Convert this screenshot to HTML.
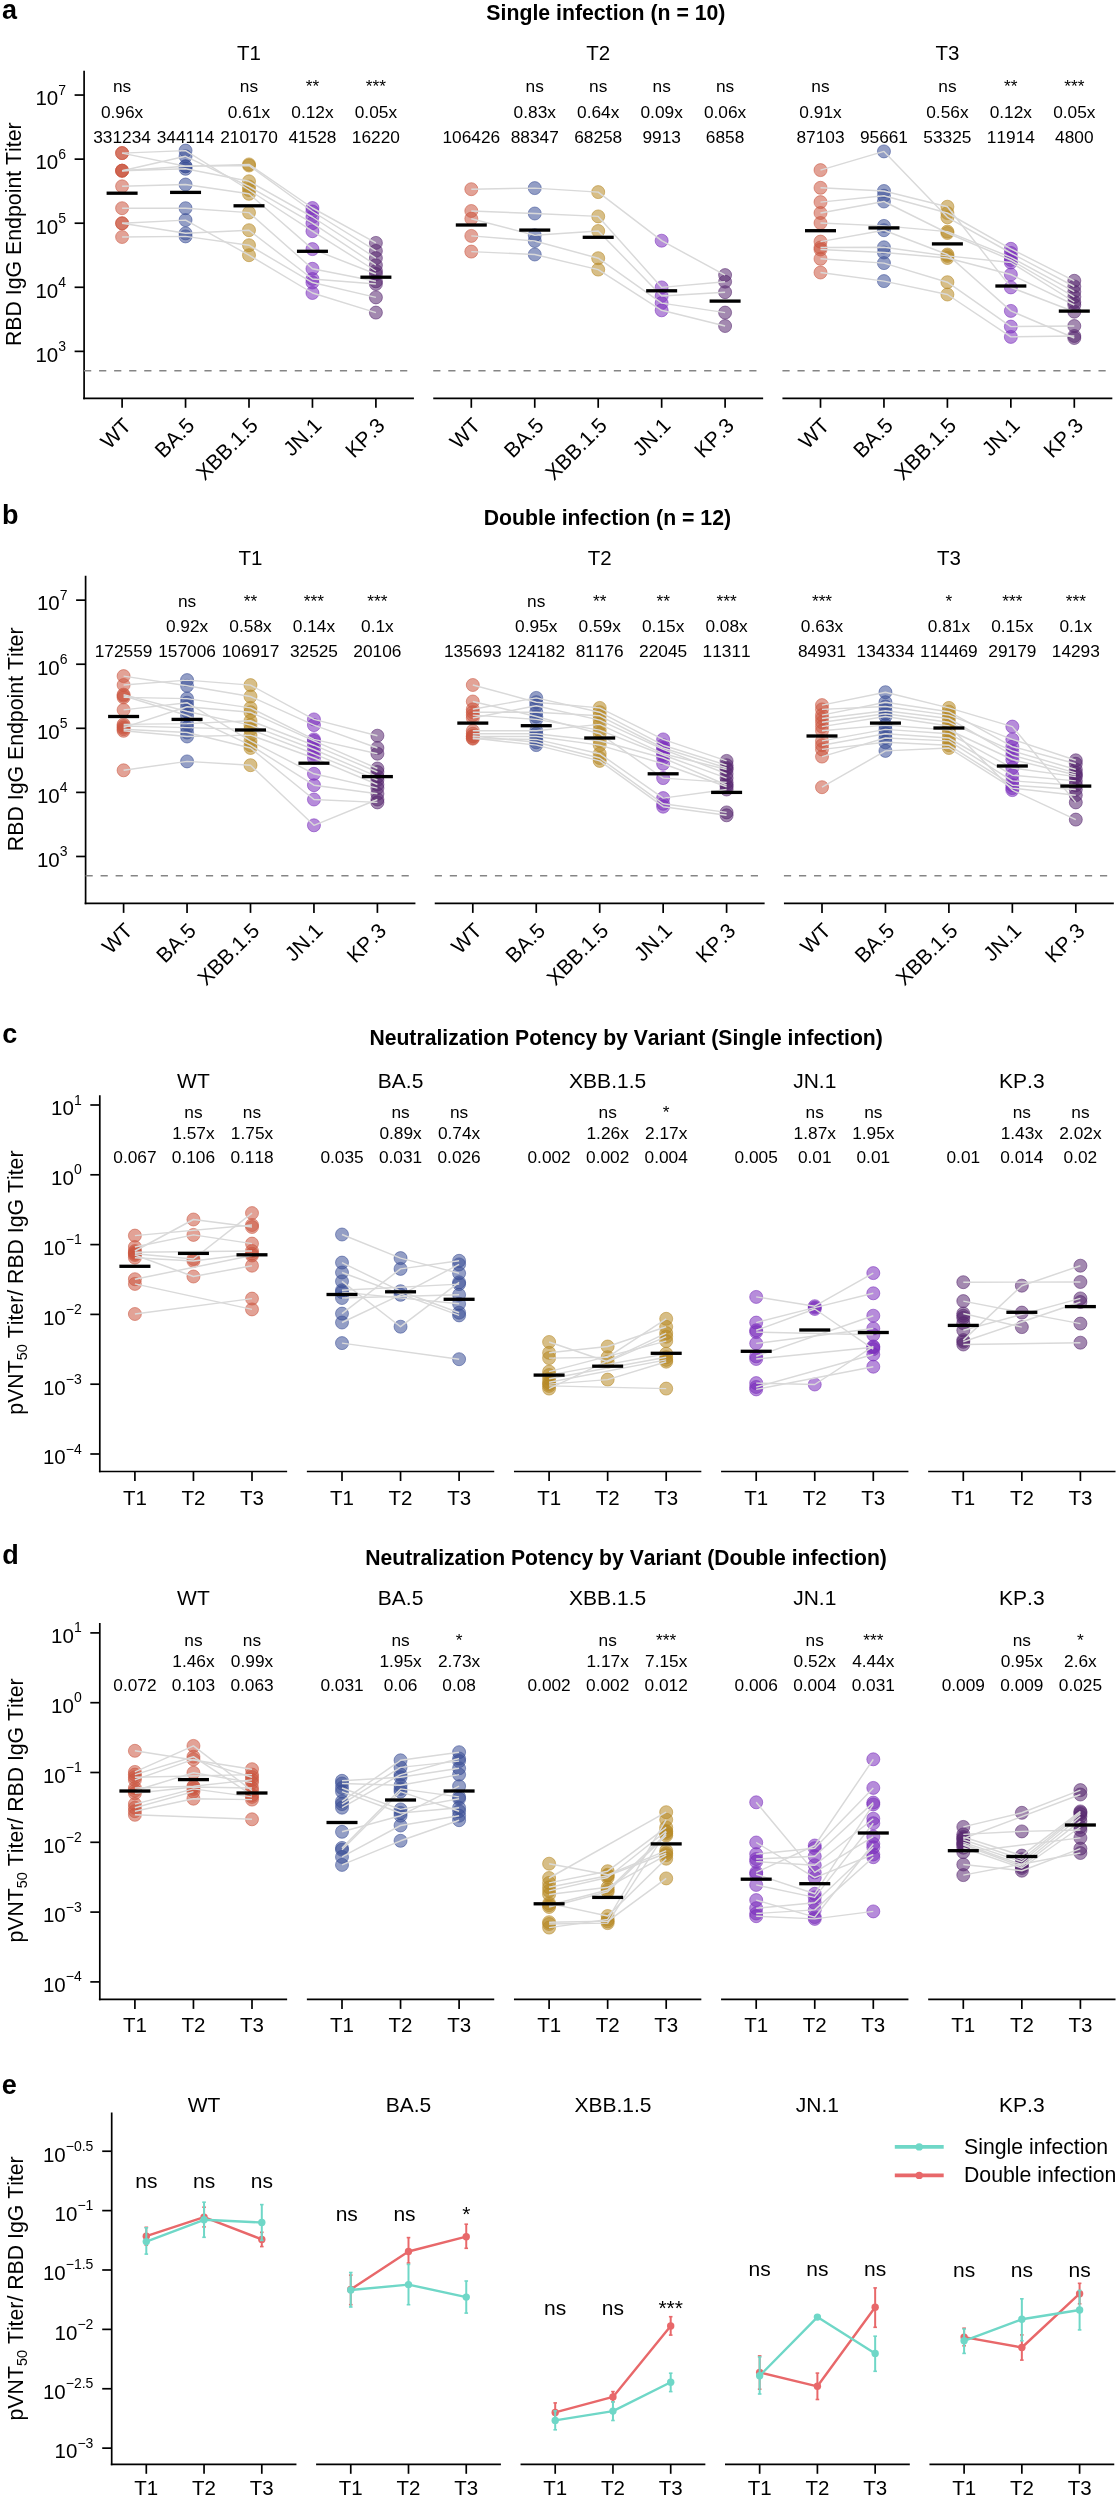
<!DOCTYPE html>
<html><head><meta charset="utf-8"><style>
html,body{margin:0;padding:0;background:#fff;}
svg{display:block;font-family:"Liberation Sans", sans-serif;font-kerning:none;will-change:transform;filter:blur(0.35px);}
</style></head><body>
<svg width="1118" height="2500" viewBox="0 0 1118 2500">
<rect width="1118" height="2500" fill="#fff"/>
<text x="2" y="18.5" font-size="27" font-weight="bold">a</text>
<text x="605.9" y="20" font-size="21.25" text-anchor="middle" font-weight="bold">Single infection (n = 10)</text>
<text x="21.4" y="234.2" font-size="21.3" text-anchor="middle" transform="rotate(-90 21.4 234.2)">RBD IgG Endpoint Titer</text>
<line x1="84.1" y1="70.7" x2="84.1" y2="399.15" stroke="#000" stroke-width="1.7"/>
<line x1="74.6" y1="351.37" x2="84.1" y2="351.37" stroke="#000" stroke-width="1.7"/>
<text x="66" y="361.67" font-size="20.5" text-anchor="end">10<tspan dy="-10.8" font-size="14">3</tspan></text>
<line x1="74.6" y1="287.29" x2="84.1" y2="287.29" stroke="#000" stroke-width="1.7"/>
<text x="66" y="297.59" font-size="20.5" text-anchor="end">10<tspan dy="-10.8" font-size="14">4</tspan></text>
<line x1="74.6" y1="223.21" x2="84.1" y2="223.21" stroke="#000" stroke-width="1.7"/>
<text x="66" y="233.51" font-size="20.5" text-anchor="end">10<tspan dy="-10.8" font-size="14">5</tspan></text>
<line x1="74.6" y1="159.13" x2="84.1" y2="159.13" stroke="#000" stroke-width="1.7"/>
<text x="66" y="169.43" font-size="20.5" text-anchor="end">10<tspan dy="-10.8" font-size="14">6</tspan></text>
<line x1="74.6" y1="95.05" x2="84.1" y2="95.05" stroke="#000" stroke-width="1.7"/>
<text x="66" y="105.35" font-size="20.5" text-anchor="end">10<tspan dy="-10.8" font-size="14">7</tspan></text>
<line x1="83.18" y1="398.3" x2="413.93" y2="398.3" stroke="#000" stroke-width="1.7"/>
<line x1="84.03" y1="370.66" x2="413.93" y2="370.66" stroke="#858585" stroke-width="1.5" stroke-dasharray="7.2,7.85"/>
<line x1="122.1" y1="398.3" x2="122.1" y2="407.8" stroke="#000" stroke-width="1.7"/>
<text x="132.3" y="426.8" font-size="21" text-anchor="end" transform="rotate(-45 132.3 426.8)">WT</text>
<line x1="185.55" y1="398.3" x2="185.55" y2="407.8" stroke="#000" stroke-width="1.7"/>
<text x="195.75" y="426.8" font-size="21" text-anchor="end" transform="rotate(-45 195.75 426.8)">BA.5</text>
<line x1="249" y1="398.3" x2="249" y2="407.8" stroke="#000" stroke-width="1.7"/>
<text x="259.2" y="426.8" font-size="21" text-anchor="end" transform="rotate(-45 259.2 426.8)">XBB.1.5</text>
<line x1="312.45" y1="398.3" x2="312.45" y2="407.8" stroke="#000" stroke-width="1.7"/>
<text x="322.65" y="426.8" font-size="21" text-anchor="end" transform="rotate(-45 322.65 426.8)">JN.1</text>
<line x1="375.9" y1="398.3" x2="375.9" y2="407.8" stroke="#000" stroke-width="1.7"/>
<text x="386.1" y="426.8" font-size="21" text-anchor="end" transform="rotate(-45 386.1 426.8)">KP.3</text>
<text x="248.98" y="59.5" font-size="20.5" text-anchor="middle">T1</text>
<circle cx="122.1" cy="153.1" r="6.5" fill="#cb5640" fill-opacity="0.55" stroke="#cb5640" stroke-width="1.0" stroke-opacity="0.55"/>
<circle cx="185.55" cy="166.3" r="6.5" fill="#3a4f96" fill-opacity="0.55" stroke="#3a4f96" stroke-width="1.0" stroke-opacity="0.55"/>
<circle cx="249" cy="164.4" r="6.5" fill="#b68925" fill-opacity="0.55" stroke="#b68925" stroke-width="1.0" stroke-opacity="0.55"/>
<circle cx="312.45" cy="208" r="6.5" fill="#7a2ebc" fill-opacity="0.55" stroke="#7a2ebc" stroke-width="1.0" stroke-opacity="0.55"/>
<circle cx="375.9" cy="242.9" r="6.5" fill="#582870" fill-opacity="0.55" stroke="#582870" stroke-width="1.0" stroke-opacity="0.55"/>
<circle cx="122.1" cy="170.7" r="6.5" fill="#cb5640" fill-opacity="0.55" stroke="#cb5640" stroke-width="1.0" stroke-opacity="0.55"/>
<circle cx="185.55" cy="166.3" r="6.5" fill="#3a4f96" fill-opacity="0.55" stroke="#3a4f96" stroke-width="1.0" stroke-opacity="0.55"/>
<circle cx="249" cy="165.5" r="6.5" fill="#b68925" fill-opacity="0.55" stroke="#b68925" stroke-width="1.0" stroke-opacity="0.55"/>
<circle cx="312.45" cy="211.5" r="6.5" fill="#7a2ebc" fill-opacity="0.55" stroke="#7a2ebc" stroke-width="1.0" stroke-opacity="0.55"/>
<circle cx="375.9" cy="250.9" r="6.5" fill="#582870" fill-opacity="0.55" stroke="#582870" stroke-width="1.0" stroke-opacity="0.55"/>
<circle cx="122.1" cy="170.7" r="6.5" fill="#cb5640" fill-opacity="0.55" stroke="#cb5640" stroke-width="1.0" stroke-opacity="0.55"/>
<circle cx="185.55" cy="168.8" r="6.5" fill="#3a4f96" fill-opacity="0.55" stroke="#3a4f96" stroke-width="1.0" stroke-opacity="0.55"/>
<circle cx="249" cy="181.3" r="6.5" fill="#b68925" fill-opacity="0.55" stroke="#b68925" stroke-width="1.0" stroke-opacity="0.55"/>
<circle cx="312.45" cy="217" r="6.5" fill="#7a2ebc" fill-opacity="0.55" stroke="#7a2ebc" stroke-width="1.0" stroke-opacity="0.55"/>
<circle cx="375.9" cy="258.1" r="6.5" fill="#582870" fill-opacity="0.55" stroke="#582870" stroke-width="1.0" stroke-opacity="0.55"/>
<circle cx="122.1" cy="170.7" r="6.5" fill="#cb5640" fill-opacity="0.55" stroke="#cb5640" stroke-width="1.0" stroke-opacity="0.55"/>
<circle cx="185.55" cy="156.3" r="6.5" fill="#3a4f96" fill-opacity="0.55" stroke="#3a4f96" stroke-width="1.0" stroke-opacity="0.55"/>
<circle cx="249" cy="186.5" r="6.5" fill="#b68925" fill-opacity="0.55" stroke="#b68925" stroke-width="1.0" stroke-opacity="0.55"/>
<circle cx="312.45" cy="223.2" r="6.5" fill="#7a2ebc" fill-opacity="0.55" stroke="#7a2ebc" stroke-width="1.0" stroke-opacity="0.55"/>
<circle cx="375.9" cy="265.2" r="6.5" fill="#582870" fill-opacity="0.55" stroke="#582870" stroke-width="1.0" stroke-opacity="0.55"/>
<circle cx="122.1" cy="153.1" r="6.5" fill="#cb5640" fill-opacity="0.55" stroke="#cb5640" stroke-width="1.0" stroke-opacity="0.55"/>
<circle cx="185.55" cy="150.6" r="6.5" fill="#3a4f96" fill-opacity="0.55" stroke="#3a4f96" stroke-width="1.0" stroke-opacity="0.55"/>
<circle cx="249" cy="190" r="6.5" fill="#b68925" fill-opacity="0.55" stroke="#b68925" stroke-width="1.0" stroke-opacity="0.55"/>
<circle cx="312.45" cy="231.2" r="6.5" fill="#7a2ebc" fill-opacity="0.55" stroke="#7a2ebc" stroke-width="1.0" stroke-opacity="0.55"/>
<circle cx="375.9" cy="271" r="6.5" fill="#582870" fill-opacity="0.55" stroke="#582870" stroke-width="1.0" stroke-opacity="0.55"/>
<circle cx="122.1" cy="186.3" r="6.5" fill="#cb5640" fill-opacity="0.55" stroke="#cb5640" stroke-width="1.0" stroke-opacity="0.55"/>
<circle cx="185.55" cy="184.5" r="6.5" fill="#3a4f96" fill-opacity="0.55" stroke="#3a4f96" stroke-width="1.0" stroke-opacity="0.55"/>
<circle cx="249" cy="193.8" r="6.5" fill="#b68925" fill-opacity="0.55" stroke="#b68925" stroke-width="1.0" stroke-opacity="0.55"/>
<circle cx="312.45" cy="249.1" r="6.5" fill="#7a2ebc" fill-opacity="0.55" stroke="#7a2ebc" stroke-width="1.0" stroke-opacity="0.55"/>
<circle cx="375.9" cy="274" r="6.5" fill="#582870" fill-opacity="0.55" stroke="#582870" stroke-width="1.0" stroke-opacity="0.55"/>
<circle cx="122.1" cy="208.2" r="6.5" fill="#cb5640" fill-opacity="0.55" stroke="#cb5640" stroke-width="1.0" stroke-opacity="0.55"/>
<circle cx="185.55" cy="208.2" r="6.5" fill="#3a4f96" fill-opacity="0.55" stroke="#3a4f96" stroke-width="1.0" stroke-opacity="0.55"/>
<circle cx="249" cy="212.6" r="6.5" fill="#b68925" fill-opacity="0.55" stroke="#b68925" stroke-width="1.0" stroke-opacity="0.55"/>
<circle cx="312.45" cy="268.8" r="6.5" fill="#7a2ebc" fill-opacity="0.55" stroke="#7a2ebc" stroke-width="1.0" stroke-opacity="0.55"/>
<circle cx="375.9" cy="281.3" r="6.5" fill="#582870" fill-opacity="0.55" stroke="#582870" stroke-width="1.0" stroke-opacity="0.55"/>
<circle cx="122.1" cy="223.3" r="6.5" fill="#cb5640" fill-opacity="0.55" stroke="#cb5640" stroke-width="1.0" stroke-opacity="0.55"/>
<circle cx="185.55" cy="233.3" r="6.5" fill="#3a4f96" fill-opacity="0.55" stroke="#3a4f96" stroke-width="1.0" stroke-opacity="0.55"/>
<circle cx="249" cy="230.2" r="6.5" fill="#b68925" fill-opacity="0.55" stroke="#b68925" stroke-width="1.0" stroke-opacity="0.55"/>
<circle cx="312.45" cy="279" r="6.5" fill="#7a2ebc" fill-opacity="0.55" stroke="#7a2ebc" stroke-width="1.0" stroke-opacity="0.55"/>
<circle cx="375.9" cy="284" r="6.5" fill="#582870" fill-opacity="0.55" stroke="#582870" stroke-width="1.0" stroke-opacity="0.55"/>
<circle cx="122.1" cy="237" r="6.5" fill="#cb5640" fill-opacity="0.55" stroke="#cb5640" stroke-width="1.0" stroke-opacity="0.55"/>
<circle cx="185.55" cy="236.4" r="6.5" fill="#3a4f96" fill-opacity="0.55" stroke="#3a4f96" stroke-width="1.0" stroke-opacity="0.55"/>
<circle cx="249" cy="245.2" r="6.5" fill="#b68925" fill-opacity="0.55" stroke="#b68925" stroke-width="1.0" stroke-opacity="0.55"/>
<circle cx="312.45" cy="282.5" r="6.5" fill="#7a2ebc" fill-opacity="0.55" stroke="#7a2ebc" stroke-width="1.0" stroke-opacity="0.55"/>
<circle cx="375.9" cy="297.4" r="6.5" fill="#582870" fill-opacity="0.55" stroke="#582870" stroke-width="1.0" stroke-opacity="0.55"/>
<circle cx="122.1" cy="223.3" r="6.5" fill="#cb5640" fill-opacity="0.55" stroke="#cb5640" stroke-width="1.0" stroke-opacity="0.55"/>
<circle cx="185.55" cy="220.1" r="6.5" fill="#3a4f96" fill-opacity="0.55" stroke="#3a4f96" stroke-width="1.0" stroke-opacity="0.55"/>
<circle cx="249" cy="255.2" r="6.5" fill="#b68925" fill-opacity="0.55" stroke="#b68925" stroke-width="1.0" stroke-opacity="0.55"/>
<circle cx="312.45" cy="293" r="6.5" fill="#7a2ebc" fill-opacity="0.55" stroke="#7a2ebc" stroke-width="1.0" stroke-opacity="0.55"/>
<circle cx="375.9" cy="312.6" r="6.5" fill="#582870" fill-opacity="0.55" stroke="#582870" stroke-width="1.0" stroke-opacity="0.55"/>
<polyline points="122.1,153.1 185.55,166.3 249,164.4 312.45,208 375.9,242.9" fill="none" stroke="#d9d9d9" stroke-width="1.45" stroke-linejoin="round"/>
<polyline points="122.1,170.7 185.55,166.3 249,165.5 312.45,211.5 375.9,250.9" fill="none" stroke="#d9d9d9" stroke-width="1.45" stroke-linejoin="round"/>
<polyline points="122.1,170.7 185.55,168.8 249,181.3 312.45,217 375.9,258.1" fill="none" stroke="#d9d9d9" stroke-width="1.45" stroke-linejoin="round"/>
<polyline points="122.1,170.7 185.55,156.3 249,186.5 312.45,223.2 375.9,265.2" fill="none" stroke="#d9d9d9" stroke-width="1.45" stroke-linejoin="round"/>
<polyline points="122.1,153.1 185.55,150.6 249,190 312.45,231.2 375.9,271" fill="none" stroke="#d9d9d9" stroke-width="1.45" stroke-linejoin="round"/>
<polyline points="122.1,186.3 185.55,184.5 249,193.8 312.45,249.1 375.9,274" fill="none" stroke="#d9d9d9" stroke-width="1.45" stroke-linejoin="round"/>
<polyline points="122.1,208.2 185.55,208.2 249,212.6 312.45,268.8 375.9,281.3" fill="none" stroke="#d9d9d9" stroke-width="1.45" stroke-linejoin="round"/>
<polyline points="122.1,223.3 185.55,233.3 249,230.2 312.45,279 375.9,284" fill="none" stroke="#d9d9d9" stroke-width="1.45" stroke-linejoin="round"/>
<polyline points="122.1,237 185.55,236.4 249,245.2 312.45,282.5 375.9,297.4" fill="none" stroke="#d9d9d9" stroke-width="1.45" stroke-linejoin="round"/>
<polyline points="122.1,223.3 185.55,220.1 249,255.2 312.45,293 375.9,312.6" fill="none" stroke="#d9d9d9" stroke-width="1.45" stroke-linejoin="round"/>
<rect x="106.6" y="191.55" width="31" height="3.3" fill="#000"/>
<rect x="170.05" y="190.75" width="31" height="3.3" fill="#000"/>
<rect x="233.5" y="204.15" width="31" height="3.3" fill="#000"/>
<rect x="296.95" y="249.65" width="31" height="3.3" fill="#000"/>
<rect x="360.4" y="275.55" width="31" height="3.3" fill="#000"/>
<text x="122.1" y="92" font-size="17.3" text-anchor="middle">ns</text>
<text x="249" y="92" font-size="17.3" text-anchor="middle">ns</text>
<text x="312.45" y="92" font-size="17.3" text-anchor="middle">**</text>
<text x="375.9" y="92" font-size="17.3" text-anchor="middle">***</text>
<text x="122.1" y="117.8" font-size="17.3" text-anchor="middle">0.96x</text>
<text x="249" y="117.8" font-size="17.3" text-anchor="middle">0.61x</text>
<text x="312.45" y="117.8" font-size="17.3" text-anchor="middle">0.12x</text>
<text x="375.9" y="117.8" font-size="17.3" text-anchor="middle">0.05x</text>
<text x="122.1" y="142.8" font-size="17.3" text-anchor="middle">331234</text>
<text x="185.55" y="142.8" font-size="17.3" text-anchor="middle">344114</text>
<text x="249" y="142.8" font-size="17.3" text-anchor="middle">210170</text>
<text x="312.45" y="142.8" font-size="17.3" text-anchor="middle">41528</text>
<text x="375.9" y="142.8" font-size="17.3" text-anchor="middle">16220</text>
<line x1="433.23" y1="398.3" x2="763.13" y2="398.3" stroke="#000" stroke-width="1.7"/>
<line x1="433.23" y1="370.66" x2="763.13" y2="370.66" stroke="#858585" stroke-width="1.5" stroke-dasharray="7.2,7.85"/>
<line x1="471.3" y1="398.3" x2="471.3" y2="407.8" stroke="#000" stroke-width="1.7"/>
<text x="481.5" y="426.8" font-size="21" text-anchor="end" transform="rotate(-45 481.5 426.8)">WT</text>
<line x1="534.75" y1="398.3" x2="534.75" y2="407.8" stroke="#000" stroke-width="1.7"/>
<text x="544.95" y="426.8" font-size="21" text-anchor="end" transform="rotate(-45 544.95 426.8)">BA.5</text>
<line x1="598.2" y1="398.3" x2="598.2" y2="407.8" stroke="#000" stroke-width="1.7"/>
<text x="608.4" y="426.8" font-size="21" text-anchor="end" transform="rotate(-45 608.4 426.8)">XBB.1.5</text>
<line x1="661.65" y1="398.3" x2="661.65" y2="407.8" stroke="#000" stroke-width="1.7"/>
<text x="671.85" y="426.8" font-size="21" text-anchor="end" transform="rotate(-45 671.85 426.8)">JN.1</text>
<line x1="725.1" y1="398.3" x2="725.1" y2="407.8" stroke="#000" stroke-width="1.7"/>
<text x="735.3" y="426.8" font-size="21" text-anchor="end" transform="rotate(-45 735.3 426.8)">KP.3</text>
<text x="598.18" y="59.5" font-size="20.5" text-anchor="middle">T2</text>
<circle cx="471.3" cy="189.2" r="6.5" fill="#cb5640" fill-opacity="0.55" stroke="#cb5640" stroke-width="1.0" stroke-opacity="0.55"/>
<circle cx="534.75" cy="188.1" r="6.5" fill="#3a4f96" fill-opacity="0.55" stroke="#3a4f96" stroke-width="1.0" stroke-opacity="0.55"/>
<circle cx="598.2" cy="192.1" r="6.5" fill="#b68925" fill-opacity="0.55" stroke="#b68925" stroke-width="1.0" stroke-opacity="0.55"/>
<circle cx="661.65" cy="240.7" r="6.5" fill="#7a2ebc" fill-opacity="0.55" stroke="#7a2ebc" stroke-width="1.0" stroke-opacity="0.55"/>
<circle cx="725.1" cy="275.1" r="6.5" fill="#582870" fill-opacity="0.55" stroke="#582870" stroke-width="1.0" stroke-opacity="0.55"/>
<circle cx="471.3" cy="211" r="6.5" fill="#cb5640" fill-opacity="0.55" stroke="#cb5640" stroke-width="1.0" stroke-opacity="0.55"/>
<circle cx="534.75" cy="213.5" r="6.5" fill="#3a4f96" fill-opacity="0.55" stroke="#3a4f96" stroke-width="1.0" stroke-opacity="0.55"/>
<circle cx="598.2" cy="216.4" r="6.5" fill="#b68925" fill-opacity="0.55" stroke="#b68925" stroke-width="1.0" stroke-opacity="0.55"/>
<circle cx="661.65" cy="287.4" r="6.5" fill="#7a2ebc" fill-opacity="0.55" stroke="#7a2ebc" stroke-width="1.0" stroke-opacity="0.55"/>
<circle cx="725.1" cy="281.7" r="6.5" fill="#582870" fill-opacity="0.55" stroke="#582870" stroke-width="1.0" stroke-opacity="0.55"/>
<circle cx="471.3" cy="218.7" r="6.5" fill="#cb5640" fill-opacity="0.55" stroke="#cb5640" stroke-width="1.0" stroke-opacity="0.55"/>
<circle cx="534.75" cy="235.3" r="6.5" fill="#3a4f96" fill-opacity="0.55" stroke="#3a4f96" stroke-width="1.0" stroke-opacity="0.55"/>
<circle cx="598.2" cy="231" r="6.5" fill="#b68925" fill-opacity="0.55" stroke="#b68925" stroke-width="1.0" stroke-opacity="0.55"/>
<circle cx="661.65" cy="296" r="6.5" fill="#7a2ebc" fill-opacity="0.55" stroke="#7a2ebc" stroke-width="1.0" stroke-opacity="0.55"/>
<circle cx="725.1" cy="292.2" r="6.5" fill="#582870" fill-opacity="0.55" stroke="#582870" stroke-width="1.0" stroke-opacity="0.55"/>
<circle cx="471.3" cy="235.9" r="6.5" fill="#cb5640" fill-opacity="0.55" stroke="#cb5640" stroke-width="1.0" stroke-opacity="0.55"/>
<circle cx="534.75" cy="241" r="6.5" fill="#3a4f96" fill-opacity="0.55" stroke="#3a4f96" stroke-width="1.0" stroke-opacity="0.55"/>
<circle cx="598.2" cy="258.2" r="6.5" fill="#b68925" fill-opacity="0.55" stroke="#b68925" stroke-width="1.0" stroke-opacity="0.55"/>
<circle cx="661.65" cy="303.1" r="6.5" fill="#7a2ebc" fill-opacity="0.55" stroke="#7a2ebc" stroke-width="1.0" stroke-opacity="0.55"/>
<circle cx="725.1" cy="312.6" r="6.5" fill="#582870" fill-opacity="0.55" stroke="#582870" stroke-width="1.0" stroke-opacity="0.55"/>
<circle cx="471.3" cy="251.6" r="6.5" fill="#cb5640" fill-opacity="0.55" stroke="#cb5640" stroke-width="1.0" stroke-opacity="0.55"/>
<circle cx="534.75" cy="254.5" r="6.5" fill="#3a4f96" fill-opacity="0.55" stroke="#3a4f96" stroke-width="1.0" stroke-opacity="0.55"/>
<circle cx="598.2" cy="269.6" r="6.5" fill="#b68925" fill-opacity="0.55" stroke="#b68925" stroke-width="1.0" stroke-opacity="0.55"/>
<circle cx="661.65" cy="310.3" r="6.5" fill="#7a2ebc" fill-opacity="0.55" stroke="#7a2ebc" stroke-width="1.0" stroke-opacity="0.55"/>
<circle cx="725.1" cy="326" r="6.5" fill="#582870" fill-opacity="0.55" stroke="#582870" stroke-width="1.0" stroke-opacity="0.55"/>
<polyline points="471.3,189.2 534.75,188.1 598.2,192.1 661.65,240.7 725.1,275.1" fill="none" stroke="#d9d9d9" stroke-width="1.45" stroke-linejoin="round"/>
<polyline points="471.3,211 534.75,213.5 598.2,216.4 661.65,287.4 725.1,281.7" fill="none" stroke="#d9d9d9" stroke-width="1.45" stroke-linejoin="round"/>
<polyline points="471.3,218.7 534.75,235.3 598.2,231 661.65,296 725.1,292.2" fill="none" stroke="#d9d9d9" stroke-width="1.45" stroke-linejoin="round"/>
<polyline points="471.3,235.9 534.75,241 598.2,258.2 661.65,303.1 725.1,312.6" fill="none" stroke="#d9d9d9" stroke-width="1.45" stroke-linejoin="round"/>
<polyline points="471.3,251.6 534.75,254.5 598.2,269.6 661.65,310.3 725.1,326" fill="none" stroke="#d9d9d9" stroke-width="1.45" stroke-linejoin="round"/>
<rect x="455.8" y="223.35" width="31" height="3.3" fill="#000"/>
<rect x="519.25" y="228.45" width="31" height="3.3" fill="#000"/>
<rect x="582.7" y="235.65" width="31" height="3.3" fill="#000"/>
<rect x="646.15" y="289.15" width="31" height="3.3" fill="#000"/>
<rect x="709.6" y="299.45" width="31" height="3.3" fill="#000"/>
<text x="534.75" y="92" font-size="17.3" text-anchor="middle">ns</text>
<text x="598.2" y="92" font-size="17.3" text-anchor="middle">ns</text>
<text x="661.65" y="92" font-size="17.3" text-anchor="middle">ns</text>
<text x="725.1" y="92" font-size="17.3" text-anchor="middle">ns</text>
<text x="534.75" y="117.8" font-size="17.3" text-anchor="middle">0.83x</text>
<text x="598.2" y="117.8" font-size="17.3" text-anchor="middle">0.64x</text>
<text x="661.65" y="117.8" font-size="17.3" text-anchor="middle">0.09x</text>
<text x="725.1" y="117.8" font-size="17.3" text-anchor="middle">0.06x</text>
<text x="471.3" y="142.8" font-size="17.3" text-anchor="middle">106426</text>
<text x="534.75" y="142.8" font-size="17.3" text-anchor="middle">88347</text>
<text x="598.2" y="142.8" font-size="17.3" text-anchor="middle">68258</text>
<text x="661.65" y="142.8" font-size="17.3" text-anchor="middle">9913</text>
<text x="725.1" y="142.8" font-size="17.3" text-anchor="middle">6858</text>
<line x1="782.43" y1="398.3" x2="1112.33" y2="398.3" stroke="#000" stroke-width="1.7"/>
<line x1="782.43" y1="370.66" x2="1112.33" y2="370.66" stroke="#858585" stroke-width="1.5" stroke-dasharray="7.2,7.85"/>
<line x1="820.5" y1="398.3" x2="820.5" y2="407.8" stroke="#000" stroke-width="1.7"/>
<text x="830.7" y="426.8" font-size="21" text-anchor="end" transform="rotate(-45 830.7 426.8)">WT</text>
<line x1="883.95" y1="398.3" x2="883.95" y2="407.8" stroke="#000" stroke-width="1.7"/>
<text x="894.15" y="426.8" font-size="21" text-anchor="end" transform="rotate(-45 894.15 426.8)">BA.5</text>
<line x1="947.4" y1="398.3" x2="947.4" y2="407.8" stroke="#000" stroke-width="1.7"/>
<text x="957.6" y="426.8" font-size="21" text-anchor="end" transform="rotate(-45 957.6 426.8)">XBB.1.5</text>
<line x1="1010.85" y1="398.3" x2="1010.85" y2="407.8" stroke="#000" stroke-width="1.7"/>
<text x="1021.05" y="426.8" font-size="21" text-anchor="end" transform="rotate(-45 1021.05 426.8)">JN.1</text>
<line x1="1074.3" y1="398.3" x2="1074.3" y2="407.8" stroke="#000" stroke-width="1.7"/>
<text x="1084.5" y="426.8" font-size="21" text-anchor="end" transform="rotate(-45 1084.5 426.8)">KP.3</text>
<text x="947.38" y="59.5" font-size="20.5" text-anchor="middle">T3</text>
<circle cx="820.5" cy="170.1" r="6.5" fill="#cb5640" fill-opacity="0.55" stroke="#cb5640" stroke-width="1.0" stroke-opacity="0.55"/>
<circle cx="883.95" cy="151.4" r="6.5" fill="#3a4f96" fill-opacity="0.55" stroke="#3a4f96" stroke-width="1.0" stroke-opacity="0.55"/>
<circle cx="947.4" cy="217.3" r="6.5" fill="#b68925" fill-opacity="0.55" stroke="#b68925" stroke-width="1.0" stroke-opacity="0.55"/>
<circle cx="1010.85" cy="253" r="6.5" fill="#7a2ebc" fill-opacity="0.55" stroke="#7a2ebc" stroke-width="1.0" stroke-opacity="0.55"/>
<circle cx="1074.3" cy="286.5" r="6.5" fill="#582870" fill-opacity="0.55" stroke="#582870" stroke-width="1.0" stroke-opacity="0.55"/>
<circle cx="820.5" cy="187.8" r="6.5" fill="#cb5640" fill-opacity="0.55" stroke="#cb5640" stroke-width="1.0" stroke-opacity="0.55"/>
<circle cx="883.95" cy="191" r="6.5" fill="#3a4f96" fill-opacity="0.55" stroke="#3a4f96" stroke-width="1.0" stroke-opacity="0.55"/>
<circle cx="947.4" cy="206.7" r="6.5" fill="#b68925" fill-opacity="0.55" stroke="#b68925" stroke-width="1.0" stroke-opacity="0.55"/>
<circle cx="1010.85" cy="287.4" r="6.5" fill="#7a2ebc" fill-opacity="0.55" stroke="#7a2ebc" stroke-width="1.0" stroke-opacity="0.55"/>
<circle cx="1074.3" cy="311.7" r="6.5" fill="#582870" fill-opacity="0.55" stroke="#582870" stroke-width="1.0" stroke-opacity="0.55"/>
<circle cx="820.5" cy="202.1" r="6.5" fill="#cb5640" fill-opacity="0.55" stroke="#cb5640" stroke-width="1.0" stroke-opacity="0.55"/>
<circle cx="883.95" cy="195.8" r="6.5" fill="#3a4f96" fill-opacity="0.55" stroke="#3a4f96" stroke-width="1.0" stroke-opacity="0.55"/>
<circle cx="947.4" cy="213" r="6.5" fill="#b68925" fill-opacity="0.55" stroke="#b68925" stroke-width="1.0" stroke-opacity="0.55"/>
<circle cx="1010.85" cy="248.8" r="6.5" fill="#7a2ebc" fill-opacity="0.55" stroke="#7a2ebc" stroke-width="1.0" stroke-opacity="0.55"/>
<circle cx="1074.3" cy="280.8" r="6.5" fill="#582870" fill-opacity="0.55" stroke="#582870" stroke-width="1.0" stroke-opacity="0.55"/>
<circle cx="820.5" cy="213" r="6.5" fill="#cb5640" fill-opacity="0.55" stroke="#cb5640" stroke-width="1.0" stroke-opacity="0.55"/>
<circle cx="883.95" cy="201.5" r="6.5" fill="#3a4f96" fill-opacity="0.55" stroke="#3a4f96" stroke-width="1.0" stroke-opacity="0.55"/>
<circle cx="947.4" cy="233" r="6.5" fill="#b68925" fill-opacity="0.55" stroke="#b68925" stroke-width="1.0" stroke-opacity="0.55"/>
<circle cx="1010.85" cy="260" r="6.5" fill="#7a2ebc" fill-opacity="0.55" stroke="#7a2ebc" stroke-width="1.0" stroke-opacity="0.55"/>
<circle cx="1074.3" cy="296.8" r="6.5" fill="#582870" fill-opacity="0.55" stroke="#582870" stroke-width="1.0" stroke-opacity="0.55"/>
<circle cx="820.5" cy="223" r="6.5" fill="#cb5640" fill-opacity="0.55" stroke="#cb5640" stroke-width="1.0" stroke-opacity="0.55"/>
<circle cx="883.95" cy="225.9" r="6.5" fill="#3a4f96" fill-opacity="0.55" stroke="#3a4f96" stroke-width="1.0" stroke-opacity="0.55"/>
<circle cx="947.4" cy="231.6" r="6.5" fill="#b68925" fill-opacity="0.55" stroke="#b68925" stroke-width="1.0" stroke-opacity="0.55"/>
<circle cx="1010.85" cy="257.3" r="6.5" fill="#7a2ebc" fill-opacity="0.55" stroke="#7a2ebc" stroke-width="1.0" stroke-opacity="0.55"/>
<circle cx="1074.3" cy="291.7" r="6.5" fill="#582870" fill-opacity="0.55" stroke="#582870" stroke-width="1.0" stroke-opacity="0.55"/>
<circle cx="820.5" cy="241.6" r="6.5" fill="#cb5640" fill-opacity="0.55" stroke="#cb5640" stroke-width="1.0" stroke-opacity="0.55"/>
<circle cx="883.95" cy="230.2" r="6.5" fill="#3a4f96" fill-opacity="0.55" stroke="#3a4f96" stroke-width="1.0" stroke-opacity="0.55"/>
<circle cx="947.4" cy="254.5" r="6.5" fill="#b68925" fill-opacity="0.55" stroke="#b68925" stroke-width="1.0" stroke-opacity="0.55"/>
<circle cx="1010.85" cy="310.9" r="6.5" fill="#7a2ebc" fill-opacity="0.55" stroke="#7a2ebc" stroke-width="1.0" stroke-opacity="0.55"/>
<circle cx="1074.3" cy="338" r="6.5" fill="#582870" fill-opacity="0.55" stroke="#582870" stroke-width="1.0" stroke-opacity="0.55"/>
<circle cx="820.5" cy="247.5" r="6.5" fill="#cb5640" fill-opacity="0.55" stroke="#cb5640" stroke-width="1.0" stroke-opacity="0.55"/>
<circle cx="883.95" cy="247.3" r="6.5" fill="#3a4f96" fill-opacity="0.55" stroke="#3a4f96" stroke-width="1.0" stroke-opacity="0.55"/>
<circle cx="947.4" cy="255.9" r="6.5" fill="#b68925" fill-opacity="0.55" stroke="#b68925" stroke-width="1.0" stroke-opacity="0.55"/>
<circle cx="1010.85" cy="262.5" r="6.5" fill="#7a2ebc" fill-opacity="0.55" stroke="#7a2ebc" stroke-width="1.0" stroke-opacity="0.55"/>
<circle cx="1074.3" cy="302" r="6.5" fill="#582870" fill-opacity="0.55" stroke="#582870" stroke-width="1.0" stroke-opacity="0.55"/>
<circle cx="820.5" cy="249.5" r="6.5" fill="#cb5640" fill-opacity="0.55" stroke="#cb5640" stroke-width="1.0" stroke-opacity="0.55"/>
<circle cx="883.95" cy="252.5" r="6.5" fill="#3a4f96" fill-opacity="0.55" stroke="#3a4f96" stroke-width="1.0" stroke-opacity="0.55"/>
<circle cx="947.4" cy="258" r="6.5" fill="#b68925" fill-opacity="0.55" stroke="#b68925" stroke-width="1.0" stroke-opacity="0.55"/>
<circle cx="1010.85" cy="274.5" r="6.5" fill="#7a2ebc" fill-opacity="0.55" stroke="#7a2ebc" stroke-width="1.0" stroke-opacity="0.55"/>
<circle cx="1074.3" cy="305" r="6.5" fill="#582870" fill-opacity="0.55" stroke="#582870" stroke-width="1.0" stroke-opacity="0.55"/>
<circle cx="820.5" cy="258.8" r="6.5" fill="#cb5640" fill-opacity="0.55" stroke="#cb5640" stroke-width="1.0" stroke-opacity="0.55"/>
<circle cx="883.95" cy="263.1" r="6.5" fill="#3a4f96" fill-opacity="0.55" stroke="#3a4f96" stroke-width="1.0" stroke-opacity="0.55"/>
<circle cx="947.4" cy="282.2" r="6.5" fill="#b68925" fill-opacity="0.55" stroke="#b68925" stroke-width="1.0" stroke-opacity="0.55"/>
<circle cx="1010.85" cy="326.6" r="6.5" fill="#7a2ebc" fill-opacity="0.55" stroke="#7a2ebc" stroke-width="1.0" stroke-opacity="0.55"/>
<circle cx="1074.3" cy="326" r="6.5" fill="#582870" fill-opacity="0.55" stroke="#582870" stroke-width="1.0" stroke-opacity="0.55"/>
<circle cx="820.5" cy="272.5" r="6.5" fill="#cb5640" fill-opacity="0.55" stroke="#cb5640" stroke-width="1.0" stroke-opacity="0.55"/>
<circle cx="883.95" cy="281.1" r="6.5" fill="#3a4f96" fill-opacity="0.55" stroke="#3a4f96" stroke-width="1.0" stroke-opacity="0.55"/>
<circle cx="947.4" cy="294.5" r="6.5" fill="#b68925" fill-opacity="0.55" stroke="#b68925" stroke-width="1.0" stroke-opacity="0.55"/>
<circle cx="1010.85" cy="336.9" r="6.5" fill="#7a2ebc" fill-opacity="0.55" stroke="#7a2ebc" stroke-width="1.0" stroke-opacity="0.55"/>
<circle cx="1074.3" cy="336" r="6.5" fill="#582870" fill-opacity="0.55" stroke="#582870" stroke-width="1.0" stroke-opacity="0.55"/>
<polyline points="820.5,170.1 883.95,151.4 947.4,217.3 1010.85,253 1074.3,286.5" fill="none" stroke="#d9d9d9" stroke-width="1.45" stroke-linejoin="round"/>
<polyline points="820.5,187.8 883.95,191 947.4,206.7 1010.85,287.4 1074.3,311.7" fill="none" stroke="#d9d9d9" stroke-width="1.45" stroke-linejoin="round"/>
<polyline points="820.5,202.1 883.95,195.8 947.4,213 1010.85,248.8 1074.3,280.8" fill="none" stroke="#d9d9d9" stroke-width="1.45" stroke-linejoin="round"/>
<polyline points="820.5,213 883.95,201.5 947.4,233 1010.85,260 1074.3,296.8" fill="none" stroke="#d9d9d9" stroke-width="1.45" stroke-linejoin="round"/>
<polyline points="820.5,223 883.95,225.9 947.4,231.6 1010.85,257.3 1074.3,291.7" fill="none" stroke="#d9d9d9" stroke-width="1.45" stroke-linejoin="round"/>
<polyline points="820.5,241.6 883.95,230.2 947.4,254.5 1010.85,310.9 1074.3,338" fill="none" stroke="#d9d9d9" stroke-width="1.45" stroke-linejoin="round"/>
<polyline points="820.5,247.5 883.95,247.3 947.4,255.9 1010.85,262.5 1074.3,302" fill="none" stroke="#d9d9d9" stroke-width="1.45" stroke-linejoin="round"/>
<polyline points="820.5,249.5 883.95,252.5 947.4,258 1010.85,274.5 1074.3,305" fill="none" stroke="#d9d9d9" stroke-width="1.45" stroke-linejoin="round"/>
<polyline points="820.5,258.8 883.95,263.1 947.4,282.2 1010.85,326.6 1074.3,326" fill="none" stroke="#d9d9d9" stroke-width="1.45" stroke-linejoin="round"/>
<polyline points="820.5,272.5 883.95,281.1 947.4,294.5 1010.85,336.9 1074.3,336" fill="none" stroke="#d9d9d9" stroke-width="1.45" stroke-linejoin="round"/>
<rect x="805" y="229.05" width="31" height="3.3" fill="#000"/>
<rect x="868.45" y="226.25" width="31" height="3.3" fill="#000"/>
<rect x="931.9" y="242.25" width="31" height="3.3" fill="#000"/>
<rect x="995.35" y="284.35" width="31" height="3.3" fill="#000"/>
<rect x="1058.8" y="309.45" width="31" height="3.3" fill="#000"/>
<text x="820.5" y="92" font-size="17.3" text-anchor="middle">ns</text>
<text x="947.4" y="92" font-size="17.3" text-anchor="middle">ns</text>
<text x="1010.85" y="92" font-size="17.3" text-anchor="middle">**</text>
<text x="1074.3" y="92" font-size="17.3" text-anchor="middle">***</text>
<text x="820.5" y="117.8" font-size="17.3" text-anchor="middle">0.91x</text>
<text x="947.4" y="117.8" font-size="17.3" text-anchor="middle">0.56x</text>
<text x="1010.85" y="117.8" font-size="17.3" text-anchor="middle">0.12x</text>
<text x="1074.3" y="117.8" font-size="17.3" text-anchor="middle">0.05x</text>
<text x="820.5" y="142.8" font-size="17.3" text-anchor="middle">87103</text>
<text x="883.95" y="142.8" font-size="17.3" text-anchor="middle">95661</text>
<text x="947.4" y="142.8" font-size="17.3" text-anchor="middle">53325</text>
<text x="1010.85" y="142.8" font-size="17.3" text-anchor="middle">11914</text>
<text x="1074.3" y="142.8" font-size="17.3" text-anchor="middle">4800</text>
<text x="2" y="523.6" font-size="27" font-weight="bold">b</text>
<text x="607.4" y="525.1" font-size="21.25" text-anchor="middle" font-weight="bold">Double infection (n = 12)</text>
<text x="22.9" y="739.3" font-size="21.3" text-anchor="middle" transform="rotate(-90 22.9 739.3)">RBD IgG Endpoint Titer</text>
<line x1="85.6" y1="575.8" x2="85.6" y2="904.25" stroke="#000" stroke-width="1.7"/>
<line x1="76.1" y1="856.47" x2="85.6" y2="856.47" stroke="#000" stroke-width="1.7"/>
<text x="67.5" y="866.77" font-size="20.5" text-anchor="end">10<tspan dy="-10.8" font-size="14">3</tspan></text>
<line x1="76.1" y1="792.39" x2="85.6" y2="792.39" stroke="#000" stroke-width="1.7"/>
<text x="67.5" y="802.69" font-size="20.5" text-anchor="end">10<tspan dy="-10.8" font-size="14">4</tspan></text>
<line x1="76.1" y1="728.31" x2="85.6" y2="728.31" stroke="#000" stroke-width="1.7"/>
<text x="67.5" y="738.61" font-size="20.5" text-anchor="end">10<tspan dy="-10.8" font-size="14">5</tspan></text>
<line x1="76.1" y1="664.23" x2="85.6" y2="664.23" stroke="#000" stroke-width="1.7"/>
<text x="67.5" y="674.53" font-size="20.5" text-anchor="end">10<tspan dy="-10.8" font-size="14">6</tspan></text>
<line x1="76.1" y1="600.15" x2="85.6" y2="600.15" stroke="#000" stroke-width="1.7"/>
<text x="67.5" y="610.45" font-size="20.5" text-anchor="end">10<tspan dy="-10.8" font-size="14">7</tspan></text>
<line x1="84.68" y1="903.4" x2="415.43" y2="903.4" stroke="#000" stroke-width="1.7"/>
<line x1="85.53" y1="875.76" x2="415.43" y2="875.76" stroke="#858585" stroke-width="1.5" stroke-dasharray="7.2,7.85"/>
<line x1="123.6" y1="903.4" x2="123.6" y2="912.9" stroke="#000" stroke-width="1.7"/>
<text x="133.8" y="931.9" font-size="21" text-anchor="end" transform="rotate(-45 133.8 931.9)">WT</text>
<line x1="187.05" y1="903.4" x2="187.05" y2="912.9" stroke="#000" stroke-width="1.7"/>
<text x="197.25" y="931.9" font-size="21" text-anchor="end" transform="rotate(-45 197.25 931.9)">BA.5</text>
<line x1="250.5" y1="903.4" x2="250.5" y2="912.9" stroke="#000" stroke-width="1.7"/>
<text x="260.7" y="931.9" font-size="21" text-anchor="end" transform="rotate(-45 260.7 931.9)">XBB.1.5</text>
<line x1="313.95" y1="903.4" x2="313.95" y2="912.9" stroke="#000" stroke-width="1.7"/>
<text x="324.15" y="931.9" font-size="21" text-anchor="end" transform="rotate(-45 324.15 931.9)">JN.1</text>
<line x1="377.4" y1="903.4" x2="377.4" y2="912.9" stroke="#000" stroke-width="1.7"/>
<text x="387.6" y="931.9" font-size="21" text-anchor="end" transform="rotate(-45 387.6 931.9)">KP.3</text>
<text x="250.48" y="564.6" font-size="20.5" text-anchor="middle">T1</text>
<circle cx="123.6" cy="685" r="6.5" fill="#cb5640" fill-opacity="0.55" stroke="#cb5640" stroke-width="1.0" stroke-opacity="0.55"/>
<circle cx="187.05" cy="680.1" r="6.5" fill="#3a4f96" fill-opacity="0.55" stroke="#3a4f96" stroke-width="1.0" stroke-opacity="0.55"/>
<circle cx="250.5" cy="685.1" r="6.5" fill="#b68925" fill-opacity="0.55" stroke="#b68925" stroke-width="1.0" stroke-opacity="0.55"/>
<circle cx="313.95" cy="719.4" r="6.5" fill="#7a2ebc" fill-opacity="0.55" stroke="#7a2ebc" stroke-width="1.0" stroke-opacity="0.55"/>
<circle cx="377.4" cy="735.7" r="6.5" fill="#582870" fill-opacity="0.55" stroke="#582870" stroke-width="1.0" stroke-opacity="0.55"/>
<circle cx="123.6" cy="676.1" r="6.5" fill="#cb5640" fill-opacity="0.55" stroke="#cb5640" stroke-width="1.0" stroke-opacity="0.55"/>
<circle cx="187.05" cy="685.8" r="6.5" fill="#3a4f96" fill-opacity="0.55" stroke="#3a4f96" stroke-width="1.0" stroke-opacity="0.55"/>
<circle cx="250.5" cy="696.5" r="6.5" fill="#b68925" fill-opacity="0.55" stroke="#b68925" stroke-width="1.0" stroke-opacity="0.55"/>
<circle cx="313.95" cy="725.1" r="6.5" fill="#7a2ebc" fill-opacity="0.55" stroke="#7a2ebc" stroke-width="1.0" stroke-opacity="0.55"/>
<circle cx="377.4" cy="748" r="6.5" fill="#582870" fill-opacity="0.55" stroke="#582870" stroke-width="1.0" stroke-opacity="0.55"/>
<circle cx="123.6" cy="697.4" r="6.5" fill="#cb5640" fill-opacity="0.55" stroke="#cb5640" stroke-width="1.0" stroke-opacity="0.55"/>
<circle cx="187.05" cy="698.6" r="6.5" fill="#3a4f96" fill-opacity="0.55" stroke="#3a4f96" stroke-width="1.0" stroke-opacity="0.55"/>
<circle cx="250.5" cy="707.9" r="6.5" fill="#b68925" fill-opacity="0.55" stroke="#b68925" stroke-width="1.0" stroke-opacity="0.55"/>
<circle cx="313.95" cy="739.4" r="6.5" fill="#7a2ebc" fill-opacity="0.55" stroke="#7a2ebc" stroke-width="1.0" stroke-opacity="0.55"/>
<circle cx="377.4" cy="753.7" r="6.5" fill="#582870" fill-opacity="0.55" stroke="#582870" stroke-width="1.0" stroke-opacity="0.55"/>
<circle cx="123.6" cy="727.6" r="6.5" fill="#cb5640" fill-opacity="0.55" stroke="#cb5640" stroke-width="1.0" stroke-opacity="0.55"/>
<circle cx="187.05" cy="706.7" r="6.5" fill="#3a4f96" fill-opacity="0.55" stroke="#3a4f96" stroke-width="1.0" stroke-opacity="0.55"/>
<circle cx="250.5" cy="712.2" r="6.5" fill="#b68925" fill-opacity="0.55" stroke="#b68925" stroke-width="1.0" stroke-opacity="0.55"/>
<circle cx="313.95" cy="740.9" r="6.5" fill="#7a2ebc" fill-opacity="0.55" stroke="#7a2ebc" stroke-width="1.0" stroke-opacity="0.55"/>
<circle cx="377.4" cy="768.5" r="6.5" fill="#582870" fill-opacity="0.55" stroke="#582870" stroke-width="1.0" stroke-opacity="0.55"/>
<circle cx="123.6" cy="724.4" r="6.5" fill="#cb5640" fill-opacity="0.55" stroke="#cb5640" stroke-width="1.0" stroke-opacity="0.55"/>
<circle cx="187.05" cy="723.6" r="6.5" fill="#3a4f96" fill-opacity="0.55" stroke="#3a4f96" stroke-width="1.0" stroke-opacity="0.55"/>
<circle cx="250.5" cy="720.8" r="6.5" fill="#b68925" fill-opacity="0.55" stroke="#b68925" stroke-width="1.0" stroke-opacity="0.55"/>
<circle cx="313.95" cy="745.2" r="6.5" fill="#7a2ebc" fill-opacity="0.55" stroke="#7a2ebc" stroke-width="1.0" stroke-opacity="0.55"/>
<circle cx="377.4" cy="772" r="6.5" fill="#582870" fill-opacity="0.55" stroke="#582870" stroke-width="1.0" stroke-opacity="0.55"/>
<circle cx="123.6" cy="694.6" r="6.5" fill="#cb5640" fill-opacity="0.55" stroke="#cb5640" stroke-width="1.0" stroke-opacity="0.55"/>
<circle cx="187.05" cy="711.5" r="6.5" fill="#3a4f96" fill-opacity="0.55" stroke="#3a4f96" stroke-width="1.0" stroke-opacity="0.55"/>
<circle cx="250.5" cy="725.1" r="6.5" fill="#b68925" fill-opacity="0.55" stroke="#b68925" stroke-width="1.0" stroke-opacity="0.55"/>
<circle cx="313.95" cy="749.5" r="6.5" fill="#7a2ebc" fill-opacity="0.55" stroke="#7a2ebc" stroke-width="1.0" stroke-opacity="0.55"/>
<circle cx="377.4" cy="776.6" r="6.5" fill="#582870" fill-opacity="0.55" stroke="#582870" stroke-width="1.0" stroke-opacity="0.55"/>
<circle cx="123.6" cy="726" r="6.5" fill="#cb5640" fill-opacity="0.55" stroke="#cb5640" stroke-width="1.0" stroke-opacity="0.55"/>
<circle cx="187.05" cy="727.6" r="6.5" fill="#3a4f96" fill-opacity="0.55" stroke="#3a4f96" stroke-width="1.0" stroke-opacity="0.55"/>
<circle cx="250.5" cy="729.4" r="6.5" fill="#b68925" fill-opacity="0.55" stroke="#b68925" stroke-width="1.0" stroke-opacity="0.55"/>
<circle cx="313.95" cy="753.8" r="6.5" fill="#7a2ebc" fill-opacity="0.55" stroke="#7a2ebc" stroke-width="1.0" stroke-opacity="0.55"/>
<circle cx="377.4" cy="780" r="6.5" fill="#582870" fill-opacity="0.55" stroke="#582870" stroke-width="1.0" stroke-opacity="0.55"/>
<circle cx="123.6" cy="730.8" r="6.5" fill="#cb5640" fill-opacity="0.55" stroke="#cb5640" stroke-width="1.0" stroke-opacity="0.55"/>
<circle cx="187.05" cy="736.5" r="6.5" fill="#3a4f96" fill-opacity="0.55" stroke="#3a4f96" stroke-width="1.0" stroke-opacity="0.55"/>
<circle cx="250.5" cy="735.1" r="6.5" fill="#b68925" fill-opacity="0.55" stroke="#b68925" stroke-width="1.0" stroke-opacity="0.55"/>
<circle cx="313.95" cy="758" r="6.5" fill="#7a2ebc" fill-opacity="0.55" stroke="#7a2ebc" stroke-width="1.0" stroke-opacity="0.55"/>
<circle cx="377.4" cy="784.5" r="6.5" fill="#582870" fill-opacity="0.55" stroke="#582870" stroke-width="1.0" stroke-opacity="0.55"/>
<circle cx="123.6" cy="709.9" r="6.5" fill="#cb5640" fill-opacity="0.55" stroke="#cb5640" stroke-width="1.0" stroke-opacity="0.55"/>
<circle cx="187.05" cy="702.7" r="6.5" fill="#3a4f96" fill-opacity="0.55" stroke="#3a4f96" stroke-width="1.0" stroke-opacity="0.55"/>
<circle cx="250.5" cy="740.9" r="6.5" fill="#b68925" fill-opacity="0.55" stroke="#b68925" stroke-width="1.0" stroke-opacity="0.55"/>
<circle cx="313.95" cy="773.8" r="6.5" fill="#7a2ebc" fill-opacity="0.55" stroke="#7a2ebc" stroke-width="1.0" stroke-opacity="0.55"/>
<circle cx="377.4" cy="788.1" r="6.5" fill="#582870" fill-opacity="0.55" stroke="#582870" stroke-width="1.0" stroke-opacity="0.55"/>
<circle cx="123.6" cy="695.8" r="6.5" fill="#cb5640" fill-opacity="0.55" stroke="#cb5640" stroke-width="1.0" stroke-opacity="0.55"/>
<circle cx="187.05" cy="715.5" r="6.5" fill="#3a4f96" fill-opacity="0.55" stroke="#3a4f96" stroke-width="1.0" stroke-opacity="0.55"/>
<circle cx="250.5" cy="745.2" r="6.5" fill="#b68925" fill-opacity="0.55" stroke="#b68925" stroke-width="1.0" stroke-opacity="0.55"/>
<circle cx="313.95" cy="785.2" r="6.5" fill="#7a2ebc" fill-opacity="0.55" stroke="#7a2ebc" stroke-width="1.0" stroke-opacity="0.55"/>
<circle cx="377.4" cy="793.8" r="6.5" fill="#582870" fill-opacity="0.55" stroke="#582870" stroke-width="1.0" stroke-opacity="0.55"/>
<circle cx="123.6" cy="729.2" r="6.5" fill="#cb5640" fill-opacity="0.55" stroke="#cb5640" stroke-width="1.0" stroke-opacity="0.55"/>
<circle cx="187.05" cy="732.5" r="6.5" fill="#3a4f96" fill-opacity="0.55" stroke="#3a4f96" stroke-width="1.0" stroke-opacity="0.55"/>
<circle cx="250.5" cy="748" r="6.5" fill="#b68925" fill-opacity="0.55" stroke="#b68925" stroke-width="1.0" stroke-opacity="0.55"/>
<circle cx="313.95" cy="799.5" r="6.5" fill="#7a2ebc" fill-opacity="0.55" stroke="#7a2ebc" stroke-width="1.0" stroke-opacity="0.55"/>
<circle cx="377.4" cy="802.4" r="6.5" fill="#582870" fill-opacity="0.55" stroke="#582870" stroke-width="1.0" stroke-opacity="0.55"/>
<circle cx="123.6" cy="770.3" r="6.5" fill="#cb5640" fill-opacity="0.55" stroke="#cb5640" stroke-width="1.0" stroke-opacity="0.55"/>
<circle cx="187.05" cy="761.4" r="6.5" fill="#3a4f96" fill-opacity="0.55" stroke="#3a4f96" stroke-width="1.0" stroke-opacity="0.55"/>
<circle cx="250.5" cy="765.2" r="6.5" fill="#b68925" fill-opacity="0.55" stroke="#b68925" stroke-width="1.0" stroke-opacity="0.55"/>
<circle cx="313.95" cy="825.3" r="6.5" fill="#7a2ebc" fill-opacity="0.55" stroke="#7a2ebc" stroke-width="1.0" stroke-opacity="0.55"/>
<circle cx="377.4" cy="799.5" r="6.5" fill="#582870" fill-opacity="0.55" stroke="#582870" stroke-width="1.0" stroke-opacity="0.55"/>
<polyline points="123.6,685 187.05,680.1 250.5,685.1 313.95,719.4 377.4,735.7" fill="none" stroke="#d9d9d9" stroke-width="1.45" stroke-linejoin="round"/>
<polyline points="123.6,676.1 187.05,685.8 250.5,696.5 313.95,725.1 377.4,748" fill="none" stroke="#d9d9d9" stroke-width="1.45" stroke-linejoin="round"/>
<polyline points="123.6,697.4 187.05,698.6 250.5,707.9 313.95,739.4 377.4,753.7" fill="none" stroke="#d9d9d9" stroke-width="1.45" stroke-linejoin="round"/>
<polyline points="123.6,727.6 187.05,706.7 250.5,712.2 313.95,740.9 377.4,768.5" fill="none" stroke="#d9d9d9" stroke-width="1.45" stroke-linejoin="round"/>
<polyline points="123.6,724.4 187.05,723.6 250.5,720.8 313.95,745.2 377.4,772" fill="none" stroke="#d9d9d9" stroke-width="1.45" stroke-linejoin="round"/>
<polyline points="123.6,694.6 187.05,711.5 250.5,725.1 313.95,749.5 377.4,776.6" fill="none" stroke="#d9d9d9" stroke-width="1.45" stroke-linejoin="round"/>
<polyline points="123.6,726 187.05,727.6 250.5,729.4 313.95,753.8 377.4,780" fill="none" stroke="#d9d9d9" stroke-width="1.45" stroke-linejoin="round"/>
<polyline points="123.6,730.8 187.05,736.5 250.5,735.1 313.95,758 377.4,784.5" fill="none" stroke="#d9d9d9" stroke-width="1.45" stroke-linejoin="round"/>
<polyline points="123.6,709.9 187.05,702.7 250.5,740.9 313.95,773.8 377.4,788.1" fill="none" stroke="#d9d9d9" stroke-width="1.45" stroke-linejoin="round"/>
<polyline points="123.6,695.8 187.05,715.5 250.5,745.2 313.95,785.2 377.4,793.8" fill="none" stroke="#d9d9d9" stroke-width="1.45" stroke-linejoin="round"/>
<polyline points="123.6,729.2 187.05,732.5 250.5,748 313.95,799.5 377.4,802.4" fill="none" stroke="#d9d9d9" stroke-width="1.45" stroke-linejoin="round"/>
<polyline points="123.6,770.3 187.05,761.4 250.5,765.2 313.95,825.3 377.4,799.5" fill="none" stroke="#d9d9d9" stroke-width="1.45" stroke-linejoin="round"/>
<rect x="108.1" y="714.85" width="31" height="3.3" fill="#000"/>
<rect x="171.55" y="717.75" width="31" height="3.3" fill="#000"/>
<rect x="235" y="728.35" width="31" height="3.3" fill="#000"/>
<rect x="298.45" y="761.55" width="31" height="3.3" fill="#000"/>
<rect x="361.9" y="774.95" width="31" height="3.3" fill="#000"/>
<text x="187.05" y="606.5" font-size="17.3" text-anchor="middle">ns</text>
<text x="250.5" y="606.5" font-size="17.3" text-anchor="middle">**</text>
<text x="313.95" y="606.5" font-size="17.3" text-anchor="middle">***</text>
<text x="377.4" y="606.5" font-size="17.3" text-anchor="middle">***</text>
<text x="187.05" y="632.3" font-size="17.3" text-anchor="middle">0.92x</text>
<text x="250.5" y="632.3" font-size="17.3" text-anchor="middle">0.58x</text>
<text x="313.95" y="632.3" font-size="17.3" text-anchor="middle">0.14x</text>
<text x="377.4" y="632.3" font-size="17.3" text-anchor="middle">0.1x</text>
<text x="123.6" y="657.3" font-size="17.3" text-anchor="middle">172559</text>
<text x="187.05" y="657.3" font-size="17.3" text-anchor="middle">157006</text>
<text x="250.5" y="657.3" font-size="17.3" text-anchor="middle">106917</text>
<text x="313.95" y="657.3" font-size="17.3" text-anchor="middle">32525</text>
<text x="377.4" y="657.3" font-size="17.3" text-anchor="middle">20106</text>
<line x1="434.73" y1="903.4" x2="764.63" y2="903.4" stroke="#000" stroke-width="1.7"/>
<line x1="434.73" y1="875.76" x2="764.63" y2="875.76" stroke="#858585" stroke-width="1.5" stroke-dasharray="7.2,7.85"/>
<line x1="472.8" y1="903.4" x2="472.8" y2="912.9" stroke="#000" stroke-width="1.7"/>
<text x="483" y="931.9" font-size="21" text-anchor="end" transform="rotate(-45 483 931.9)">WT</text>
<line x1="536.25" y1="903.4" x2="536.25" y2="912.9" stroke="#000" stroke-width="1.7"/>
<text x="546.45" y="931.9" font-size="21" text-anchor="end" transform="rotate(-45 546.45 931.9)">BA.5</text>
<line x1="599.7" y1="903.4" x2="599.7" y2="912.9" stroke="#000" stroke-width="1.7"/>
<text x="609.9" y="931.9" font-size="21" text-anchor="end" transform="rotate(-45 609.9 931.9)">XBB.1.5</text>
<line x1="663.15" y1="903.4" x2="663.15" y2="912.9" stroke="#000" stroke-width="1.7"/>
<text x="673.35" y="931.9" font-size="21" text-anchor="end" transform="rotate(-45 673.35 931.9)">JN.1</text>
<line x1="726.6" y1="903.4" x2="726.6" y2="912.9" stroke="#000" stroke-width="1.7"/>
<text x="736.8" y="931.9" font-size="21" text-anchor="end" transform="rotate(-45 736.8 931.9)">KP.3</text>
<text x="599.68" y="564.6" font-size="20.5" text-anchor="middle">T2</text>
<circle cx="472.8" cy="685" r="6.5" fill="#cb5640" fill-opacity="0.55" stroke="#cb5640" stroke-width="1.0" stroke-opacity="0.55"/>
<circle cx="536.25" cy="702.2" r="6.5" fill="#3a4f96" fill-opacity="0.55" stroke="#3a4f96" stroke-width="1.0" stroke-opacity="0.55"/>
<circle cx="599.7" cy="707.9" r="6.5" fill="#b68925" fill-opacity="0.55" stroke="#b68925" stroke-width="1.0" stroke-opacity="0.55"/>
<circle cx="663.15" cy="739.4" r="6.5" fill="#7a2ebc" fill-opacity="0.55" stroke="#7a2ebc" stroke-width="1.0" stroke-opacity="0.55"/>
<circle cx="726.6" cy="760.9" r="6.5" fill="#582870" fill-opacity="0.55" stroke="#582870" stroke-width="1.0" stroke-opacity="0.55"/>
<circle cx="472.8" cy="701.5" r="6.5" fill="#cb5640" fill-opacity="0.55" stroke="#cb5640" stroke-width="1.0" stroke-opacity="0.55"/>
<circle cx="536.25" cy="716.5" r="6.5" fill="#3a4f96" fill-opacity="0.55" stroke="#3a4f96" stroke-width="1.0" stroke-opacity="0.55"/>
<circle cx="599.7" cy="733.7" r="6.5" fill="#b68925" fill-opacity="0.55" stroke="#b68925" stroke-width="1.0" stroke-opacity="0.55"/>
<circle cx="663.15" cy="778.1" r="6.5" fill="#7a2ebc" fill-opacity="0.55" stroke="#7a2ebc" stroke-width="1.0" stroke-opacity="0.55"/>
<circle cx="726.6" cy="782.4" r="6.5" fill="#582870" fill-opacity="0.55" stroke="#582870" stroke-width="1.0" stroke-opacity="0.55"/>
<circle cx="472.8" cy="718" r="6.5" fill="#cb5640" fill-opacity="0.55" stroke="#cb5640" stroke-width="1.0" stroke-opacity="0.55"/>
<circle cx="536.25" cy="705.8" r="6.5" fill="#3a4f96" fill-opacity="0.55" stroke="#3a4f96" stroke-width="1.0" stroke-opacity="0.55"/>
<circle cx="599.7" cy="720.1" r="6.5" fill="#b68925" fill-opacity="0.55" stroke="#b68925" stroke-width="1.0" stroke-opacity="0.55"/>
<circle cx="663.15" cy="749.4" r="6.5" fill="#7a2ebc" fill-opacity="0.55" stroke="#7a2ebc" stroke-width="1.0" stroke-opacity="0.55"/>
<circle cx="726.6" cy="773.8" r="6.5" fill="#582870" fill-opacity="0.55" stroke="#582870" stroke-width="1.0" stroke-opacity="0.55"/>
<circle cx="472.8" cy="709.3" r="6.5" fill="#cb5640" fill-opacity="0.55" stroke="#cb5640" stroke-width="1.0" stroke-opacity="0.55"/>
<circle cx="536.25" cy="697.9" r="6.5" fill="#3a4f96" fill-opacity="0.55" stroke="#3a4f96" stroke-width="1.0" stroke-opacity="0.55"/>
<circle cx="599.7" cy="712.2" r="6.5" fill="#b68925" fill-opacity="0.55" stroke="#b68925" stroke-width="1.0" stroke-opacity="0.55"/>
<circle cx="663.15" cy="745.2" r="6.5" fill="#7a2ebc" fill-opacity="0.55" stroke="#7a2ebc" stroke-width="1.0" stroke-opacity="0.55"/>
<circle cx="726.6" cy="765.2" r="6.5" fill="#582870" fill-opacity="0.55" stroke="#582870" stroke-width="1.0" stroke-opacity="0.55"/>
<circle cx="472.8" cy="712.2" r="6.5" fill="#cb5640" fill-opacity="0.55" stroke="#cb5640" stroke-width="1.0" stroke-opacity="0.55"/>
<circle cx="536.25" cy="712.2" r="6.5" fill="#3a4f96" fill-opacity="0.55" stroke="#3a4f96" stroke-width="1.0" stroke-opacity="0.55"/>
<circle cx="599.7" cy="715.8" r="6.5" fill="#b68925" fill-opacity="0.55" stroke="#b68925" stroke-width="1.0" stroke-opacity="0.55"/>
<circle cx="663.15" cy="748" r="6.5" fill="#7a2ebc" fill-opacity="0.55" stroke="#7a2ebc" stroke-width="1.0" stroke-opacity="0.55"/>
<circle cx="726.6" cy="768" r="6.5" fill="#582870" fill-opacity="0.55" stroke="#582870" stroke-width="1.0" stroke-opacity="0.55"/>
<circle cx="472.8" cy="715.1" r="6.5" fill="#cb5640" fill-opacity="0.55" stroke="#cb5640" stroke-width="1.0" stroke-opacity="0.55"/>
<circle cx="536.25" cy="719.4" r="6.5" fill="#3a4f96" fill-opacity="0.55" stroke="#3a4f96" stroke-width="1.0" stroke-opacity="0.55"/>
<circle cx="599.7" cy="730.1" r="6.5" fill="#b68925" fill-opacity="0.55" stroke="#b68925" stroke-width="1.0" stroke-opacity="0.55"/>
<circle cx="663.15" cy="755" r="6.5" fill="#7a2ebc" fill-opacity="0.55" stroke="#7a2ebc" stroke-width="1.0" stroke-opacity="0.55"/>
<circle cx="726.6" cy="778.1" r="6.5" fill="#582870" fill-opacity="0.55" stroke="#582870" stroke-width="1.0" stroke-opacity="0.55"/>
<circle cx="472.8" cy="730.8" r="6.5" fill="#cb5640" fill-opacity="0.55" stroke="#cb5640" stroke-width="1.0" stroke-opacity="0.55"/>
<circle cx="536.25" cy="730.8" r="6.5" fill="#3a4f96" fill-opacity="0.55" stroke="#3a4f96" stroke-width="1.0" stroke-opacity="0.55"/>
<circle cx="599.7" cy="724.4" r="6.5" fill="#b68925" fill-opacity="0.55" stroke="#b68925" stroke-width="1.0" stroke-opacity="0.55"/>
<circle cx="663.15" cy="753.7" r="6.5" fill="#7a2ebc" fill-opacity="0.55" stroke="#7a2ebc" stroke-width="1.0" stroke-opacity="0.55"/>
<circle cx="726.6" cy="769.5" r="6.5" fill="#582870" fill-opacity="0.55" stroke="#582870" stroke-width="1.0" stroke-opacity="0.55"/>
<circle cx="472.8" cy="733.7" r="6.5" fill="#cb5640" fill-opacity="0.55" stroke="#cb5640" stroke-width="1.0" stroke-opacity="0.55"/>
<circle cx="536.25" cy="733.7" r="6.5" fill="#3a4f96" fill-opacity="0.55" stroke="#3a4f96" stroke-width="1.0" stroke-opacity="0.55"/>
<circle cx="599.7" cy="740.8" r="6.5" fill="#b68925" fill-opacity="0.55" stroke="#b68925" stroke-width="1.0" stroke-opacity="0.55"/>
<circle cx="663.15" cy="758" r="6.5" fill="#7a2ebc" fill-opacity="0.55" stroke="#7a2ebc" stroke-width="1.0" stroke-opacity="0.55"/>
<circle cx="726.6" cy="785" r="6.5" fill="#582870" fill-opacity="0.55" stroke="#582870" stroke-width="1.0" stroke-opacity="0.55"/>
<circle cx="472.8" cy="736.5" r="6.5" fill="#cb5640" fill-opacity="0.55" stroke="#cb5640" stroke-width="1.0" stroke-opacity="0.55"/>
<circle cx="536.25" cy="736.5" r="6.5" fill="#3a4f96" fill-opacity="0.55" stroke="#3a4f96" stroke-width="1.0" stroke-opacity="0.55"/>
<circle cx="599.7" cy="745.1" r="6.5" fill="#b68925" fill-opacity="0.55" stroke="#b68925" stroke-width="1.0" stroke-opacity="0.55"/>
<circle cx="663.15" cy="763.8" r="6.5" fill="#7a2ebc" fill-opacity="0.55" stroke="#7a2ebc" stroke-width="1.0" stroke-opacity="0.55"/>
<circle cx="726.6" cy="786.7" r="6.5" fill="#582870" fill-opacity="0.55" stroke="#582870" stroke-width="1.0" stroke-opacity="0.55"/>
<circle cx="472.8" cy="738.7" r="6.5" fill="#cb5640" fill-opacity="0.55" stroke="#cb5640" stroke-width="1.0" stroke-opacity="0.55"/>
<circle cx="536.25" cy="739.4" r="6.5" fill="#3a4f96" fill-opacity="0.55" stroke="#3a4f96" stroke-width="1.0" stroke-opacity="0.55"/>
<circle cx="599.7" cy="753.7" r="6.5" fill="#b68925" fill-opacity="0.55" stroke="#b68925" stroke-width="1.0" stroke-opacity="0.55"/>
<circle cx="663.15" cy="798.1" r="6.5" fill="#7a2ebc" fill-opacity="0.55" stroke="#7a2ebc" stroke-width="1.0" stroke-opacity="0.55"/>
<circle cx="726.6" cy="789.5" r="6.5" fill="#582870" fill-opacity="0.55" stroke="#582870" stroke-width="1.0" stroke-opacity="0.55"/>
<circle cx="472.8" cy="736" r="6.5" fill="#cb5640" fill-opacity="0.55" stroke="#cb5640" stroke-width="1.0" stroke-opacity="0.55"/>
<circle cx="536.25" cy="742.3" r="6.5" fill="#3a4f96" fill-opacity="0.55" stroke="#3a4f96" stroke-width="1.0" stroke-opacity="0.55"/>
<circle cx="599.7" cy="758" r="6.5" fill="#b68925" fill-opacity="0.55" stroke="#b68925" stroke-width="1.0" stroke-opacity="0.55"/>
<circle cx="663.15" cy="803.8" r="6.5" fill="#7a2ebc" fill-opacity="0.55" stroke="#7a2ebc" stroke-width="1.0" stroke-opacity="0.55"/>
<circle cx="726.6" cy="812.4" r="6.5" fill="#582870" fill-opacity="0.55" stroke="#582870" stroke-width="1.0" stroke-opacity="0.55"/>
<circle cx="472.8" cy="738" r="6.5" fill="#cb5640" fill-opacity="0.55" stroke="#cb5640" stroke-width="1.0" stroke-opacity="0.55"/>
<circle cx="536.25" cy="745.1" r="6.5" fill="#3a4f96" fill-opacity="0.55" stroke="#3a4f96" stroke-width="1.0" stroke-opacity="0.55"/>
<circle cx="599.7" cy="760.9" r="6.5" fill="#b68925" fill-opacity="0.55" stroke="#b68925" stroke-width="1.0" stroke-opacity="0.55"/>
<circle cx="663.15" cy="806.7" r="6.5" fill="#7a2ebc" fill-opacity="0.55" stroke="#7a2ebc" stroke-width="1.0" stroke-opacity="0.55"/>
<circle cx="726.6" cy="815.3" r="6.5" fill="#582870" fill-opacity="0.55" stroke="#582870" stroke-width="1.0" stroke-opacity="0.55"/>
<polyline points="472.8,685 536.25,702.2 599.7,707.9 663.15,739.4 726.6,760.9" fill="none" stroke="#d9d9d9" stroke-width="1.45" stroke-linejoin="round"/>
<polyline points="472.8,701.5 536.25,716.5 599.7,733.7 663.15,778.1 726.6,782.4" fill="none" stroke="#d9d9d9" stroke-width="1.45" stroke-linejoin="round"/>
<polyline points="472.8,718 536.25,705.8 599.7,720.1 663.15,749.4 726.6,773.8" fill="none" stroke="#d9d9d9" stroke-width="1.45" stroke-linejoin="round"/>
<polyline points="472.8,709.3 536.25,697.9 599.7,712.2 663.15,745.2 726.6,765.2" fill="none" stroke="#d9d9d9" stroke-width="1.45" stroke-linejoin="round"/>
<polyline points="472.8,712.2 536.25,712.2 599.7,715.8 663.15,748 726.6,768" fill="none" stroke="#d9d9d9" stroke-width="1.45" stroke-linejoin="round"/>
<polyline points="472.8,715.1 536.25,719.4 599.7,730.1 663.15,755 726.6,778.1" fill="none" stroke="#d9d9d9" stroke-width="1.45" stroke-linejoin="round"/>
<polyline points="472.8,730.8 536.25,730.8 599.7,724.4 663.15,753.7 726.6,769.5" fill="none" stroke="#d9d9d9" stroke-width="1.45" stroke-linejoin="round"/>
<polyline points="472.8,733.7 536.25,733.7 599.7,740.8 663.15,758 726.6,785" fill="none" stroke="#d9d9d9" stroke-width="1.45" stroke-linejoin="round"/>
<polyline points="472.8,736.5 536.25,736.5 599.7,745.1 663.15,763.8 726.6,786.7" fill="none" stroke="#d9d9d9" stroke-width="1.45" stroke-linejoin="round"/>
<polyline points="472.8,738.7 536.25,739.4 599.7,753.7 663.15,798.1 726.6,789.5" fill="none" stroke="#d9d9d9" stroke-width="1.45" stroke-linejoin="round"/>
<polyline points="472.8,736 536.25,742.3 599.7,758 663.15,803.8 726.6,812.4" fill="none" stroke="#d9d9d9" stroke-width="1.45" stroke-linejoin="round"/>
<polyline points="472.8,738 536.25,745.1 599.7,760.9 663.15,806.7 726.6,815.3" fill="none" stroke="#d9d9d9" stroke-width="1.45" stroke-linejoin="round"/>
<rect x="457.3" y="721.45" width="31" height="3.3" fill="#000"/>
<rect x="520.75" y="724.05" width="31" height="3.3" fill="#000"/>
<rect x="584.2" y="736.35" width="31" height="3.3" fill="#000"/>
<rect x="647.65" y="772.15" width="31" height="3.3" fill="#000"/>
<rect x="711.1" y="790.75" width="31" height="3.3" fill="#000"/>
<text x="536.25" y="606.5" font-size="17.3" text-anchor="middle">ns</text>
<text x="599.7" y="606.5" font-size="17.3" text-anchor="middle">**</text>
<text x="663.15" y="606.5" font-size="17.3" text-anchor="middle">**</text>
<text x="726.6" y="606.5" font-size="17.3" text-anchor="middle">***</text>
<text x="536.25" y="632.3" font-size="17.3" text-anchor="middle">0.95x</text>
<text x="599.7" y="632.3" font-size="17.3" text-anchor="middle">0.59x</text>
<text x="663.15" y="632.3" font-size="17.3" text-anchor="middle">0.15x</text>
<text x="726.6" y="632.3" font-size="17.3" text-anchor="middle">0.08x</text>
<text x="472.8" y="657.3" font-size="17.3" text-anchor="middle">135693</text>
<text x="536.25" y="657.3" font-size="17.3" text-anchor="middle">124182</text>
<text x="599.7" y="657.3" font-size="17.3" text-anchor="middle">81176</text>
<text x="663.15" y="657.3" font-size="17.3" text-anchor="middle">22045</text>
<text x="726.6" y="657.3" font-size="17.3" text-anchor="middle">11311</text>
<line x1="783.93" y1="903.4" x2="1113.83" y2="903.4" stroke="#000" stroke-width="1.7"/>
<line x1="783.93" y1="875.76" x2="1113.83" y2="875.76" stroke="#858585" stroke-width="1.5" stroke-dasharray="7.2,7.85"/>
<line x1="822" y1="903.4" x2="822" y2="912.9" stroke="#000" stroke-width="1.7"/>
<text x="832.2" y="931.9" font-size="21" text-anchor="end" transform="rotate(-45 832.2 931.9)">WT</text>
<line x1="885.45" y1="903.4" x2="885.45" y2="912.9" stroke="#000" stroke-width="1.7"/>
<text x="895.65" y="931.9" font-size="21" text-anchor="end" transform="rotate(-45 895.65 931.9)">BA.5</text>
<line x1="948.9" y1="903.4" x2="948.9" y2="912.9" stroke="#000" stroke-width="1.7"/>
<text x="959.1" y="931.9" font-size="21" text-anchor="end" transform="rotate(-45 959.1 931.9)">XBB.1.5</text>
<line x1="1012.35" y1="903.4" x2="1012.35" y2="912.9" stroke="#000" stroke-width="1.7"/>
<text x="1022.55" y="931.9" font-size="21" text-anchor="end" transform="rotate(-45 1022.55 931.9)">JN.1</text>
<line x1="1075.8" y1="903.4" x2="1075.8" y2="912.9" stroke="#000" stroke-width="1.7"/>
<text x="1086" y="931.9" font-size="21" text-anchor="end" transform="rotate(-45 1086 931.9)">KP.3</text>
<text x="948.88" y="564.6" font-size="20.5" text-anchor="middle">T3</text>
<circle cx="822" cy="705.1" r="6.5" fill="#cb5640" fill-opacity="0.55" stroke="#cb5640" stroke-width="1.0" stroke-opacity="0.55"/>
<circle cx="885.45" cy="692.2" r="6.5" fill="#3a4f96" fill-opacity="0.55" stroke="#3a4f96" stroke-width="1.0" stroke-opacity="0.55"/>
<circle cx="948.9" cy="707.9" r="6.5" fill="#b68925" fill-opacity="0.55" stroke="#b68925" stroke-width="1.0" stroke-opacity="0.55"/>
<circle cx="1012.35" cy="726.6" r="6.5" fill="#7a2ebc" fill-opacity="0.55" stroke="#7a2ebc" stroke-width="1.0" stroke-opacity="0.55"/>
<circle cx="1075.8" cy="802.4" r="6.5" fill="#582870" fill-opacity="0.55" stroke="#582870" stroke-width="1.0" stroke-opacity="0.55"/>
<circle cx="822" cy="715.1" r="6.5" fill="#cb5640" fill-opacity="0.55" stroke="#cb5640" stroke-width="1.0" stroke-opacity="0.55"/>
<circle cx="885.45" cy="702.2" r="6.5" fill="#3a4f96" fill-opacity="0.55" stroke="#3a4f96" stroke-width="1.0" stroke-opacity="0.55"/>
<circle cx="948.9" cy="711.7" r="6.5" fill="#b68925" fill-opacity="0.55" stroke="#b68925" stroke-width="1.0" stroke-opacity="0.55"/>
<circle cx="1012.35" cy="746.6" r="6.5" fill="#7a2ebc" fill-opacity="0.55" stroke="#7a2ebc" stroke-width="1.0" stroke-opacity="0.55"/>
<circle cx="1075.8" cy="763.8" r="6.5" fill="#582870" fill-opacity="0.55" stroke="#582870" stroke-width="1.0" stroke-opacity="0.55"/>
<circle cx="822" cy="709.4" r="6.5" fill="#cb5640" fill-opacity="0.55" stroke="#cb5640" stroke-width="1.0" stroke-opacity="0.55"/>
<circle cx="885.45" cy="706.5" r="6.5" fill="#3a4f96" fill-opacity="0.55" stroke="#3a4f96" stroke-width="1.0" stroke-opacity="0.55"/>
<circle cx="948.9" cy="715.1" r="6.5" fill="#b68925" fill-opacity="0.55" stroke="#b68925" stroke-width="1.0" stroke-opacity="0.55"/>
<circle cx="1012.35" cy="739.4" r="6.5" fill="#7a2ebc" fill-opacity="0.55" stroke="#7a2ebc" stroke-width="1.0" stroke-opacity="0.55"/>
<circle cx="1075.8" cy="760.3" r="6.5" fill="#582870" fill-opacity="0.55" stroke="#582870" stroke-width="1.0" stroke-opacity="0.55"/>
<circle cx="822" cy="718.5" r="6.5" fill="#cb5640" fill-opacity="0.55" stroke="#cb5640" stroke-width="1.0" stroke-opacity="0.55"/>
<circle cx="885.45" cy="710.8" r="6.5" fill="#3a4f96" fill-opacity="0.55" stroke="#3a4f96" stroke-width="1.0" stroke-opacity="0.55"/>
<circle cx="948.9" cy="718.5" r="6.5" fill="#b68925" fill-opacity="0.55" stroke="#b68925" stroke-width="1.0" stroke-opacity="0.55"/>
<circle cx="1012.35" cy="755.2" r="6.5" fill="#7a2ebc" fill-opacity="0.55" stroke="#7a2ebc" stroke-width="1.0" stroke-opacity="0.55"/>
<circle cx="1075.8" cy="772.9" r="6.5" fill="#582870" fill-opacity="0.55" stroke="#582870" stroke-width="1.0" stroke-opacity="0.55"/>
<circle cx="822" cy="722.3" r="6.5" fill="#cb5640" fill-opacity="0.55" stroke="#cb5640" stroke-width="1.0" stroke-opacity="0.55"/>
<circle cx="885.45" cy="713.7" r="6.5" fill="#3a4f96" fill-opacity="0.55" stroke="#3a4f96" stroke-width="1.0" stroke-opacity="0.55"/>
<circle cx="948.9" cy="722.3" r="6.5" fill="#b68925" fill-opacity="0.55" stroke="#b68925" stroke-width="1.0" stroke-opacity="0.55"/>
<circle cx="1012.35" cy="750.9" r="6.5" fill="#7a2ebc" fill-opacity="0.55" stroke="#7a2ebc" stroke-width="1.0" stroke-opacity="0.55"/>
<circle cx="1075.8" cy="769.5" r="6.5" fill="#582870" fill-opacity="0.55" stroke="#582870" stroke-width="1.0" stroke-opacity="0.55"/>
<circle cx="822" cy="726.6" r="6.5" fill="#cb5640" fill-opacity="0.55" stroke="#cb5640" stroke-width="1.0" stroke-opacity="0.55"/>
<circle cx="885.45" cy="716.5" r="6.5" fill="#3a4f96" fill-opacity="0.55" stroke="#3a4f96" stroke-width="1.0" stroke-opacity="0.55"/>
<circle cx="948.9" cy="726" r="6.5" fill="#b68925" fill-opacity="0.55" stroke="#b68925" stroke-width="1.0" stroke-opacity="0.55"/>
<circle cx="1012.35" cy="790.1" r="6.5" fill="#7a2ebc" fill-opacity="0.55" stroke="#7a2ebc" stroke-width="1.0" stroke-opacity="0.55"/>
<circle cx="1075.8" cy="819.6" r="6.5" fill="#582870" fill-opacity="0.55" stroke="#582870" stroke-width="1.0" stroke-opacity="0.55"/>
<circle cx="822" cy="730.8" r="6.5" fill="#cb5640" fill-opacity="0.55" stroke="#cb5640" stroke-width="1.0" stroke-opacity="0.55"/>
<circle cx="885.45" cy="725.1" r="6.5" fill="#3a4f96" fill-opacity="0.55" stroke="#3a4f96" stroke-width="1.0" stroke-opacity="0.55"/>
<circle cx="948.9" cy="730" r="6.5" fill="#b68925" fill-opacity="0.55" stroke="#b68925" stroke-width="1.0" stroke-opacity="0.55"/>
<circle cx="1012.35" cy="759.5" r="6.5" fill="#7a2ebc" fill-opacity="0.55" stroke="#7a2ebc" stroke-width="1.0" stroke-opacity="0.55"/>
<circle cx="1075.8" cy="775" r="6.5" fill="#582870" fill-opacity="0.55" stroke="#582870" stroke-width="1.0" stroke-opacity="0.55"/>
<circle cx="822" cy="740.9" r="6.5" fill="#cb5640" fill-opacity="0.55" stroke="#cb5640" stroke-width="1.0" stroke-opacity="0.55"/>
<circle cx="885.45" cy="729.4" r="6.5" fill="#3a4f96" fill-opacity="0.55" stroke="#3a4f96" stroke-width="1.0" stroke-opacity="0.55"/>
<circle cx="948.9" cy="733.7" r="6.5" fill="#b68925" fill-opacity="0.55" stroke="#b68925" stroke-width="1.0" stroke-opacity="0.55"/>
<circle cx="1012.35" cy="768" r="6.5" fill="#7a2ebc" fill-opacity="0.55" stroke="#7a2ebc" stroke-width="1.0" stroke-opacity="0.55"/>
<circle cx="1075.8" cy="776.6" r="6.5" fill="#582870" fill-opacity="0.55" stroke="#582870" stroke-width="1.0" stroke-opacity="0.55"/>
<circle cx="822" cy="745.2" r="6.5" fill="#cb5640" fill-opacity="0.55" stroke="#cb5640" stroke-width="1.0" stroke-opacity="0.55"/>
<circle cx="885.45" cy="733.7" r="6.5" fill="#3a4f96" fill-opacity="0.55" stroke="#3a4f96" stroke-width="1.0" stroke-opacity="0.55"/>
<circle cx="948.9" cy="738" r="6.5" fill="#b68925" fill-opacity="0.55" stroke="#b68925" stroke-width="1.0" stroke-opacity="0.55"/>
<circle cx="1012.35" cy="775.2" r="6.5" fill="#7a2ebc" fill-opacity="0.55" stroke="#7a2ebc" stroke-width="1.0" stroke-opacity="0.55"/>
<circle cx="1075.8" cy="780.9" r="6.5" fill="#582870" fill-opacity="0.55" stroke="#582870" stroke-width="1.0" stroke-opacity="0.55"/>
<circle cx="822" cy="756.6" r="6.5" fill="#cb5640" fill-opacity="0.55" stroke="#cb5640" stroke-width="1.0" stroke-opacity="0.55"/>
<circle cx="885.45" cy="738" r="6.5" fill="#3a4f96" fill-opacity="0.55" stroke="#3a4f96" stroke-width="1.0" stroke-opacity="0.55"/>
<circle cx="948.9" cy="740.9" r="6.5" fill="#b68925" fill-opacity="0.55" stroke="#b68925" stroke-width="1.0" stroke-opacity="0.55"/>
<circle cx="1012.35" cy="780.9" r="6.5" fill="#7a2ebc" fill-opacity="0.55" stroke="#7a2ebc" stroke-width="1.0" stroke-opacity="0.55"/>
<circle cx="1075.8" cy="785.2" r="6.5" fill="#582870" fill-opacity="0.55" stroke="#582870" stroke-width="1.0" stroke-opacity="0.55"/>
<circle cx="822" cy="749.4" r="6.5" fill="#cb5640" fill-opacity="0.55" stroke="#cb5640" stroke-width="1.0" stroke-opacity="0.55"/>
<circle cx="885.45" cy="742.3" r="6.5" fill="#3a4f96" fill-opacity="0.55" stroke="#3a4f96" stroke-width="1.0" stroke-opacity="0.55"/>
<circle cx="948.9" cy="745.2" r="6.5" fill="#b68925" fill-opacity="0.55" stroke="#b68925" stroke-width="1.0" stroke-opacity="0.55"/>
<circle cx="1012.35" cy="785.2" r="6.5" fill="#7a2ebc" fill-opacity="0.55" stroke="#7a2ebc" stroke-width="1.0" stroke-opacity="0.55"/>
<circle cx="1075.8" cy="789.5" r="6.5" fill="#582870" fill-opacity="0.55" stroke="#582870" stroke-width="1.0" stroke-opacity="0.55"/>
<circle cx="822" cy="787.2" r="6.5" fill="#cb5640" fill-opacity="0.55" stroke="#cb5640" stroke-width="1.0" stroke-opacity="0.55"/>
<circle cx="885.45" cy="750.9" r="6.5" fill="#3a4f96" fill-opacity="0.55" stroke="#3a4f96" stroke-width="1.0" stroke-opacity="0.55"/>
<circle cx="948.9" cy="748" r="6.5" fill="#b68925" fill-opacity="0.55" stroke="#b68925" stroke-width="1.0" stroke-opacity="0.55"/>
<circle cx="1012.35" cy="788.1" r="6.5" fill="#7a2ebc" fill-opacity="0.55" stroke="#7a2ebc" stroke-width="1.0" stroke-opacity="0.55"/>
<circle cx="1075.8" cy="795.2" r="6.5" fill="#582870" fill-opacity="0.55" stroke="#582870" stroke-width="1.0" stroke-opacity="0.55"/>
<polyline points="822,705.1 885.45,692.2 948.9,707.9 1012.35,726.6 1075.8,802.4" fill="none" stroke="#d9d9d9" stroke-width="1.45" stroke-linejoin="round"/>
<polyline points="822,715.1 885.45,702.2 948.9,711.7 1012.35,746.6 1075.8,763.8" fill="none" stroke="#d9d9d9" stroke-width="1.45" stroke-linejoin="round"/>
<polyline points="822,709.4 885.45,706.5 948.9,715.1 1012.35,739.4 1075.8,760.3" fill="none" stroke="#d9d9d9" stroke-width="1.45" stroke-linejoin="round"/>
<polyline points="822,718.5 885.45,710.8 948.9,718.5 1012.35,755.2 1075.8,772.9" fill="none" stroke="#d9d9d9" stroke-width="1.45" stroke-linejoin="round"/>
<polyline points="822,722.3 885.45,713.7 948.9,722.3 1012.35,750.9 1075.8,769.5" fill="none" stroke="#d9d9d9" stroke-width="1.45" stroke-linejoin="round"/>
<polyline points="822,726.6 885.45,716.5 948.9,726 1012.35,790.1 1075.8,819.6" fill="none" stroke="#d9d9d9" stroke-width="1.45" stroke-linejoin="round"/>
<polyline points="822,730.8 885.45,725.1 948.9,730 1012.35,759.5 1075.8,775" fill="none" stroke="#d9d9d9" stroke-width="1.45" stroke-linejoin="round"/>
<polyline points="822,740.9 885.45,729.4 948.9,733.7 1012.35,768 1075.8,776.6" fill="none" stroke="#d9d9d9" stroke-width="1.45" stroke-linejoin="round"/>
<polyline points="822,745.2 885.45,733.7 948.9,738 1012.35,775.2 1075.8,780.9" fill="none" stroke="#d9d9d9" stroke-width="1.45" stroke-linejoin="round"/>
<polyline points="822,756.6 885.45,738 948.9,740.9 1012.35,780.9 1075.8,785.2" fill="none" stroke="#d9d9d9" stroke-width="1.45" stroke-linejoin="round"/>
<polyline points="822,749.4 885.45,742.3 948.9,745.2 1012.35,785.2 1075.8,789.5" fill="none" stroke="#d9d9d9" stroke-width="1.45" stroke-linejoin="round"/>
<polyline points="822,787.2 885.45,750.9 948.9,748 1012.35,788.1 1075.8,795.2" fill="none" stroke="#d9d9d9" stroke-width="1.45" stroke-linejoin="round"/>
<rect x="806.5" y="734.35" width="31" height="3.3" fill="#000"/>
<rect x="869.95" y="721.45" width="31" height="3.3" fill="#000"/>
<rect x="933.4" y="726.35" width="31" height="3.3" fill="#000"/>
<rect x="996.85" y="764.35" width="31" height="3.3" fill="#000"/>
<rect x="1060.3" y="784.45" width="31" height="3.3" fill="#000"/>
<text x="822" y="606.5" font-size="17.3" text-anchor="middle">***</text>
<text x="948.9" y="606.5" font-size="17.3" text-anchor="middle">*</text>
<text x="1012.35" y="606.5" font-size="17.3" text-anchor="middle">***</text>
<text x="1075.8" y="606.5" font-size="17.3" text-anchor="middle">***</text>
<text x="822" y="632.3" font-size="17.3" text-anchor="middle">0.63x</text>
<text x="948.9" y="632.3" font-size="17.3" text-anchor="middle">0.81x</text>
<text x="1012.35" y="632.3" font-size="17.3" text-anchor="middle">0.15x</text>
<text x="1075.8" y="632.3" font-size="17.3" text-anchor="middle">0.1x</text>
<text x="822" y="657.3" font-size="17.3" text-anchor="middle">84931</text>
<text x="885.45" y="657.3" font-size="17.3" text-anchor="middle">134334</text>
<text x="948.9" y="657.3" font-size="17.3" text-anchor="middle">114469</text>
<text x="1012.35" y="657.3" font-size="17.3" text-anchor="middle">29179</text>
<text x="1075.8" y="657.3" font-size="17.3" text-anchor="middle">14293</text>
<text x="2.3" y="1043" font-size="27" font-weight="bold">c</text>
<text x="626.1" y="1045" font-size="21.15" text-anchor="middle" font-weight="bold">Neutralization Potency by Variant (Single infection)</text>
<text x="23.3" y="1282.6" font-size="21.25" text-anchor="middle" transform="rotate(-90 23.3 1282.6)">pVNT<tspan dy="4.2" font-size="14.5">50</tspan><tspan dy="-4.2"> Titer/ RBD IgG Titer</tspan></text>
<line x1="99.8" y1="1095.2" x2="99.8" y2="1472.35" stroke="#000" stroke-width="1.7"/>
<line x1="90.3" y1="1105" x2="99.8" y2="1105" stroke="#000" stroke-width="1.7"/>
<text x="81.7" y="1115.3" font-size="20.5" text-anchor="end">10<tspan dy="-10.8" font-size="14">1</tspan></text>
<line x1="90.3" y1="1174.8" x2="99.8" y2="1174.8" stroke="#000" stroke-width="1.7"/>
<text x="81.7" y="1185.1" font-size="20.5" text-anchor="end">10<tspan dy="-10.8" font-size="14">0</tspan></text>
<line x1="90.3" y1="1244.6" x2="99.8" y2="1244.6" stroke="#000" stroke-width="1.7"/>
<text x="81.7" y="1254.9" font-size="20.5" text-anchor="end">10<tspan dy="-10.8" font-size="14">−1</tspan></text>
<line x1="90.3" y1="1314.4" x2="99.8" y2="1314.4" stroke="#000" stroke-width="1.7"/>
<text x="81.7" y="1324.7" font-size="20.5" text-anchor="end">10<tspan dy="-10.8" font-size="14">−2</tspan></text>
<line x1="90.3" y1="1384.2" x2="99.8" y2="1384.2" stroke="#000" stroke-width="1.7"/>
<text x="81.7" y="1394.5" font-size="20.5" text-anchor="end">10<tspan dy="-10.8" font-size="14">−3</tspan></text>
<line x1="90.3" y1="1454" x2="99.8" y2="1454" stroke="#000" stroke-width="1.7"/>
<text x="81.7" y="1464.3" font-size="20.5" text-anchor="end">10<tspan dy="-10.8" font-size="14">−4</tspan></text>
<line x1="98.92" y1="1471.5" x2="287.13" y2="1471.5" stroke="#000" stroke-width="1.7"/>
<line x1="134.9" y1="1471.5" x2="134.9" y2="1481" stroke="#000" stroke-width="1.7"/>
<text x="134.9" y="1504.5" font-size="20.5" text-anchor="middle">T1</text>
<line x1="193.45" y1="1471.5" x2="193.45" y2="1481" stroke="#000" stroke-width="1.7"/>
<text x="193.45" y="1504.5" font-size="20.5" text-anchor="middle">T2</text>
<line x1="252" y1="1471.5" x2="252" y2="1481" stroke="#000" stroke-width="1.7"/>
<text x="252" y="1504.5" font-size="20.5" text-anchor="middle">T3</text>
<text x="193.45" y="1087.6" font-size="21" text-anchor="middle">WT</text>
<circle cx="134.9" cy="1235.6" r="6.5" fill="#cb5640" fill-opacity="0.55" stroke="#cb5640" stroke-width="1.0" stroke-opacity="0.55"/>
<circle cx="252" cy="1225" r="6.5" fill="#cb5640" fill-opacity="0.55" stroke="#cb5640" stroke-width="1.0" stroke-opacity="0.55"/>
<circle cx="134.9" cy="1247" r="6.5" fill="#cb5640" fill-opacity="0.55" stroke="#cb5640" stroke-width="1.0" stroke-opacity="0.55"/>
<circle cx="193.45" cy="1234.9" r="6.5" fill="#cb5640" fill-opacity="0.55" stroke="#cb5640" stroke-width="1.0" stroke-opacity="0.55"/>
<circle cx="252" cy="1243.6" r="6.5" fill="#cb5640" fill-opacity="0.55" stroke="#cb5640" stroke-width="1.0" stroke-opacity="0.55"/>
<circle cx="134.9" cy="1251" r="6.5" fill="#cb5640" fill-opacity="0.55" stroke="#cb5640" stroke-width="1.0" stroke-opacity="0.55"/>
<circle cx="193.45" cy="1219.5" r="6.5" fill="#cb5640" fill-opacity="0.55" stroke="#cb5640" stroke-width="1.0" stroke-opacity="0.55"/>
<circle cx="252" cy="1227" r="6.5" fill="#cb5640" fill-opacity="0.55" stroke="#cb5640" stroke-width="1.0" stroke-opacity="0.55"/>
<circle cx="134.9" cy="1253.7" r="6.5" fill="#cb5640" fill-opacity="0.55" stroke="#cb5640" stroke-width="1.0" stroke-opacity="0.55"/>
<circle cx="193.45" cy="1259" r="6.5" fill="#cb5640" fill-opacity="0.55" stroke="#cb5640" stroke-width="1.0" stroke-opacity="0.55"/>
<circle cx="252" cy="1213.1" r="6.5" fill="#cb5640" fill-opacity="0.55" stroke="#cb5640" stroke-width="1.0" stroke-opacity="0.55"/>
<circle cx="134.9" cy="1255" r="6.5" fill="#cb5640" fill-opacity="0.55" stroke="#cb5640" stroke-width="1.0" stroke-opacity="0.55"/>
<circle cx="193.45" cy="1276.5" r="6.5" fill="#cb5640" fill-opacity="0.55" stroke="#cb5640" stroke-width="1.0" stroke-opacity="0.55"/>
<circle cx="252" cy="1265.7" r="6.5" fill="#cb5640" fill-opacity="0.55" stroke="#cb5640" stroke-width="1.0" stroke-opacity="0.55"/>
<circle cx="134.9" cy="1257.7" r="6.5" fill="#cb5640" fill-opacity="0.55" stroke="#cb5640" stroke-width="1.0" stroke-opacity="0.55"/>
<circle cx="193.45" cy="1261" r="6.5" fill="#cb5640" fill-opacity="0.55" stroke="#cb5640" stroke-width="1.0" stroke-opacity="0.55"/>
<circle cx="252" cy="1253.7" r="6.5" fill="#cb5640" fill-opacity="0.55" stroke="#cb5640" stroke-width="1.0" stroke-opacity="0.55"/>
<circle cx="134.9" cy="1252.3" r="6.5" fill="#cb5640" fill-opacity="0.55" stroke="#cb5640" stroke-width="1.0" stroke-opacity="0.55"/>
<circle cx="252" cy="1251" r="6.5" fill="#cb5640" fill-opacity="0.55" stroke="#cb5640" stroke-width="1.0" stroke-opacity="0.55"/>
<circle cx="134.9" cy="1279.2" r="6.5" fill="#cb5640" fill-opacity="0.55" stroke="#cb5640" stroke-width="1.0" stroke-opacity="0.55"/>
<circle cx="252" cy="1255.5" r="6.5" fill="#cb5640" fill-opacity="0.55" stroke="#cb5640" stroke-width="1.0" stroke-opacity="0.55"/>
<circle cx="134.9" cy="1283.9" r="6.5" fill="#cb5640" fill-opacity="0.55" stroke="#cb5640" stroke-width="1.0" stroke-opacity="0.55"/>
<circle cx="252" cy="1309.4" r="6.5" fill="#cb5640" fill-opacity="0.55" stroke="#cb5640" stroke-width="1.0" stroke-opacity="0.55"/>
<circle cx="134.9" cy="1314" r="6.5" fill="#cb5640" fill-opacity="0.55" stroke="#cb5640" stroke-width="1.0" stroke-opacity="0.55"/>
<circle cx="252" cy="1298.6" r="6.5" fill="#cb5640" fill-opacity="0.55" stroke="#cb5640" stroke-width="1.0" stroke-opacity="0.55"/>
<polyline points="134.9,1235.6 252,1225" fill="none" stroke="#d9d9d9" stroke-width="1.45" stroke-linejoin="round"/>
<polyline points="134.9,1247 193.45,1234.9 252,1243.6" fill="none" stroke="#d9d9d9" stroke-width="1.45" stroke-linejoin="round"/>
<polyline points="134.9,1251 193.45,1219.5 252,1227" fill="none" stroke="#d9d9d9" stroke-width="1.45" stroke-linejoin="round"/>
<polyline points="134.9,1253.7 193.45,1259 252,1213.1" fill="none" stroke="#d9d9d9" stroke-width="1.45" stroke-linejoin="round"/>
<polyline points="134.9,1255 193.45,1276.5 252,1265.7" fill="none" stroke="#d9d9d9" stroke-width="1.45" stroke-linejoin="round"/>
<polyline points="134.9,1257.7 193.45,1261 252,1253.7" fill="none" stroke="#d9d9d9" stroke-width="1.45" stroke-linejoin="round"/>
<polyline points="134.9,1252.3 252,1251" fill="none" stroke="#d9d9d9" stroke-width="1.45" stroke-linejoin="round"/>
<polyline points="134.9,1279.2 252,1255.5" fill="none" stroke="#d9d9d9" stroke-width="1.45" stroke-linejoin="round"/>
<polyline points="134.9,1283.9 252,1309.4" fill="none" stroke="#d9d9d9" stroke-width="1.45" stroke-linejoin="round"/>
<polyline points="134.9,1314 252,1298.6" fill="none" stroke="#d9d9d9" stroke-width="1.45" stroke-linejoin="round"/>
<rect x="119.4" y="1264.65" width="31" height="3.3" fill="#000"/>
<rect x="177.95" y="1251.75" width="31" height="3.3" fill="#000"/>
<rect x="236.5" y="1253.15" width="31" height="3.3" fill="#000"/>
<text x="193.45" y="1118" font-size="17.3" text-anchor="middle">ns</text>
<text x="252" y="1118" font-size="17.3" text-anchor="middle">ns</text>
<text x="193.45" y="1139" font-size="17.3" text-anchor="middle">1.57x</text>
<text x="252" y="1139" font-size="17.3" text-anchor="middle">1.75x</text>
<text x="134.9" y="1162.8" font-size="17.3" text-anchor="middle">0.067</text>
<text x="193.45" y="1162.8" font-size="17.3" text-anchor="middle">0.106</text>
<text x="252" y="1162.8" font-size="17.3" text-anchor="middle">0.118</text>
<line x1="306.87" y1="1471.5" x2="494.23" y2="1471.5" stroke="#000" stroke-width="1.7"/>
<line x1="342" y1="1471.5" x2="342" y2="1481" stroke="#000" stroke-width="1.7"/>
<text x="342" y="1504.5" font-size="20.5" text-anchor="middle">T1</text>
<line x1="400.55" y1="1471.5" x2="400.55" y2="1481" stroke="#000" stroke-width="1.7"/>
<text x="400.55" y="1504.5" font-size="20.5" text-anchor="middle">T2</text>
<line x1="459.1" y1="1471.5" x2="459.1" y2="1481" stroke="#000" stroke-width="1.7"/>
<text x="459.1" y="1504.5" font-size="20.5" text-anchor="middle">T3</text>
<text x="400.55" y="1087.6" font-size="21" text-anchor="middle">BA.5</text>
<circle cx="342" cy="1234.5" r="6.5" fill="#3a4f96" fill-opacity="0.55" stroke="#3a4f96" stroke-width="1.0" stroke-opacity="0.55"/>
<circle cx="400.55" cy="1258.1" r="6.5" fill="#3a4f96" fill-opacity="0.55" stroke="#3a4f96" stroke-width="1.0" stroke-opacity="0.55"/>
<circle cx="459.1" cy="1273.3" r="6.5" fill="#3a4f96" fill-opacity="0.55" stroke="#3a4f96" stroke-width="1.0" stroke-opacity="0.55"/>
<circle cx="342" cy="1262.6" r="6.5" fill="#3a4f96" fill-opacity="0.55" stroke="#3a4f96" stroke-width="1.0" stroke-opacity="0.55"/>
<circle cx="400.55" cy="1291.2" r="6.5" fill="#3a4f96" fill-opacity="0.55" stroke="#3a4f96" stroke-width="1.0" stroke-opacity="0.55"/>
<circle cx="459.1" cy="1312.7" r="6.5" fill="#3a4f96" fill-opacity="0.55" stroke="#3a4f96" stroke-width="1.0" stroke-opacity="0.55"/>
<circle cx="342" cy="1272.5" r="6.5" fill="#3a4f96" fill-opacity="0.55" stroke="#3a4f96" stroke-width="1.0" stroke-opacity="0.55"/>
<circle cx="459.1" cy="1315.4" r="6.5" fill="#3a4f96" fill-opacity="0.55" stroke="#3a4f96" stroke-width="1.0" stroke-opacity="0.55"/>
<circle cx="342" cy="1281.4" r="6.5" fill="#3a4f96" fill-opacity="0.55" stroke="#3a4f96" stroke-width="1.0" stroke-opacity="0.55"/>
<circle cx="400.55" cy="1326.7" r="6.5" fill="#3a4f96" fill-opacity="0.55" stroke="#3a4f96" stroke-width="1.0" stroke-opacity="0.55"/>
<circle cx="459.1" cy="1282.3" r="6.5" fill="#3a4f96" fill-opacity="0.55" stroke="#3a4f96" stroke-width="1.0" stroke-opacity="0.55"/>
<circle cx="342" cy="1290.3" r="6.5" fill="#3a4f96" fill-opacity="0.55" stroke="#3a4f96" stroke-width="1.0" stroke-opacity="0.55"/>
<circle cx="459.1" cy="1284.1" r="6.5" fill="#3a4f96" fill-opacity="0.55" stroke="#3a4f96" stroke-width="1.0" stroke-opacity="0.55"/>
<circle cx="342" cy="1292.1" r="6.5" fill="#3a4f96" fill-opacity="0.55" stroke="#3a4f96" stroke-width="1.0" stroke-opacity="0.55"/>
<circle cx="459.1" cy="1303.8" r="6.5" fill="#3a4f96" fill-opacity="0.55" stroke="#3a4f96" stroke-width="1.0" stroke-opacity="0.55"/>
<circle cx="342" cy="1298" r="6.5" fill="#3a4f96" fill-opacity="0.55" stroke="#3a4f96" stroke-width="1.0" stroke-opacity="0.55"/>
<circle cx="459.1" cy="1294.8" r="6.5" fill="#3a4f96" fill-opacity="0.55" stroke="#3a4f96" stroke-width="1.0" stroke-opacity="0.55"/>
<circle cx="342" cy="1313.6" r="6.5" fill="#3a4f96" fill-opacity="0.55" stroke="#3a4f96" stroke-width="1.0" stroke-opacity="0.55"/>
<circle cx="400.55" cy="1268.9" r="6.5" fill="#3a4f96" fill-opacity="0.55" stroke="#3a4f96" stroke-width="1.0" stroke-opacity="0.55"/>
<circle cx="459.1" cy="1260.8" r="6.5" fill="#3a4f96" fill-opacity="0.55" stroke="#3a4f96" stroke-width="1.0" stroke-opacity="0.55"/>
<circle cx="342" cy="1322.5" r="6.5" fill="#3a4f96" fill-opacity="0.55" stroke="#3a4f96" stroke-width="1.0" stroke-opacity="0.55"/>
<circle cx="400.55" cy="1294.8" r="6.5" fill="#3a4f96" fill-opacity="0.55" stroke="#3a4f96" stroke-width="1.0" stroke-opacity="0.55"/>
<circle cx="459.1" cy="1264.4" r="6.5" fill="#3a4f96" fill-opacity="0.55" stroke="#3a4f96" stroke-width="1.0" stroke-opacity="0.55"/>
<circle cx="342" cy="1343.1" r="6.5" fill="#3a4f96" fill-opacity="0.55" stroke="#3a4f96" stroke-width="1.0" stroke-opacity="0.55"/>
<circle cx="459.1" cy="1359.2" r="6.5" fill="#3a4f96" fill-opacity="0.55" stroke="#3a4f96" stroke-width="1.0" stroke-opacity="0.55"/>
<polyline points="342,1234.5 400.55,1258.1 459.1,1273.3" fill="none" stroke="#d9d9d9" stroke-width="1.45" stroke-linejoin="round"/>
<polyline points="342,1262.6 400.55,1291.2 459.1,1312.7" fill="none" stroke="#d9d9d9" stroke-width="1.45" stroke-linejoin="round"/>
<polyline points="342,1272.5 459.1,1315.4" fill="none" stroke="#d9d9d9" stroke-width="1.45" stroke-linejoin="round"/>
<polyline points="342,1281.4 400.55,1326.7 459.1,1282.3" fill="none" stroke="#d9d9d9" stroke-width="1.45" stroke-linejoin="round"/>
<polyline points="342,1290.3 459.1,1284.1" fill="none" stroke="#d9d9d9" stroke-width="1.45" stroke-linejoin="round"/>
<polyline points="342,1292.1 459.1,1303.8" fill="none" stroke="#d9d9d9" stroke-width="1.45" stroke-linejoin="round"/>
<polyline points="342,1298 459.1,1294.8" fill="none" stroke="#d9d9d9" stroke-width="1.45" stroke-linejoin="round"/>
<polyline points="342,1313.6 400.55,1268.9 459.1,1260.8" fill="none" stroke="#d9d9d9" stroke-width="1.45" stroke-linejoin="round"/>
<polyline points="342,1322.5 400.55,1294.8 459.1,1264.4" fill="none" stroke="#d9d9d9" stroke-width="1.45" stroke-linejoin="round"/>
<polyline points="342,1343.1 459.1,1359.2" fill="none" stroke="#d9d9d9" stroke-width="1.45" stroke-linejoin="round"/>
<rect x="326.5" y="1292.85" width="31" height="3.3" fill="#000"/>
<rect x="385.05" y="1290.15" width="31" height="3.3" fill="#000"/>
<rect x="443.6" y="1297.65" width="31" height="3.3" fill="#000"/>
<text x="400.55" y="1118" font-size="17.3" text-anchor="middle">ns</text>
<text x="459.1" y="1118" font-size="17.3" text-anchor="middle">ns</text>
<text x="400.55" y="1139" font-size="17.3" text-anchor="middle">0.89x</text>
<text x="459.1" y="1139" font-size="17.3" text-anchor="middle">0.74x</text>
<text x="342" y="1162.8" font-size="17.3" text-anchor="middle">0.035</text>
<text x="400.55" y="1162.8" font-size="17.3" text-anchor="middle">0.031</text>
<text x="459.1" y="1162.8" font-size="17.3" text-anchor="middle">0.026</text>
<line x1="513.97" y1="1471.5" x2="701.33" y2="1471.5" stroke="#000" stroke-width="1.7"/>
<line x1="549.1" y1="1471.5" x2="549.1" y2="1481" stroke="#000" stroke-width="1.7"/>
<text x="549.1" y="1504.5" font-size="20.5" text-anchor="middle">T1</text>
<line x1="607.65" y1="1471.5" x2="607.65" y2="1481" stroke="#000" stroke-width="1.7"/>
<text x="607.65" y="1504.5" font-size="20.5" text-anchor="middle">T2</text>
<line x1="666.2" y1="1471.5" x2="666.2" y2="1481" stroke="#000" stroke-width="1.7"/>
<text x="666.2" y="1504.5" font-size="20.5" text-anchor="middle">T3</text>
<text x="607.65" y="1087.6" font-size="21" text-anchor="middle">XBB.1.5</text>
<circle cx="549.1" cy="1342" r="6.5" fill="#b68925" fill-opacity="0.55" stroke="#b68925" stroke-width="1.0" stroke-opacity="0.55"/>
<circle cx="607.65" cy="1361.7" r="6.5" fill="#b68925" fill-opacity="0.55" stroke="#b68925" stroke-width="1.0" stroke-opacity="0.55"/>
<circle cx="666.2" cy="1336.7" r="6.5" fill="#b68925" fill-opacity="0.55" stroke="#b68925" stroke-width="1.0" stroke-opacity="0.55"/>
<circle cx="549.1" cy="1352.8" r="6.5" fill="#b68925" fill-opacity="0.55" stroke="#b68925" stroke-width="1.0" stroke-opacity="0.55"/>
<circle cx="607.65" cy="1346.5" r="6.5" fill="#b68925" fill-opacity="0.55" stroke="#b68925" stroke-width="1.0" stroke-opacity="0.55"/>
<circle cx="666.2" cy="1326.8" r="6.5" fill="#b68925" fill-opacity="0.55" stroke="#b68925" stroke-width="1.0" stroke-opacity="0.55"/>
<circle cx="549.1" cy="1358.1" r="6.5" fill="#b68925" fill-opacity="0.55" stroke="#b68925" stroke-width="1.0" stroke-opacity="0.55"/>
<circle cx="607.65" cy="1357.2" r="6.5" fill="#b68925" fill-opacity="0.55" stroke="#b68925" stroke-width="1.0" stroke-opacity="0.55"/>
<circle cx="666.2" cy="1318.8" r="6.5" fill="#b68925" fill-opacity="0.55" stroke="#b68925" stroke-width="1.0" stroke-opacity="0.55"/>
<circle cx="549.1" cy="1371.6" r="6.5" fill="#b68925" fill-opacity="0.55" stroke="#b68925" stroke-width="1.0" stroke-opacity="0.55"/>
<circle cx="666.2" cy="1341.1" r="6.5" fill="#b68925" fill-opacity="0.55" stroke="#b68925" stroke-width="1.0" stroke-opacity="0.55"/>
<circle cx="549.1" cy="1375.1" r="6.5" fill="#b68925" fill-opacity="0.55" stroke="#b68925" stroke-width="1.0" stroke-opacity="0.55"/>
<circle cx="666.2" cy="1353.7" r="6.5" fill="#b68925" fill-opacity="0.55" stroke="#b68925" stroke-width="1.0" stroke-opacity="0.55"/>
<circle cx="549.1" cy="1378.7" r="6.5" fill="#b68925" fill-opacity="0.55" stroke="#b68925" stroke-width="1.0" stroke-opacity="0.55"/>
<circle cx="666.2" cy="1357.2" r="6.5" fill="#b68925" fill-opacity="0.55" stroke="#b68925" stroke-width="1.0" stroke-opacity="0.55"/>
<circle cx="549.1" cy="1382.3" r="6.5" fill="#b68925" fill-opacity="0.55" stroke="#b68925" stroke-width="1.0" stroke-opacity="0.55"/>
<circle cx="666.2" cy="1359.9" r="6.5" fill="#b68925" fill-opacity="0.55" stroke="#b68925" stroke-width="1.0" stroke-opacity="0.55"/>
<circle cx="549.1" cy="1384.1" r="6.5" fill="#b68925" fill-opacity="0.55" stroke="#b68925" stroke-width="1.0" stroke-opacity="0.55"/>
<circle cx="607.65" cy="1379.6" r="6.5" fill="#b68925" fill-opacity="0.55" stroke="#b68925" stroke-width="1.0" stroke-opacity="0.55"/>
<circle cx="666.2" cy="1361.7" r="6.5" fill="#b68925" fill-opacity="0.55" stroke="#b68925" stroke-width="1.0" stroke-opacity="0.55"/>
<circle cx="549.1" cy="1385.9" r="6.5" fill="#b68925" fill-opacity="0.55" stroke="#b68925" stroke-width="1.0" stroke-opacity="0.55"/>
<circle cx="666.2" cy="1388.6" r="6.5" fill="#b68925" fill-opacity="0.55" stroke="#b68925" stroke-width="1.0" stroke-opacity="0.55"/>
<circle cx="549.1" cy="1388.6" r="6.5" fill="#b68925" fill-opacity="0.55" stroke="#b68925" stroke-width="1.0" stroke-opacity="0.55"/>
<circle cx="666.2" cy="1333.1" r="6.5" fill="#b68925" fill-opacity="0.55" stroke="#b68925" stroke-width="1.0" stroke-opacity="0.55"/>
<polyline points="549.1,1342 607.65,1361.7 666.2,1336.7" fill="none" stroke="#d9d9d9" stroke-width="1.45" stroke-linejoin="round"/>
<polyline points="549.1,1352.8 607.65,1346.5 666.2,1326.8" fill="none" stroke="#d9d9d9" stroke-width="1.45" stroke-linejoin="round"/>
<polyline points="549.1,1358.1 607.65,1357.2 666.2,1318.8" fill="none" stroke="#d9d9d9" stroke-width="1.45" stroke-linejoin="round"/>
<polyline points="549.1,1371.6 666.2,1341.1" fill="none" stroke="#d9d9d9" stroke-width="1.45" stroke-linejoin="round"/>
<polyline points="549.1,1375.1 666.2,1353.7" fill="none" stroke="#d9d9d9" stroke-width="1.45" stroke-linejoin="round"/>
<polyline points="549.1,1378.7 666.2,1357.2" fill="none" stroke="#d9d9d9" stroke-width="1.45" stroke-linejoin="round"/>
<polyline points="549.1,1382.3 666.2,1359.9" fill="none" stroke="#d9d9d9" stroke-width="1.45" stroke-linejoin="round"/>
<polyline points="549.1,1384.1 607.65,1379.6 666.2,1361.7" fill="none" stroke="#d9d9d9" stroke-width="1.45" stroke-linejoin="round"/>
<polyline points="549.1,1385.9 666.2,1388.6" fill="none" stroke="#d9d9d9" stroke-width="1.45" stroke-linejoin="round"/>
<polyline points="549.1,1388.6 666.2,1333.1" fill="none" stroke="#d9d9d9" stroke-width="1.45" stroke-linejoin="round"/>
<rect x="533.6" y="1373.45" width="31" height="3.3" fill="#000"/>
<rect x="592.15" y="1364.55" width="31" height="3.3" fill="#000"/>
<rect x="650.7" y="1351.65" width="31" height="3.3" fill="#000"/>
<text x="607.65" y="1118" font-size="17.3" text-anchor="middle">ns</text>
<text x="666.2" y="1118" font-size="17.3" text-anchor="middle">*</text>
<text x="607.65" y="1139" font-size="17.3" text-anchor="middle">1.26x</text>
<text x="666.2" y="1139" font-size="17.3" text-anchor="middle">2.17x</text>
<text x="549.1" y="1162.8" font-size="17.3" text-anchor="middle">0.002</text>
<text x="607.65" y="1162.8" font-size="17.3" text-anchor="middle">0.002</text>
<text x="666.2" y="1162.8" font-size="17.3" text-anchor="middle">0.004</text>
<line x1="721.07" y1="1471.5" x2="908.43" y2="1471.5" stroke="#000" stroke-width="1.7"/>
<line x1="756.2" y1="1471.5" x2="756.2" y2="1481" stroke="#000" stroke-width="1.7"/>
<text x="756.2" y="1504.5" font-size="20.5" text-anchor="middle">T1</text>
<line x1="814.75" y1="1471.5" x2="814.75" y2="1481" stroke="#000" stroke-width="1.7"/>
<text x="814.75" y="1504.5" font-size="20.5" text-anchor="middle">T2</text>
<line x1="873.3" y1="1471.5" x2="873.3" y2="1481" stroke="#000" stroke-width="1.7"/>
<text x="873.3" y="1504.5" font-size="20.5" text-anchor="middle">T3</text>
<text x="814.75" y="1087.6" font-size="21" text-anchor="middle">JN.1</text>
<circle cx="756.2" cy="1296.9" r="6.5" fill="#7a2ebc" fill-opacity="0.55" stroke="#7a2ebc" stroke-width="1.0" stroke-opacity="0.55"/>
<circle cx="814.75" cy="1306.2" r="6.5" fill="#7a2ebc" fill-opacity="0.55" stroke="#7a2ebc" stroke-width="1.0" stroke-opacity="0.55"/>
<circle cx="873.3" cy="1273.1" r="6.5" fill="#7a2ebc" fill-opacity="0.55" stroke="#7a2ebc" stroke-width="1.0" stroke-opacity="0.55"/>
<circle cx="756.2" cy="1322.6" r="6.5" fill="#7a2ebc" fill-opacity="0.55" stroke="#7a2ebc" stroke-width="1.0" stroke-opacity="0.55"/>
<circle cx="814.75" cy="1307.6" r="6.5" fill="#7a2ebc" fill-opacity="0.55" stroke="#7a2ebc" stroke-width="1.0" stroke-opacity="0.55"/>
<circle cx="873.3" cy="1293.3" r="6.5" fill="#7a2ebc" fill-opacity="0.55" stroke="#7a2ebc" stroke-width="1.0" stroke-opacity="0.55"/>
<circle cx="756.2" cy="1330.3" r="6.5" fill="#7a2ebc" fill-opacity="0.55" stroke="#7a2ebc" stroke-width="1.0" stroke-opacity="0.55"/>
<circle cx="814.75" cy="1309" r="6.5" fill="#7a2ebc" fill-opacity="0.55" stroke="#7a2ebc" stroke-width="1.0" stroke-opacity="0.55"/>
<circle cx="873.3" cy="1349.1" r="6.5" fill="#7a2ebc" fill-opacity="0.55" stroke="#7a2ebc" stroke-width="1.0" stroke-opacity="0.55"/>
<circle cx="756.2" cy="1332.1" r="6.5" fill="#7a2ebc" fill-opacity="0.55" stroke="#7a2ebc" stroke-width="1.0" stroke-opacity="0.55"/>
<circle cx="873.3" cy="1334.8" r="6.5" fill="#7a2ebc" fill-opacity="0.55" stroke="#7a2ebc" stroke-width="1.0" stroke-opacity="0.55"/>
<circle cx="756.2" cy="1343.4" r="6.5" fill="#7a2ebc" fill-opacity="0.55" stroke="#7a2ebc" stroke-width="1.0" stroke-opacity="0.55"/>
<circle cx="873.3" cy="1328.5" r="6.5" fill="#7a2ebc" fill-opacity="0.55" stroke="#7a2ebc" stroke-width="1.0" stroke-opacity="0.55"/>
<circle cx="756.2" cy="1356.3" r="6.5" fill="#7a2ebc" fill-opacity="0.55" stroke="#7a2ebc" stroke-width="1.0" stroke-opacity="0.55"/>
<circle cx="873.3" cy="1315.7" r="6.5" fill="#7a2ebc" fill-opacity="0.55" stroke="#7a2ebc" stroke-width="1.0" stroke-opacity="0.55"/>
<circle cx="756.2" cy="1359" r="6.5" fill="#7a2ebc" fill-opacity="0.55" stroke="#7a2ebc" stroke-width="1.0" stroke-opacity="0.55"/>
<circle cx="873.3" cy="1347.3" r="6.5" fill="#7a2ebc" fill-opacity="0.55" stroke="#7a2ebc" stroke-width="1.0" stroke-opacity="0.55"/>
<circle cx="756.2" cy="1383.1" r="6.5" fill="#7a2ebc" fill-opacity="0.55" stroke="#7a2ebc" stroke-width="1.0" stroke-opacity="0.55"/>
<circle cx="814.75" cy="1384.5" r="6.5" fill="#7a2ebc" fill-opacity="0.55" stroke="#7a2ebc" stroke-width="1.0" stroke-opacity="0.55"/>
<circle cx="873.3" cy="1346.4" r="6.5" fill="#7a2ebc" fill-opacity="0.55" stroke="#7a2ebc" stroke-width="1.0" stroke-opacity="0.55"/>
<circle cx="756.2" cy="1387" r="6.5" fill="#7a2ebc" fill-opacity="0.55" stroke="#7a2ebc" stroke-width="1.0" stroke-opacity="0.55"/>
<circle cx="873.3" cy="1354.5" r="6.5" fill="#7a2ebc" fill-opacity="0.55" stroke="#7a2ebc" stroke-width="1.0" stroke-opacity="0.55"/>
<circle cx="756.2" cy="1389.4" r="6.5" fill="#7a2ebc" fill-opacity="0.55" stroke="#7a2ebc" stroke-width="1.0" stroke-opacity="0.55"/>
<circle cx="873.3" cy="1366.7" r="6.5" fill="#7a2ebc" fill-opacity="0.55" stroke="#7a2ebc" stroke-width="1.0" stroke-opacity="0.55"/>
<polyline points="756.2,1296.9 814.75,1306.2 873.3,1273.1" fill="none" stroke="#d9d9d9" stroke-width="1.45" stroke-linejoin="round"/>
<polyline points="756.2,1322.6 814.75,1307.6 873.3,1293.3" fill="none" stroke="#d9d9d9" stroke-width="1.45" stroke-linejoin="round"/>
<polyline points="756.2,1330.3 814.75,1309 873.3,1349.1" fill="none" stroke="#d9d9d9" stroke-width="1.45" stroke-linejoin="round"/>
<polyline points="756.2,1332.1 873.3,1334.8" fill="none" stroke="#d9d9d9" stroke-width="1.45" stroke-linejoin="round"/>
<polyline points="756.2,1343.4 873.3,1328.5" fill="none" stroke="#d9d9d9" stroke-width="1.45" stroke-linejoin="round"/>
<polyline points="756.2,1356.3 873.3,1315.7" fill="none" stroke="#d9d9d9" stroke-width="1.45" stroke-linejoin="round"/>
<polyline points="756.2,1359 873.3,1347.3" fill="none" stroke="#d9d9d9" stroke-width="1.45" stroke-linejoin="round"/>
<polyline points="756.2,1383.1 814.75,1384.5 873.3,1346.4" fill="none" stroke="#d9d9d9" stroke-width="1.45" stroke-linejoin="round"/>
<polyline points="756.2,1387 873.3,1354.5" fill="none" stroke="#d9d9d9" stroke-width="1.45" stroke-linejoin="round"/>
<polyline points="756.2,1389.4 873.3,1366.7" fill="none" stroke="#d9d9d9" stroke-width="1.45" stroke-linejoin="round"/>
<rect x="740.7" y="1349.65" width="31" height="3.3" fill="#000"/>
<rect x="799.25" y="1328.35" width="31" height="3.3" fill="#000"/>
<rect x="857.8" y="1330.85" width="31" height="3.3" fill="#000"/>
<text x="814.75" y="1118" font-size="17.3" text-anchor="middle">ns</text>
<text x="873.3" y="1118" font-size="17.3" text-anchor="middle">ns</text>
<text x="814.75" y="1139" font-size="17.3" text-anchor="middle">1.87x</text>
<text x="873.3" y="1139" font-size="17.3" text-anchor="middle">1.95x</text>
<text x="756.2" y="1162.8" font-size="17.3" text-anchor="middle">0.005</text>
<text x="814.75" y="1162.8" font-size="17.3" text-anchor="middle">0.01</text>
<text x="873.3" y="1162.8" font-size="17.3" text-anchor="middle">0.01</text>
<line x1="928.17" y1="1471.5" x2="1115.53" y2="1471.5" stroke="#000" stroke-width="1.7"/>
<line x1="963.3" y1="1471.5" x2="963.3" y2="1481" stroke="#000" stroke-width="1.7"/>
<text x="963.3" y="1504.5" font-size="20.5" text-anchor="middle">T1</text>
<line x1="1021.85" y1="1471.5" x2="1021.85" y2="1481" stroke="#000" stroke-width="1.7"/>
<text x="1021.85" y="1504.5" font-size="20.5" text-anchor="middle">T2</text>
<line x1="1080.4" y1="1471.5" x2="1080.4" y2="1481" stroke="#000" stroke-width="1.7"/>
<text x="1080.4" y="1504.5" font-size="20.5" text-anchor="middle">T3</text>
<text x="1021.85" y="1087.6" font-size="21" text-anchor="middle">KP.3</text>
<circle cx="963.3" cy="1282.2" r="6.5" fill="#582870" fill-opacity="0.55" stroke="#582870" stroke-width="1.0" stroke-opacity="0.55"/>
<circle cx="1080.4" cy="1282" r="6.5" fill="#582870" fill-opacity="0.55" stroke="#582870" stroke-width="1.0" stroke-opacity="0.55"/>
<circle cx="963.3" cy="1301.1" r="6.5" fill="#582870" fill-opacity="0.55" stroke="#582870" stroke-width="1.0" stroke-opacity="0.55"/>
<circle cx="1021.85" cy="1312.6" r="6.5" fill="#582870" fill-opacity="0.55" stroke="#582870" stroke-width="1.0" stroke-opacity="0.55"/>
<circle cx="1080.4" cy="1323.6" r="6.5" fill="#582870" fill-opacity="0.55" stroke="#582870" stroke-width="1.0" stroke-opacity="0.55"/>
<circle cx="963.3" cy="1313.5" r="6.5" fill="#582870" fill-opacity="0.55" stroke="#582870" stroke-width="1.0" stroke-opacity="0.55"/>
<circle cx="1021.85" cy="1327.1" r="6.5" fill="#582870" fill-opacity="0.55" stroke="#582870" stroke-width="1.0" stroke-opacity="0.55"/>
<circle cx="963.3" cy="1315.8" r="6.5" fill="#582870" fill-opacity="0.55" stroke="#582870" stroke-width="1.0" stroke-opacity="0.55"/>
<circle cx="963.3" cy="1317.9" r="6.5" fill="#582870" fill-opacity="0.55" stroke="#582870" stroke-width="1.0" stroke-opacity="0.55"/>
<circle cx="963.3" cy="1323.2" r="6.5" fill="#582870" fill-opacity="0.55" stroke="#582870" stroke-width="1.0" stroke-opacity="0.55"/>
<circle cx="963.3" cy="1330.3" r="6.5" fill="#582870" fill-opacity="0.55" stroke="#582870" stroke-width="1.0" stroke-opacity="0.55"/>
<circle cx="1080.4" cy="1298.4" r="6.5" fill="#582870" fill-opacity="0.55" stroke="#582870" stroke-width="1.0" stroke-opacity="0.55"/>
<circle cx="963.3" cy="1340.1" r="6.5" fill="#582870" fill-opacity="0.55" stroke="#582870" stroke-width="1.0" stroke-opacity="0.55"/>
<circle cx="1021.85" cy="1285.7" r="6.5" fill="#582870" fill-opacity="0.55" stroke="#582870" stroke-width="1.0" stroke-opacity="0.55"/>
<circle cx="1080.4" cy="1265.7" r="6.5" fill="#582870" fill-opacity="0.55" stroke="#582870" stroke-width="1.0" stroke-opacity="0.55"/>
<circle cx="963.3" cy="1341.8" r="6.5" fill="#582870" fill-opacity="0.55" stroke="#582870" stroke-width="1.0" stroke-opacity="0.55"/>
<circle cx="1080.4" cy="1302" r="6.5" fill="#582870" fill-opacity="0.55" stroke="#582870" stroke-width="1.0" stroke-opacity="0.55"/>
<circle cx="963.3" cy="1344.5" r="6.5" fill="#582870" fill-opacity="0.55" stroke="#582870" stroke-width="1.0" stroke-opacity="0.55"/>
<circle cx="1080.4" cy="1342.7" r="6.5" fill="#582870" fill-opacity="0.55" stroke="#582870" stroke-width="1.0" stroke-opacity="0.55"/>
<polyline points="963.3,1282.2 1080.4,1282" fill="none" stroke="#d9d9d9" stroke-width="1.45" stroke-linejoin="round"/>
<polyline points="963.3,1301.1 1021.85,1312.6 1080.4,1323.6" fill="none" stroke="#d9d9d9" stroke-width="1.45" stroke-linejoin="round"/>
<polyline points="963.3,1313.5 1021.85,1327.1" fill="none" stroke="#d9d9d9" stroke-width="1.45" stroke-linejoin="round"/>
<polyline points="963.3,1330.3 1080.4,1298.4" fill="none" stroke="#d9d9d9" stroke-width="1.45" stroke-linejoin="round"/>
<polyline points="963.3,1340.1 1021.85,1285.7 1080.4,1265.7" fill="none" stroke="#d9d9d9" stroke-width="1.45" stroke-linejoin="round"/>
<polyline points="963.3,1341.8 1080.4,1302" fill="none" stroke="#d9d9d9" stroke-width="1.45" stroke-linejoin="round"/>
<polyline points="963.3,1344.5 1080.4,1342.7" fill="none" stroke="#d9d9d9" stroke-width="1.45" stroke-linejoin="round"/>
<rect x="947.8" y="1323.75" width="31" height="3.3" fill="#000"/>
<rect x="1006.35" y="1310.65" width="31" height="3.3" fill="#000"/>
<rect x="1064.9" y="1304.95" width="31" height="3.3" fill="#000"/>
<text x="1021.85" y="1118" font-size="17.3" text-anchor="middle">ns</text>
<text x="1080.4" y="1118" font-size="17.3" text-anchor="middle">ns</text>
<text x="1021.85" y="1139" font-size="17.3" text-anchor="middle">1.43x</text>
<text x="1080.4" y="1139" font-size="17.3" text-anchor="middle">2.02x</text>
<text x="963.3" y="1162.8" font-size="17.3" text-anchor="middle">0.01</text>
<text x="1021.85" y="1162.8" font-size="17.3" text-anchor="middle">0.014</text>
<text x="1080.4" y="1162.8" font-size="17.3" text-anchor="middle">0.02</text>
<text x="2.3" y="1564.3" font-size="27" font-weight="bold">d</text>
<text x="626.1" y="1565" font-size="21.15" text-anchor="middle" font-weight="bold">Neutralization Potency by Variant (Double infection)</text>
<text x="23.3" y="1810.5" font-size="21.25" text-anchor="middle" transform="rotate(-90 23.3 1810.5)">pVNT<tspan dy="4.2" font-size="14.5">50</tspan><tspan dy="-4.2"> Titer/ RBD IgG Titer</tspan></text>
<line x1="99.8" y1="1623.1" x2="99.8" y2="2000.25" stroke="#000" stroke-width="1.7"/>
<line x1="90.3" y1="1632.9" x2="99.8" y2="1632.9" stroke="#000" stroke-width="1.7"/>
<text x="81.7" y="1643.2" font-size="20.5" text-anchor="end">10<tspan dy="-10.8" font-size="14">1</tspan></text>
<line x1="90.3" y1="1702.7" x2="99.8" y2="1702.7" stroke="#000" stroke-width="1.7"/>
<text x="81.7" y="1713" font-size="20.5" text-anchor="end">10<tspan dy="-10.8" font-size="14">0</tspan></text>
<line x1="90.3" y1="1772.5" x2="99.8" y2="1772.5" stroke="#000" stroke-width="1.7"/>
<text x="81.7" y="1782.8" font-size="20.5" text-anchor="end">10<tspan dy="-10.8" font-size="14">−1</tspan></text>
<line x1="90.3" y1="1842.3" x2="99.8" y2="1842.3" stroke="#000" stroke-width="1.7"/>
<text x="81.7" y="1852.6" font-size="20.5" text-anchor="end">10<tspan dy="-10.8" font-size="14">−2</tspan></text>
<line x1="90.3" y1="1912.1" x2="99.8" y2="1912.1" stroke="#000" stroke-width="1.7"/>
<text x="81.7" y="1922.4" font-size="20.5" text-anchor="end">10<tspan dy="-10.8" font-size="14">−3</tspan></text>
<line x1="90.3" y1="1981.9" x2="99.8" y2="1981.9" stroke="#000" stroke-width="1.7"/>
<text x="81.7" y="1992.2" font-size="20.5" text-anchor="end">10<tspan dy="-10.8" font-size="14">−4</tspan></text>
<line x1="98.92" y1="1999.4" x2="287.13" y2="1999.4" stroke="#000" stroke-width="1.7"/>
<line x1="134.9" y1="1999.4" x2="134.9" y2="2008.9" stroke="#000" stroke-width="1.7"/>
<text x="134.9" y="2032.4" font-size="20.5" text-anchor="middle">T1</text>
<line x1="193.45" y1="1999.4" x2="193.45" y2="2008.9" stroke="#000" stroke-width="1.7"/>
<text x="193.45" y="2032.4" font-size="20.5" text-anchor="middle">T2</text>
<line x1="252" y1="1999.4" x2="252" y2="2008.9" stroke="#000" stroke-width="1.7"/>
<text x="252" y="2032.4" font-size="20.5" text-anchor="middle">T3</text>
<text x="193.45" y="1604.9" font-size="21" text-anchor="middle">WT</text>
<circle cx="134.9" cy="1750.8" r="6.5" fill="#cb5640" fill-opacity="0.55" stroke="#cb5640" stroke-width="1.0" stroke-opacity="0.55"/>
<circle cx="252" cy="1769.2" r="6.5" fill="#cb5640" fill-opacity="0.55" stroke="#cb5640" stroke-width="1.0" stroke-opacity="0.55"/>
<circle cx="134.9" cy="1771.9" r="6.5" fill="#cb5640" fill-opacity="0.55" stroke="#cb5640" stroke-width="1.0" stroke-opacity="0.55"/>
<circle cx="193.45" cy="1745.9" r="6.5" fill="#cb5640" fill-opacity="0.55" stroke="#cb5640" stroke-width="1.0" stroke-opacity="0.55"/>
<circle cx="252" cy="1790.7" r="6.5" fill="#cb5640" fill-opacity="0.55" stroke="#cb5640" stroke-width="1.0" stroke-opacity="0.55"/>
<circle cx="134.9" cy="1774.6" r="6.5" fill="#cb5640" fill-opacity="0.55" stroke="#cb5640" stroke-width="1.0" stroke-opacity="0.55"/>
<circle cx="193.45" cy="1756.7" r="6.5" fill="#cb5640" fill-opacity="0.55" stroke="#cb5640" stroke-width="1.0" stroke-opacity="0.55"/>
<circle cx="252" cy="1795.1" r="6.5" fill="#cb5640" fill-opacity="0.55" stroke="#cb5640" stroke-width="1.0" stroke-opacity="0.55"/>
<circle cx="134.9" cy="1777.2" r="6.5" fill="#cb5640" fill-opacity="0.55" stroke="#cb5640" stroke-width="1.0" stroke-opacity="0.55"/>
<circle cx="252" cy="1774.6" r="6.5" fill="#cb5640" fill-opacity="0.55" stroke="#cb5640" stroke-width="1.0" stroke-opacity="0.55"/>
<circle cx="134.9" cy="1779.9" r="6.5" fill="#cb5640" fill-opacity="0.55" stroke="#cb5640" stroke-width="1.0" stroke-opacity="0.55"/>
<circle cx="193.45" cy="1759.4" r="6.5" fill="#cb5640" fill-opacity="0.55" stroke="#cb5640" stroke-width="1.0" stroke-opacity="0.55"/>
<circle cx="252" cy="1777.2" r="6.5" fill="#cb5640" fill-opacity="0.55" stroke="#cb5640" stroke-width="1.0" stroke-opacity="0.55"/>
<circle cx="134.9" cy="1788" r="6.5" fill="#cb5640" fill-opacity="0.55" stroke="#cb5640" stroke-width="1.0" stroke-opacity="0.55"/>
<circle cx="193.45" cy="1786.2" r="6.5" fill="#cb5640" fill-opacity="0.55" stroke="#cb5640" stroke-width="1.0" stroke-opacity="0.55"/>
<circle cx="252" cy="1779.9" r="6.5" fill="#cb5640" fill-opacity="0.55" stroke="#cb5640" stroke-width="1.0" stroke-opacity="0.55"/>
<circle cx="134.9" cy="1790.7" r="6.5" fill="#cb5640" fill-opacity="0.55" stroke="#cb5640" stroke-width="1.0" stroke-opacity="0.55"/>
<circle cx="193.45" cy="1772.8" r="6.5" fill="#cb5640" fill-opacity="0.55" stroke="#cb5640" stroke-width="1.0" stroke-opacity="0.55"/>
<circle cx="252" cy="1782.6" r="6.5" fill="#cb5640" fill-opacity="0.55" stroke="#cb5640" stroke-width="1.0" stroke-opacity="0.55"/>
<circle cx="134.9" cy="1793.3" r="6.5" fill="#cb5640" fill-opacity="0.55" stroke="#cb5640" stroke-width="1.0" stroke-opacity="0.55"/>
<circle cx="193.45" cy="1787" r="6.5" fill="#cb5640" fill-opacity="0.55" stroke="#cb5640" stroke-width="1.0" stroke-opacity="0.55"/>
<circle cx="252" cy="1788" r="6.5" fill="#cb5640" fill-opacity="0.55" stroke="#cb5640" stroke-width="1.0" stroke-opacity="0.55"/>
<circle cx="134.9" cy="1804.1" r="6.5" fill="#cb5640" fill-opacity="0.55" stroke="#cb5640" stroke-width="1.0" stroke-opacity="0.55"/>
<circle cx="193.45" cy="1788.9" r="6.5" fill="#cb5640" fill-opacity="0.55" stroke="#cb5640" stroke-width="1.0" stroke-opacity="0.55"/>
<circle cx="252" cy="1796.9" r="6.5" fill="#cb5640" fill-opacity="0.55" stroke="#cb5640" stroke-width="1.0" stroke-opacity="0.55"/>
<circle cx="134.9" cy="1807.7" r="6.5" fill="#cb5640" fill-opacity="0.55" stroke="#cb5640" stroke-width="1.0" stroke-opacity="0.55"/>
<circle cx="193.45" cy="1791.6" r="6.5" fill="#cb5640" fill-opacity="0.55" stroke="#cb5640" stroke-width="1.0" stroke-opacity="0.55"/>
<circle cx="134.9" cy="1811.2" r="6.5" fill="#cb5640" fill-opacity="0.55" stroke="#cb5640" stroke-width="1.0" stroke-opacity="0.55"/>
<circle cx="193.45" cy="1798.7" r="6.5" fill="#cb5640" fill-opacity="0.55" stroke="#cb5640" stroke-width="1.0" stroke-opacity="0.55"/>
<circle cx="252" cy="1799.6" r="6.5" fill="#cb5640" fill-opacity="0.55" stroke="#cb5640" stroke-width="1.0" stroke-opacity="0.55"/>
<circle cx="134.9" cy="1814.8" r="6.5" fill="#cb5640" fill-opacity="0.55" stroke="#cb5640" stroke-width="1.0" stroke-opacity="0.55"/>
<circle cx="252" cy="1819.3" r="6.5" fill="#cb5640" fill-opacity="0.55" stroke="#cb5640" stroke-width="1.0" stroke-opacity="0.55"/>
<polyline points="134.9,1750.8 252,1769.2" fill="none" stroke="#d9d9d9" stroke-width="1.45" stroke-linejoin="round"/>
<polyline points="134.9,1771.9 193.45,1745.9 252,1790.7" fill="none" stroke="#d9d9d9" stroke-width="1.45" stroke-linejoin="round"/>
<polyline points="134.9,1774.6 193.45,1756.7 252,1795.1" fill="none" stroke="#d9d9d9" stroke-width="1.45" stroke-linejoin="round"/>
<polyline points="134.9,1777.2 252,1774.6" fill="none" stroke="#d9d9d9" stroke-width="1.45" stroke-linejoin="round"/>
<polyline points="134.9,1779.9 193.45,1759.4 252,1777.2" fill="none" stroke="#d9d9d9" stroke-width="1.45" stroke-linejoin="round"/>
<polyline points="134.9,1788 193.45,1786.2 252,1779.9" fill="none" stroke="#d9d9d9" stroke-width="1.45" stroke-linejoin="round"/>
<polyline points="134.9,1790.7 193.45,1772.8 252,1782.6" fill="none" stroke="#d9d9d9" stroke-width="1.45" stroke-linejoin="round"/>
<polyline points="134.9,1793.3 193.45,1787 252,1788" fill="none" stroke="#d9d9d9" stroke-width="1.45" stroke-linejoin="round"/>
<polyline points="134.9,1804.1 193.45,1788.9 252,1796.9" fill="none" stroke="#d9d9d9" stroke-width="1.45" stroke-linejoin="round"/>
<polyline points="134.9,1807.7 193.45,1791.6" fill="none" stroke="#d9d9d9" stroke-width="1.45" stroke-linejoin="round"/>
<polyline points="134.9,1811.2 193.45,1798.7 252,1799.6" fill="none" stroke="#d9d9d9" stroke-width="1.45" stroke-linejoin="round"/>
<polyline points="134.9,1814.8 252,1819.3" fill="none" stroke="#d9d9d9" stroke-width="1.45" stroke-linejoin="round"/>
<rect x="119.4" y="1789.35" width="31" height="3.3" fill="#000"/>
<rect x="177.95" y="1777.95" width="31" height="3.3" fill="#000"/>
<rect x="236.5" y="1791.35" width="31" height="3.3" fill="#000"/>
<text x="193.45" y="1645.9" font-size="17.3" text-anchor="middle">ns</text>
<text x="252" y="1645.9" font-size="17.3" text-anchor="middle">ns</text>
<text x="193.45" y="1666.9" font-size="17.3" text-anchor="middle">1.46x</text>
<text x="252" y="1666.9" font-size="17.3" text-anchor="middle">0.99x</text>
<text x="134.9" y="1690.7" font-size="17.3" text-anchor="middle">0.072</text>
<text x="193.45" y="1690.7" font-size="17.3" text-anchor="middle">0.103</text>
<text x="252" y="1690.7" font-size="17.3" text-anchor="middle">0.063</text>
<line x1="306.87" y1="1999.4" x2="494.23" y2="1999.4" stroke="#000" stroke-width="1.7"/>
<line x1="342" y1="1999.4" x2="342" y2="2008.9" stroke="#000" stroke-width="1.7"/>
<text x="342" y="2032.4" font-size="20.5" text-anchor="middle">T1</text>
<line x1="400.55" y1="1999.4" x2="400.55" y2="2008.9" stroke="#000" stroke-width="1.7"/>
<text x="400.55" y="2032.4" font-size="20.5" text-anchor="middle">T2</text>
<line x1="459.1" y1="1999.4" x2="459.1" y2="2008.9" stroke="#000" stroke-width="1.7"/>
<text x="459.1" y="2032.4" font-size="20.5" text-anchor="middle">T3</text>
<text x="400.55" y="1604.9" font-size="21" text-anchor="middle">BA.5</text>
<circle cx="342" cy="1780.8" r="6.5" fill="#3a4f96" fill-opacity="0.55" stroke="#3a4f96" stroke-width="1.0" stroke-opacity="0.55"/>
<circle cx="400.55" cy="1777.2" r="6.5" fill="#3a4f96" fill-opacity="0.55" stroke="#3a4f96" stroke-width="1.0" stroke-opacity="0.55"/>
<circle cx="459.1" cy="1768.3" r="6.5" fill="#3a4f96" fill-opacity="0.55" stroke="#3a4f96" stroke-width="1.0" stroke-opacity="0.55"/>
<circle cx="342" cy="1783.5" r="6.5" fill="#3a4f96" fill-opacity="0.55" stroke="#3a4f96" stroke-width="1.0" stroke-opacity="0.55"/>
<circle cx="400.55" cy="1785.3" r="6.5" fill="#3a4f96" fill-opacity="0.55" stroke="#3a4f96" stroke-width="1.0" stroke-opacity="0.55"/>
<circle cx="459.1" cy="1774.6" r="6.5" fill="#3a4f96" fill-opacity="0.55" stroke="#3a4f96" stroke-width="1.0" stroke-opacity="0.55"/>
<circle cx="342" cy="1788" r="6.5" fill="#3a4f96" fill-opacity="0.55" stroke="#3a4f96" stroke-width="1.0" stroke-opacity="0.55"/>
<circle cx="400.55" cy="1809.4" r="6.5" fill="#3a4f96" fill-opacity="0.55" stroke="#3a4f96" stroke-width="1.0" stroke-opacity="0.55"/>
<circle cx="459.1" cy="1798.7" r="6.5" fill="#3a4f96" fill-opacity="0.55" stroke="#3a4f96" stroke-width="1.0" stroke-opacity="0.55"/>
<circle cx="342" cy="1791.6" r="6.5" fill="#3a4f96" fill-opacity="0.55" stroke="#3a4f96" stroke-width="1.0" stroke-opacity="0.55"/>
<circle cx="400.55" cy="1813" r="6.5" fill="#3a4f96" fill-opacity="0.55" stroke="#3a4f96" stroke-width="1.0" stroke-opacity="0.55"/>
<circle cx="459.1" cy="1807.7" r="6.5" fill="#3a4f96" fill-opacity="0.55" stroke="#3a4f96" stroke-width="1.0" stroke-opacity="0.55"/>
<circle cx="342" cy="1801.4" r="6.5" fill="#3a4f96" fill-opacity="0.55" stroke="#3a4f96" stroke-width="1.0" stroke-opacity="0.55"/>
<circle cx="400.55" cy="1760.3" r="6.5" fill="#3a4f96" fill-opacity="0.55" stroke="#3a4f96" stroke-width="1.0" stroke-opacity="0.55"/>
<circle cx="459.1" cy="1752.2" r="6.5" fill="#3a4f96" fill-opacity="0.55" stroke="#3a4f96" stroke-width="1.0" stroke-opacity="0.55"/>
<circle cx="342" cy="1804.1" r="6.5" fill="#3a4f96" fill-opacity="0.55" stroke="#3a4f96" stroke-width="1.0" stroke-opacity="0.55"/>
<circle cx="400.55" cy="1767.4" r="6.5" fill="#3a4f96" fill-opacity="0.55" stroke="#3a4f96" stroke-width="1.0" stroke-opacity="0.55"/>
<circle cx="459.1" cy="1761.1" r="6.5" fill="#3a4f96" fill-opacity="0.55" stroke="#3a4f96" stroke-width="1.0" stroke-opacity="0.55"/>
<circle cx="342" cy="1807.7" r="6.5" fill="#3a4f96" fill-opacity="0.55" stroke="#3a4f96" stroke-width="1.0" stroke-opacity="0.55"/>
<circle cx="400.55" cy="1774.6" r="6.5" fill="#3a4f96" fill-opacity="0.55" stroke="#3a4f96" stroke-width="1.0" stroke-opacity="0.55"/>
<circle cx="459.1" cy="1758.5" r="6.5" fill="#3a4f96" fill-opacity="0.55" stroke="#3a4f96" stroke-width="1.0" stroke-opacity="0.55"/>
<circle cx="342" cy="1831.8" r="6.5" fill="#3a4f96" fill-opacity="0.55" stroke="#3a4f96" stroke-width="1.0" stroke-opacity="0.55"/>
<circle cx="400.55" cy="1815.7" r="6.5" fill="#3a4f96" fill-opacity="0.55" stroke="#3a4f96" stroke-width="1.0" stroke-opacity="0.55"/>
<circle cx="459.1" cy="1786.2" r="6.5" fill="#3a4f96" fill-opacity="0.55" stroke="#3a4f96" stroke-width="1.0" stroke-opacity="0.55"/>
<circle cx="342" cy="1847.9" r="6.5" fill="#3a4f96" fill-opacity="0.55" stroke="#3a4f96" stroke-width="1.0" stroke-opacity="0.55"/>
<circle cx="400.55" cy="1788.9" r="6.5" fill="#3a4f96" fill-opacity="0.55" stroke="#3a4f96" stroke-width="1.0" stroke-opacity="0.55"/>
<circle cx="459.1" cy="1796.9" r="6.5" fill="#3a4f96" fill-opacity="0.55" stroke="#3a4f96" stroke-width="1.0" stroke-opacity="0.55"/>
<circle cx="342" cy="1849.7" r="6.5" fill="#3a4f96" fill-opacity="0.55" stroke="#3a4f96" stroke-width="1.0" stroke-opacity="0.55"/>
<circle cx="400.55" cy="1791.6" r="6.5" fill="#3a4f96" fill-opacity="0.55" stroke="#3a4f96" stroke-width="1.0" stroke-opacity="0.55"/>
<circle cx="459.1" cy="1811.2" r="6.5" fill="#3a4f96" fill-opacity="0.55" stroke="#3a4f96" stroke-width="1.0" stroke-opacity="0.55"/>
<circle cx="342" cy="1856.9" r="6.5" fill="#3a4f96" fill-opacity="0.55" stroke="#3a4f96" stroke-width="1.0" stroke-opacity="0.55"/>
<circle cx="400.55" cy="1825.5" r="6.5" fill="#3a4f96" fill-opacity="0.55" stroke="#3a4f96" stroke-width="1.0" stroke-opacity="0.55"/>
<circle cx="459.1" cy="1815.7" r="6.5" fill="#3a4f96" fill-opacity="0.55" stroke="#3a4f96" stroke-width="1.0" stroke-opacity="0.55"/>
<circle cx="342" cy="1864.9" r="6.5" fill="#3a4f96" fill-opacity="0.55" stroke="#3a4f96" stroke-width="1.0" stroke-opacity="0.55"/>
<circle cx="400.55" cy="1840.8" r="6.5" fill="#3a4f96" fill-opacity="0.55" stroke="#3a4f96" stroke-width="1.0" stroke-opacity="0.55"/>
<circle cx="459.1" cy="1820.2" r="6.5" fill="#3a4f96" fill-opacity="0.55" stroke="#3a4f96" stroke-width="1.0" stroke-opacity="0.55"/>
<polyline points="342,1780.8 400.55,1777.2 459.1,1768.3" fill="none" stroke="#d9d9d9" stroke-width="1.45" stroke-linejoin="round"/>
<polyline points="342,1783.5 400.55,1785.3 459.1,1774.6" fill="none" stroke="#d9d9d9" stroke-width="1.45" stroke-linejoin="round"/>
<polyline points="342,1788 400.55,1809.4 459.1,1798.7" fill="none" stroke="#d9d9d9" stroke-width="1.45" stroke-linejoin="round"/>
<polyline points="342,1791.6 400.55,1813 459.1,1807.7" fill="none" stroke="#d9d9d9" stroke-width="1.45" stroke-linejoin="round"/>
<polyline points="342,1801.4 400.55,1760.3 459.1,1752.2" fill="none" stroke="#d9d9d9" stroke-width="1.45" stroke-linejoin="round"/>
<polyline points="342,1804.1 400.55,1767.4 459.1,1761.1" fill="none" stroke="#d9d9d9" stroke-width="1.45" stroke-linejoin="round"/>
<polyline points="342,1807.7 400.55,1774.6 459.1,1758.5" fill="none" stroke="#d9d9d9" stroke-width="1.45" stroke-linejoin="round"/>
<polyline points="342,1831.8 400.55,1815.7 459.1,1786.2" fill="none" stroke="#d9d9d9" stroke-width="1.45" stroke-linejoin="round"/>
<polyline points="342,1847.9 400.55,1788.9 459.1,1796.9" fill="none" stroke="#d9d9d9" stroke-width="1.45" stroke-linejoin="round"/>
<polyline points="342,1849.7 400.55,1791.6 459.1,1811.2" fill="none" stroke="#d9d9d9" stroke-width="1.45" stroke-linejoin="round"/>
<polyline points="342,1856.9 400.55,1825.5 459.1,1815.7" fill="none" stroke="#d9d9d9" stroke-width="1.45" stroke-linejoin="round"/>
<polyline points="342,1864.9 400.55,1840.8 459.1,1820.2" fill="none" stroke="#d9d9d9" stroke-width="1.45" stroke-linejoin="round"/>
<rect x="326.5" y="1820.85" width="31" height="3.3" fill="#000"/>
<rect x="385.05" y="1798.35" width="31" height="3.3" fill="#000"/>
<rect x="443.6" y="1789.35" width="31" height="3.3" fill="#000"/>
<text x="400.55" y="1645.9" font-size="17.3" text-anchor="middle">ns</text>
<text x="459.1" y="1645.9" font-size="17.3" text-anchor="middle">*</text>
<text x="400.55" y="1666.9" font-size="17.3" text-anchor="middle">1.95x</text>
<text x="459.1" y="1666.9" font-size="17.3" text-anchor="middle">2.73x</text>
<text x="342" y="1690.7" font-size="17.3" text-anchor="middle">0.031</text>
<text x="400.55" y="1690.7" font-size="17.3" text-anchor="middle">0.06</text>
<text x="459.1" y="1690.7" font-size="17.3" text-anchor="middle">0.08</text>
<line x1="513.97" y1="1999.4" x2="701.33" y2="1999.4" stroke="#000" stroke-width="1.7"/>
<line x1="549.1" y1="1999.4" x2="549.1" y2="2008.9" stroke="#000" stroke-width="1.7"/>
<text x="549.1" y="2032.4" font-size="20.5" text-anchor="middle">T1</text>
<line x1="607.65" y1="1999.4" x2="607.65" y2="2008.9" stroke="#000" stroke-width="1.7"/>
<text x="607.65" y="2032.4" font-size="20.5" text-anchor="middle">T2</text>
<line x1="666.2" y1="1999.4" x2="666.2" y2="2008.9" stroke="#000" stroke-width="1.7"/>
<text x="666.2" y="2032.4" font-size="20.5" text-anchor="middle">T3</text>
<text x="607.65" y="1604.9" font-size="21" text-anchor="middle">XBB.1.5</text>
<circle cx="549.1" cy="1863.7" r="6.5" fill="#b68925" fill-opacity="0.55" stroke="#b68925" stroke-width="1.0" stroke-opacity="0.55"/>
<circle cx="607.65" cy="1874.8" r="6.5" fill="#b68925" fill-opacity="0.55" stroke="#b68925" stroke-width="1.0" stroke-opacity="0.55"/>
<circle cx="666.2" cy="1850.7" r="6.5" fill="#b68925" fill-opacity="0.55" stroke="#b68925" stroke-width="1.0" stroke-opacity="0.55"/>
<circle cx="549.1" cy="1878" r="6.5" fill="#b68925" fill-opacity="0.55" stroke="#b68925" stroke-width="1.0" stroke-opacity="0.55"/>
<circle cx="666.2" cy="1812.2" r="6.5" fill="#b68925" fill-opacity="0.55" stroke="#b68925" stroke-width="1.0" stroke-opacity="0.55"/>
<circle cx="549.1" cy="1882.9" r="6.5" fill="#b68925" fill-opacity="0.55" stroke="#b68925" stroke-width="1.0" stroke-opacity="0.55"/>
<circle cx="607.65" cy="1871.2" r="6.5" fill="#b68925" fill-opacity="0.55" stroke="#b68925" stroke-width="1.0" stroke-opacity="0.55"/>
<circle cx="666.2" cy="1827.4" r="6.5" fill="#b68925" fill-opacity="0.55" stroke="#b68925" stroke-width="1.0" stroke-opacity="0.55"/>
<circle cx="549.1" cy="1887.3" r="6.5" fill="#b68925" fill-opacity="0.55" stroke="#b68925" stroke-width="1.0" stroke-opacity="0.55"/>
<circle cx="607.65" cy="1875.7" r="6.5" fill="#b68925" fill-opacity="0.55" stroke="#b68925" stroke-width="1.0" stroke-opacity="0.55"/>
<circle cx="666.2" cy="1853.3" r="6.5" fill="#b68925" fill-opacity="0.55" stroke="#b68925" stroke-width="1.0" stroke-opacity="0.55"/>
<circle cx="549.1" cy="1890.9" r="6.5" fill="#b68925" fill-opacity="0.55" stroke="#b68925" stroke-width="1.0" stroke-opacity="0.55"/>
<circle cx="607.65" cy="1877.5" r="6.5" fill="#b68925" fill-opacity="0.55" stroke="#b68925" stroke-width="1.0" stroke-opacity="0.55"/>
<circle cx="666.2" cy="1831" r="6.5" fill="#b68925" fill-opacity="0.55" stroke="#b68925" stroke-width="1.0" stroke-opacity="0.55"/>
<circle cx="549.1" cy="1894.5" r="6.5" fill="#b68925" fill-opacity="0.55" stroke="#b68925" stroke-width="1.0" stroke-opacity="0.55"/>
<circle cx="607.65" cy="1887.3" r="6.5" fill="#b68925" fill-opacity="0.55" stroke="#b68925" stroke-width="1.0" stroke-opacity="0.55"/>
<circle cx="666.2" cy="1855.1" r="6.5" fill="#b68925" fill-opacity="0.55" stroke="#b68925" stroke-width="1.0" stroke-opacity="0.55"/>
<circle cx="549.1" cy="1903.4" r="6.5" fill="#b68925" fill-opacity="0.55" stroke="#b68925" stroke-width="1.0" stroke-opacity="0.55"/>
<circle cx="607.65" cy="1916" r="6.5" fill="#b68925" fill-opacity="0.55" stroke="#b68925" stroke-width="1.0" stroke-opacity="0.55"/>
<circle cx="666.2" cy="1858.7" r="6.5" fill="#b68925" fill-opacity="0.55" stroke="#b68925" stroke-width="1.0" stroke-opacity="0.55"/>
<circle cx="549.1" cy="1905.2" r="6.5" fill="#b68925" fill-opacity="0.55" stroke="#b68925" stroke-width="1.0" stroke-opacity="0.55"/>
<circle cx="607.65" cy="1890" r="6.5" fill="#b68925" fill-opacity="0.55" stroke="#b68925" stroke-width="1.0" stroke-opacity="0.55"/>
<circle cx="666.2" cy="1833.7" r="6.5" fill="#b68925" fill-opacity="0.55" stroke="#b68925" stroke-width="1.0" stroke-opacity="0.55"/>
<circle cx="549.1" cy="1907" r="6.5" fill="#b68925" fill-opacity="0.55" stroke="#b68925" stroke-width="1.0" stroke-opacity="0.55"/>
<circle cx="607.65" cy="1891.8" r="6.5" fill="#b68925" fill-opacity="0.55" stroke="#b68925" stroke-width="1.0" stroke-opacity="0.55"/>
<circle cx="666.2" cy="1835.5" r="6.5" fill="#b68925" fill-opacity="0.55" stroke="#b68925" stroke-width="1.0" stroke-opacity="0.55"/>
<circle cx="549.1" cy="1922.2" r="6.5" fill="#b68925" fill-opacity="0.55" stroke="#b68925" stroke-width="1.0" stroke-opacity="0.55"/>
<circle cx="607.65" cy="1921.3" r="6.5" fill="#b68925" fill-opacity="0.55" stroke="#b68925" stroke-width="1.0" stroke-opacity="0.55"/>
<circle cx="666.2" cy="1878.4" r="6.5" fill="#b68925" fill-opacity="0.55" stroke="#b68925" stroke-width="1.0" stroke-opacity="0.55"/>
<circle cx="549.1" cy="1924" r="6.5" fill="#b68925" fill-opacity="0.55" stroke="#b68925" stroke-width="1.0" stroke-opacity="0.55"/>
<circle cx="607.65" cy="1923.1" r="6.5" fill="#b68925" fill-opacity="0.55" stroke="#b68925" stroke-width="1.0" stroke-opacity="0.55"/>
<circle cx="666.2" cy="1831.9" r="6.5" fill="#b68925" fill-opacity="0.55" stroke="#b68925" stroke-width="1.0" stroke-opacity="0.55"/>
<circle cx="549.1" cy="1927.6" r="6.5" fill="#b68925" fill-opacity="0.55" stroke="#b68925" stroke-width="1.0" stroke-opacity="0.55"/>
<circle cx="607.65" cy="1919.5" r="6.5" fill="#b68925" fill-opacity="0.55" stroke="#b68925" stroke-width="1.0" stroke-opacity="0.55"/>
<circle cx="666.2" cy="1819.7" r="6.5" fill="#b68925" fill-opacity="0.55" stroke="#b68925" stroke-width="1.0" stroke-opacity="0.55"/>
<polyline points="549.1,1863.7 607.65,1874.8 666.2,1850.7" fill="none" stroke="#d9d9d9" stroke-width="1.45" stroke-linejoin="round"/>
<polyline points="549.1,1878 666.2,1812.2" fill="none" stroke="#d9d9d9" stroke-width="1.45" stroke-linejoin="round"/>
<polyline points="549.1,1882.9 607.65,1871.2 666.2,1827.4" fill="none" stroke="#d9d9d9" stroke-width="1.45" stroke-linejoin="round"/>
<polyline points="549.1,1887.3 607.65,1875.7 666.2,1853.3" fill="none" stroke="#d9d9d9" stroke-width="1.45" stroke-linejoin="round"/>
<polyline points="549.1,1890.9 607.65,1877.5 666.2,1831" fill="none" stroke="#d9d9d9" stroke-width="1.45" stroke-linejoin="round"/>
<polyline points="549.1,1894.5 607.65,1887.3 666.2,1855.1" fill="none" stroke="#d9d9d9" stroke-width="1.45" stroke-linejoin="round"/>
<polyline points="549.1,1903.4 607.65,1916 666.2,1858.7" fill="none" stroke="#d9d9d9" stroke-width="1.45" stroke-linejoin="round"/>
<polyline points="549.1,1905.2 607.65,1890 666.2,1833.7" fill="none" stroke="#d9d9d9" stroke-width="1.45" stroke-linejoin="round"/>
<polyline points="549.1,1907 607.65,1891.8 666.2,1835.5" fill="none" stroke="#d9d9d9" stroke-width="1.45" stroke-linejoin="round"/>
<polyline points="549.1,1922.2 607.65,1921.3 666.2,1878.4" fill="none" stroke="#d9d9d9" stroke-width="1.45" stroke-linejoin="round"/>
<polyline points="549.1,1924 607.65,1923.1 666.2,1831.9" fill="none" stroke="#d9d9d9" stroke-width="1.45" stroke-linejoin="round"/>
<polyline points="549.1,1927.6 607.65,1919.5 666.2,1819.7" fill="none" stroke="#d9d9d9" stroke-width="1.45" stroke-linejoin="round"/>
<rect x="533.6" y="1902.15" width="31" height="3.3" fill="#000"/>
<rect x="592.15" y="1895.75" width="31" height="3.3" fill="#000"/>
<rect x="650.7" y="1842.25" width="31" height="3.3" fill="#000"/>
<text x="607.65" y="1645.9" font-size="17.3" text-anchor="middle">ns</text>
<text x="666.2" y="1645.9" font-size="17.3" text-anchor="middle">***</text>
<text x="607.65" y="1666.9" font-size="17.3" text-anchor="middle">1.17x</text>
<text x="666.2" y="1666.9" font-size="17.3" text-anchor="middle">7.15x</text>
<text x="549.1" y="1690.7" font-size="17.3" text-anchor="middle">0.002</text>
<text x="607.65" y="1690.7" font-size="17.3" text-anchor="middle">0.002</text>
<text x="666.2" y="1690.7" font-size="17.3" text-anchor="middle">0.012</text>
<line x1="721.07" y1="1999.4" x2="908.43" y2="1999.4" stroke="#000" stroke-width="1.7"/>
<line x1="756.2" y1="1999.4" x2="756.2" y2="2008.9" stroke="#000" stroke-width="1.7"/>
<text x="756.2" y="2032.4" font-size="20.5" text-anchor="middle">T1</text>
<line x1="814.75" y1="1999.4" x2="814.75" y2="2008.9" stroke="#000" stroke-width="1.7"/>
<text x="814.75" y="2032.4" font-size="20.5" text-anchor="middle">T2</text>
<line x1="873.3" y1="1999.4" x2="873.3" y2="2008.9" stroke="#000" stroke-width="1.7"/>
<text x="873.3" y="2032.4" font-size="20.5" text-anchor="middle">T3</text>
<text x="814.75" y="1604.9" font-size="21" text-anchor="middle">JN.1</text>
<circle cx="756.2" cy="1802.3" r="6.5" fill="#7a2ebc" fill-opacity="0.55" stroke="#7a2ebc" stroke-width="1.0" stroke-opacity="0.55"/>
<circle cx="814.75" cy="1872.4" r="6.5" fill="#7a2ebc" fill-opacity="0.55" stroke="#7a2ebc" stroke-width="1.0" stroke-opacity="0.55"/>
<circle cx="873.3" cy="1836.6" r="6.5" fill="#7a2ebc" fill-opacity="0.55" stroke="#7a2ebc" stroke-width="1.0" stroke-opacity="0.55"/>
<circle cx="756.2" cy="1842.5" r="6.5" fill="#7a2ebc" fill-opacity="0.55" stroke="#7a2ebc" stroke-width="1.0" stroke-opacity="0.55"/>
<circle cx="814.75" cy="1877.7" r="6.5" fill="#7a2ebc" fill-opacity="0.55" stroke="#7a2ebc" stroke-width="1.0" stroke-opacity="0.55"/>
<circle cx="873.3" cy="1854.5" r="6.5" fill="#7a2ebc" fill-opacity="0.55" stroke="#7a2ebc" stroke-width="1.0" stroke-opacity="0.55"/>
<circle cx="756.2" cy="1854.1" r="6.5" fill="#7a2ebc" fill-opacity="0.55" stroke="#7a2ebc" stroke-width="1.0" stroke-opacity="0.55"/>
<circle cx="814.75" cy="1848.2" r="6.5" fill="#7a2ebc" fill-opacity="0.55" stroke="#7a2ebc" stroke-width="1.0" stroke-opacity="0.55"/>
<circle cx="873.3" cy="1787.9" r="6.5" fill="#7a2ebc" fill-opacity="0.55" stroke="#7a2ebc" stroke-width="1.0" stroke-opacity="0.55"/>
<circle cx="756.2" cy="1859" r="6.5" fill="#7a2ebc" fill-opacity="0.55" stroke="#7a2ebc" stroke-width="1.0" stroke-opacity="0.55"/>
<circle cx="814.75" cy="1856.3" r="6.5" fill="#7a2ebc" fill-opacity="0.55" stroke="#7a2ebc" stroke-width="1.0" stroke-opacity="0.55"/>
<circle cx="873.3" cy="1802.6" r="6.5" fill="#7a2ebc" fill-opacity="0.55" stroke="#7a2ebc" stroke-width="1.0" stroke-opacity="0.55"/>
<circle cx="756.2" cy="1861.6" r="6.5" fill="#7a2ebc" fill-opacity="0.55" stroke="#7a2ebc" stroke-width="1.0" stroke-opacity="0.55"/>
<circle cx="814.75" cy="1865.2" r="6.5" fill="#7a2ebc" fill-opacity="0.55" stroke="#7a2ebc" stroke-width="1.0" stroke-opacity="0.55"/>
<circle cx="873.3" cy="1818.7" r="6.5" fill="#7a2ebc" fill-opacity="0.55" stroke="#7a2ebc" stroke-width="1.0" stroke-opacity="0.55"/>
<circle cx="756.2" cy="1872.4" r="6.5" fill="#7a2ebc" fill-opacity="0.55" stroke="#7a2ebc" stroke-width="1.0" stroke-opacity="0.55"/>
<circle cx="814.75" cy="1845.5" r="6.5" fill="#7a2ebc" fill-opacity="0.55" stroke="#7a2ebc" stroke-width="1.0" stroke-opacity="0.55"/>
<circle cx="873.3" cy="1759.3" r="6.5" fill="#7a2ebc" fill-opacity="0.55" stroke="#7a2ebc" stroke-width="1.0" stroke-opacity="0.55"/>
<circle cx="756.2" cy="1874.2" r="6.5" fill="#7a2ebc" fill-opacity="0.55" stroke="#7a2ebc" stroke-width="1.0" stroke-opacity="0.55"/>
<circle cx="814.75" cy="1893.8" r="6.5" fill="#7a2ebc" fill-opacity="0.55" stroke="#7a2ebc" stroke-width="1.0" stroke-opacity="0.55"/>
<circle cx="873.3" cy="1804.4" r="6.5" fill="#7a2ebc" fill-opacity="0.55" stroke="#7a2ebc" stroke-width="1.0" stroke-opacity="0.55"/>
<circle cx="756.2" cy="1884.9" r="6.5" fill="#7a2ebc" fill-opacity="0.55" stroke="#7a2ebc" stroke-width="1.0" stroke-opacity="0.55"/>
<circle cx="814.75" cy="1897.4" r="6.5" fill="#7a2ebc" fill-opacity="0.55" stroke="#7a2ebc" stroke-width="1.0" stroke-opacity="0.55"/>
<circle cx="873.3" cy="1823.2" r="6.5" fill="#7a2ebc" fill-opacity="0.55" stroke="#7a2ebc" stroke-width="1.0" stroke-opacity="0.55"/>
<circle cx="756.2" cy="1900.1" r="6.5" fill="#7a2ebc" fill-opacity="0.55" stroke="#7a2ebc" stroke-width="1.0" stroke-opacity="0.55"/>
<circle cx="814.75" cy="1917.1" r="6.5" fill="#7a2ebc" fill-opacity="0.55" stroke="#7a2ebc" stroke-width="1.0" stroke-opacity="0.55"/>
<circle cx="873.3" cy="1843.8" r="6.5" fill="#7a2ebc" fill-opacity="0.55" stroke="#7a2ebc" stroke-width="1.0" stroke-opacity="0.55"/>
<circle cx="756.2" cy="1908.2" r="6.5" fill="#7a2ebc" fill-opacity="0.55" stroke="#7a2ebc" stroke-width="1.0" stroke-opacity="0.55"/>
<circle cx="814.75" cy="1902.8" r="6.5" fill="#7a2ebc" fill-opacity="0.55" stroke="#7a2ebc" stroke-width="1.0" stroke-opacity="0.55"/>
<circle cx="873.3" cy="1847.3" r="6.5" fill="#7a2ebc" fill-opacity="0.55" stroke="#7a2ebc" stroke-width="1.0" stroke-opacity="0.55"/>
<circle cx="756.2" cy="1913.5" r="6.5" fill="#7a2ebc" fill-opacity="0.55" stroke="#7a2ebc" stroke-width="1.0" stroke-opacity="0.55"/>
<circle cx="814.75" cy="1909.9" r="6.5" fill="#7a2ebc" fill-opacity="0.55" stroke="#7a2ebc" stroke-width="1.0" stroke-opacity="0.55"/>
<circle cx="873.3" cy="1857.2" r="6.5" fill="#7a2ebc" fill-opacity="0.55" stroke="#7a2ebc" stroke-width="1.0" stroke-opacity="0.55"/>
<circle cx="756.2" cy="1916.2" r="6.5" fill="#7a2ebc" fill-opacity="0.55" stroke="#7a2ebc" stroke-width="1.0" stroke-opacity="0.55"/>
<circle cx="814.75" cy="1918.9" r="6.5" fill="#7a2ebc" fill-opacity="0.55" stroke="#7a2ebc" stroke-width="1.0" stroke-opacity="0.55"/>
<circle cx="873.3" cy="1911.4" r="6.5" fill="#7a2ebc" fill-opacity="0.55" stroke="#7a2ebc" stroke-width="1.0" stroke-opacity="0.55"/>
<polyline points="756.2,1802.3 814.75,1872.4 873.3,1836.6" fill="none" stroke="#d9d9d9" stroke-width="1.45" stroke-linejoin="round"/>
<polyline points="756.2,1842.5 814.75,1877.7 873.3,1854.5" fill="none" stroke="#d9d9d9" stroke-width="1.45" stroke-linejoin="round"/>
<polyline points="756.2,1854.1 814.75,1848.2 873.3,1787.9" fill="none" stroke="#d9d9d9" stroke-width="1.45" stroke-linejoin="round"/>
<polyline points="756.2,1859 814.75,1856.3 873.3,1802.6" fill="none" stroke="#d9d9d9" stroke-width="1.45" stroke-linejoin="round"/>
<polyline points="756.2,1861.6 814.75,1865.2 873.3,1818.7" fill="none" stroke="#d9d9d9" stroke-width="1.45" stroke-linejoin="round"/>
<polyline points="756.2,1872.4 814.75,1845.5 873.3,1759.3" fill="none" stroke="#d9d9d9" stroke-width="1.45" stroke-linejoin="round"/>
<polyline points="756.2,1874.2 814.75,1893.8 873.3,1804.4" fill="none" stroke="#d9d9d9" stroke-width="1.45" stroke-linejoin="round"/>
<polyline points="756.2,1884.9 814.75,1897.4 873.3,1823.2" fill="none" stroke="#d9d9d9" stroke-width="1.45" stroke-linejoin="round"/>
<polyline points="756.2,1900.1 814.75,1917.1 873.3,1843.8" fill="none" stroke="#d9d9d9" stroke-width="1.45" stroke-linejoin="round"/>
<polyline points="756.2,1908.2 814.75,1902.8 873.3,1847.3" fill="none" stroke="#d9d9d9" stroke-width="1.45" stroke-linejoin="round"/>
<polyline points="756.2,1913.5 814.75,1909.9 873.3,1857.2" fill="none" stroke="#d9d9d9" stroke-width="1.45" stroke-linejoin="round"/>
<polyline points="756.2,1916.2 814.75,1918.9 873.3,1911.4" fill="none" stroke="#d9d9d9" stroke-width="1.45" stroke-linejoin="round"/>
<rect x="740.7" y="1877.55" width="31" height="3.3" fill="#000"/>
<rect x="799.25" y="1882.05" width="31" height="3.3" fill="#000"/>
<rect x="857.8" y="1831.35" width="31" height="3.3" fill="#000"/>
<text x="814.75" y="1645.9" font-size="17.3" text-anchor="middle">ns</text>
<text x="873.3" y="1645.9" font-size="17.3" text-anchor="middle">***</text>
<text x="814.75" y="1666.9" font-size="17.3" text-anchor="middle">0.52x</text>
<text x="873.3" y="1666.9" font-size="17.3" text-anchor="middle">4.44x</text>
<text x="756.2" y="1690.7" font-size="17.3" text-anchor="middle">0.006</text>
<text x="814.75" y="1690.7" font-size="17.3" text-anchor="middle">0.004</text>
<text x="873.3" y="1690.7" font-size="17.3" text-anchor="middle">0.031</text>
<line x1="928.17" y1="1999.4" x2="1115.53" y2="1999.4" stroke="#000" stroke-width="1.7"/>
<line x1="963.3" y1="1999.4" x2="963.3" y2="2008.9" stroke="#000" stroke-width="1.7"/>
<text x="963.3" y="2032.4" font-size="20.5" text-anchor="middle">T1</text>
<line x1="1021.85" y1="1999.4" x2="1021.85" y2="2008.9" stroke="#000" stroke-width="1.7"/>
<text x="1021.85" y="2032.4" font-size="20.5" text-anchor="middle">T2</text>
<line x1="1080.4" y1="1999.4" x2="1080.4" y2="2008.9" stroke="#000" stroke-width="1.7"/>
<text x="1080.4" y="2032.4" font-size="20.5" text-anchor="middle">T3</text>
<text x="1021.85" y="1604.9" font-size="21" text-anchor="middle">KP.3</text>
<circle cx="963.3" cy="1826.9" r="6.5" fill="#582870" fill-opacity="0.55" stroke="#582870" stroke-width="1.0" stroke-opacity="0.55"/>
<circle cx="1021.85" cy="1812.8" r="6.5" fill="#582870" fill-opacity="0.55" stroke="#582870" stroke-width="1.0" stroke-opacity="0.55"/>
<circle cx="1080.4" cy="1790.1" r="6.5" fill="#582870" fill-opacity="0.55" stroke="#582870" stroke-width="1.0" stroke-opacity="0.55"/>
<circle cx="963.3" cy="1834.4" r="6.5" fill="#582870" fill-opacity="0.55" stroke="#582870" stroke-width="1.0" stroke-opacity="0.55"/>
<circle cx="1021.85" cy="1831.4" r="6.5" fill="#582870" fill-opacity="0.55" stroke="#582870" stroke-width="1.0" stroke-opacity="0.55"/>
<circle cx="1080.4" cy="1830" r="6.5" fill="#582870" fill-opacity="0.55" stroke="#582870" stroke-width="1.0" stroke-opacity="0.55"/>
<circle cx="963.3" cy="1837" r="6.5" fill="#582870" fill-opacity="0.55" stroke="#582870" stroke-width="1.0" stroke-opacity="0.55"/>
<circle cx="1021.85" cy="1855.6" r="6.5" fill="#582870" fill-opacity="0.55" stroke="#582870" stroke-width="1.0" stroke-opacity="0.55"/>
<circle cx="1080.4" cy="1811.4" r="6.5" fill="#582870" fill-opacity="0.55" stroke="#582870" stroke-width="1.0" stroke-opacity="0.55"/>
<circle cx="963.3" cy="1838.5" r="6.5" fill="#582870" fill-opacity="0.55" stroke="#582870" stroke-width="1.0" stroke-opacity="0.55"/>
<circle cx="1080.4" cy="1794.5" r="6.5" fill="#582870" fill-opacity="0.55" stroke="#582870" stroke-width="1.0" stroke-opacity="0.55"/>
<circle cx="963.3" cy="1839.7" r="6.5" fill="#582870" fill-opacity="0.55" stroke="#582870" stroke-width="1.0" stroke-opacity="0.55"/>
<circle cx="1021.85" cy="1859.2" r="6.5" fill="#582870" fill-opacity="0.55" stroke="#582870" stroke-width="1.0" stroke-opacity="0.55"/>
<circle cx="1080.4" cy="1812.5" r="6.5" fill="#582870" fill-opacity="0.55" stroke="#582870" stroke-width="1.0" stroke-opacity="0.55"/>
<circle cx="963.3" cy="1842.4" r="6.5" fill="#582870" fill-opacity="0.55" stroke="#582870" stroke-width="1.0" stroke-opacity="0.55"/>
<circle cx="1021.85" cy="1861.8" r="6.5" fill="#582870" fill-opacity="0.55" stroke="#582870" stroke-width="1.0" stroke-opacity="0.55"/>
<circle cx="1080.4" cy="1814" r="6.5" fill="#582870" fill-opacity="0.55" stroke="#582870" stroke-width="1.0" stroke-opacity="0.55"/>
<circle cx="963.3" cy="1844" r="6.5" fill="#582870" fill-opacity="0.55" stroke="#582870" stroke-width="1.0" stroke-opacity="0.55"/>
<circle cx="1021.85" cy="1864.5" r="6.5" fill="#582870" fill-opacity="0.55" stroke="#582870" stroke-width="1.0" stroke-opacity="0.55"/>
<circle cx="1080.4" cy="1816.7" r="6.5" fill="#582870" fill-opacity="0.55" stroke="#582870" stroke-width="1.0" stroke-opacity="0.55"/>
<circle cx="963.3" cy="1845" r="6.5" fill="#582870" fill-opacity="0.55" stroke="#582870" stroke-width="1.0" stroke-opacity="0.55"/>
<circle cx="1021.85" cy="1866.3" r="6.5" fill="#582870" fill-opacity="0.55" stroke="#582870" stroke-width="1.0" stroke-opacity="0.55"/>
<circle cx="1080.4" cy="1821.1" r="6.5" fill="#582870" fill-opacity="0.55" stroke="#582870" stroke-width="1.0" stroke-opacity="0.55"/>
<circle cx="963.3" cy="1847.7" r="6.5" fill="#582870" fill-opacity="0.55" stroke="#582870" stroke-width="1.0" stroke-opacity="0.55"/>
<circle cx="1021.85" cy="1868" r="6.5" fill="#582870" fill-opacity="0.55" stroke="#582870" stroke-width="1.0" stroke-opacity="0.55"/>
<circle cx="1080.4" cy="1827" r="6.5" fill="#582870" fill-opacity="0.55" stroke="#582870" stroke-width="1.0" stroke-opacity="0.55"/>
<circle cx="963.3" cy="1852.1" r="6.5" fill="#582870" fill-opacity="0.55" stroke="#582870" stroke-width="1.0" stroke-opacity="0.55"/>
<circle cx="1080.4" cy="1837.9" r="6.5" fill="#582870" fill-opacity="0.55" stroke="#582870" stroke-width="1.0" stroke-opacity="0.55"/>
<circle cx="963.3" cy="1864.5" r="6.5" fill="#582870" fill-opacity="0.55" stroke="#582870" stroke-width="1.0" stroke-opacity="0.55"/>
<circle cx="1021.85" cy="1870.7" r="6.5" fill="#582870" fill-opacity="0.55" stroke="#582870" stroke-width="1.0" stroke-opacity="0.55"/>
<circle cx="1080.4" cy="1848.6" r="6.5" fill="#582870" fill-opacity="0.55" stroke="#582870" stroke-width="1.0" stroke-opacity="0.55"/>
<circle cx="963.3" cy="1875.1" r="6.5" fill="#582870" fill-opacity="0.55" stroke="#582870" stroke-width="1.0" stroke-opacity="0.55"/>
<circle cx="1080.4" cy="1853" r="6.5" fill="#582870" fill-opacity="0.55" stroke="#582870" stroke-width="1.0" stroke-opacity="0.55"/>
<polyline points="963.3,1826.9 1021.85,1812.8 1080.4,1790.1" fill="none" stroke="#d9d9d9" stroke-width="1.45" stroke-linejoin="round"/>
<polyline points="963.3,1834.4 1021.85,1831.4 1080.4,1830" fill="none" stroke="#d9d9d9" stroke-width="1.45" stroke-linejoin="round"/>
<polyline points="963.3,1837 1021.85,1855.6 1080.4,1811.4" fill="none" stroke="#d9d9d9" stroke-width="1.45" stroke-linejoin="round"/>
<polyline points="963.3,1838.5 1080.4,1794.5" fill="none" stroke="#d9d9d9" stroke-width="1.45" stroke-linejoin="round"/>
<polyline points="963.3,1839.7 1021.85,1859.2 1080.4,1812.5" fill="none" stroke="#d9d9d9" stroke-width="1.45" stroke-linejoin="round"/>
<polyline points="963.3,1842.4 1021.85,1861.8 1080.4,1814" fill="none" stroke="#d9d9d9" stroke-width="1.45" stroke-linejoin="round"/>
<polyline points="963.3,1844 1021.85,1864.5 1080.4,1816.7" fill="none" stroke="#d9d9d9" stroke-width="1.45" stroke-linejoin="round"/>
<polyline points="963.3,1845 1021.85,1866.3 1080.4,1821.1" fill="none" stroke="#d9d9d9" stroke-width="1.45" stroke-linejoin="round"/>
<polyline points="963.3,1847.7 1021.85,1868 1080.4,1827" fill="none" stroke="#d9d9d9" stroke-width="1.45" stroke-linejoin="round"/>
<polyline points="963.3,1852.1 1080.4,1837.9" fill="none" stroke="#d9d9d9" stroke-width="1.45" stroke-linejoin="round"/>
<polyline points="963.3,1864.5 1021.85,1870.7 1080.4,1848.6" fill="none" stroke="#d9d9d9" stroke-width="1.45" stroke-linejoin="round"/>
<polyline points="963.3,1875.1 1080.4,1853" fill="none" stroke="#d9d9d9" stroke-width="1.45" stroke-linejoin="round"/>
<rect x="947.8" y="1849.05" width="31" height="3.3" fill="#000"/>
<rect x="1006.35" y="1854.85" width="31" height="3.3" fill="#000"/>
<rect x="1064.9" y="1823.35" width="31" height="3.3" fill="#000"/>
<text x="1021.85" y="1645.9" font-size="17.3" text-anchor="middle">ns</text>
<text x="1080.4" y="1645.9" font-size="17.3" text-anchor="middle">*</text>
<text x="1021.85" y="1666.9" font-size="17.3" text-anchor="middle">0.95x</text>
<text x="1080.4" y="1666.9" font-size="17.3" text-anchor="middle">2.6x</text>
<text x="963.3" y="1690.7" font-size="17.3" text-anchor="middle">0.009</text>
<text x="1021.85" y="1690.7" font-size="17.3" text-anchor="middle">0.009</text>
<text x="1080.4" y="1690.7" font-size="17.3" text-anchor="middle">0.025</text>
<text x="1.8" y="2093.6" font-size="27" font-weight="bold">e</text>
<text x="23.3" y="2288.4" font-size="21.25" text-anchor="middle" transform="rotate(-90 23.3 2288.4)">pVNT<tspan dy="4.2" font-size="14.5">50</tspan><tspan dy="-4.2"> Titer/ RBD IgG Titer</tspan></text>
<line x1="111.7" y1="2112.4" x2="111.7" y2="2465.15" stroke="#000" stroke-width="1.7"/>
<line x1="102.2" y1="2151.23" x2="111.7" y2="2151.23" stroke="#000" stroke-width="1.7"/>
<text x="93.4" y="2161.53" font-size="20.5" text-anchor="end">10<tspan dy="-10.8" font-size="14">−0.5</tspan></text>
<line x1="102.2" y1="2210.61" x2="111.7" y2="2210.61" stroke="#000" stroke-width="1.7"/>
<text x="93.4" y="2220.91" font-size="20.5" text-anchor="end">10<tspan dy="-10.8" font-size="14">−1</tspan></text>
<line x1="102.2" y1="2269.99" x2="111.7" y2="2269.99" stroke="#000" stroke-width="1.7"/>
<text x="93.4" y="2280.29" font-size="20.5" text-anchor="end">10<tspan dy="-10.8" font-size="14">−1.5</tspan></text>
<line x1="102.2" y1="2329.37" x2="111.7" y2="2329.37" stroke="#000" stroke-width="1.7"/>
<text x="93.4" y="2339.67" font-size="20.5" text-anchor="end">10<tspan dy="-10.8" font-size="14">−2</tspan></text>
<line x1="102.2" y1="2388.75" x2="111.7" y2="2388.75" stroke="#000" stroke-width="1.7"/>
<text x="93.4" y="2399.05" font-size="20.5" text-anchor="end">10<tspan dy="-10.8" font-size="14">−2.5</tspan></text>
<line x1="102.2" y1="2448.13" x2="111.7" y2="2448.13" stroke="#000" stroke-width="1.7"/>
<text x="93.4" y="2458.43" font-size="20.5" text-anchor="end">10<tspan dy="-10.8" font-size="14">−3</tspan></text>
<line x1="110.8" y1="2464.3" x2="296.45" y2="2464.3" stroke="#000" stroke-width="1.7"/>
<line x1="146.3" y1="2464.3" x2="146.3" y2="2473.8" stroke="#000" stroke-width="1.7"/>
<text x="146.3" y="2494.9" font-size="20.5" text-anchor="middle">T1</text>
<line x1="204.05" y1="2464.3" x2="204.05" y2="2473.8" stroke="#000" stroke-width="1.7"/>
<text x="204.05" y="2494.9" font-size="20.5" text-anchor="middle">T2</text>
<line x1="261.8" y1="2464.3" x2="261.8" y2="2473.8" stroke="#000" stroke-width="1.7"/>
<text x="261.8" y="2494.9" font-size="20.5" text-anchor="middle">T3</text>
<text x="204.05" y="2111.5" font-size="21" text-anchor="middle">WT</text>
<polyline points="146.3,2236.2 204.05,2217.1 261.8,2239.4" fill="none" stroke="#e8686a" stroke-width="2.4" stroke-linejoin="round"/>
<line x1="146.3" y1="2227.3" x2="146.3" y2="2245.1" stroke="#e8686a" stroke-width="2"/>
<line x1="144.5" y1="2227.3" x2="148.1" y2="2227.3" stroke="#e8686a" stroke-width="1.6"/>
<line x1="144.5" y1="2245.1" x2="148.1" y2="2245.1" stroke="#e8686a" stroke-width="1.6"/>
<line x1="204.05" y1="2207.2" x2="204.05" y2="2226.9" stroke="#e8686a" stroke-width="2"/>
<line x1="202.25" y1="2207.2" x2="205.85" y2="2207.2" stroke="#e8686a" stroke-width="1.6"/>
<line x1="202.25" y1="2226.9" x2="205.85" y2="2226.9" stroke="#e8686a" stroke-width="1.6"/>
<line x1="261.8" y1="2232.3" x2="261.8" y2="2246.6" stroke="#e8686a" stroke-width="2"/>
<line x1="260" y1="2232.3" x2="263.6" y2="2232.3" stroke="#e8686a" stroke-width="1.6"/>
<line x1="260" y1="2246.6" x2="263.6" y2="2246.6" stroke="#e8686a" stroke-width="1.6"/>
<circle cx="146.3" cy="2236.2" r="3.7" fill="#e8686a"/>
<circle cx="204.05" cy="2217.1" r="3.7" fill="#e8686a"/>
<circle cx="261.8" cy="2239.4" r="3.7" fill="#e8686a"/>
<polyline points="146.3,2241.6 204.05,2219.8 261.8,2222.5" fill="none" stroke="#6fd7c7" stroke-width="2.4" stroke-linejoin="round"/>
<line x1="146.3" y1="2227.8" x2="146.3" y2="2254.1" stroke="#6fd7c7" stroke-width="2"/>
<line x1="144.5" y1="2227.8" x2="148.1" y2="2227.8" stroke="#6fd7c7" stroke-width="1.6"/>
<line x1="144.5" y1="2254.1" x2="148.1" y2="2254.1" stroke="#6fd7c7" stroke-width="1.6"/>
<line x1="204.05" y1="2202.2" x2="204.05" y2="2237.3" stroke="#6fd7c7" stroke-width="2"/>
<line x1="202.25" y1="2202.2" x2="205.85" y2="2202.2" stroke="#6fd7c7" stroke-width="1.6"/>
<line x1="202.25" y1="2237.3" x2="205.85" y2="2237.3" stroke="#6fd7c7" stroke-width="1.6"/>
<line x1="261.8" y1="2204.6" x2="261.8" y2="2240.4" stroke="#6fd7c7" stroke-width="2"/>
<line x1="260" y1="2204.6" x2="263.6" y2="2204.6" stroke="#6fd7c7" stroke-width="1.6"/>
<line x1="260" y1="2240.4" x2="263.6" y2="2240.4" stroke="#6fd7c7" stroke-width="1.6"/>
<circle cx="146.3" cy="2241.6" r="3.7" fill="#6fd7c7"/>
<circle cx="204.05" cy="2219.8" r="3.7" fill="#6fd7c7"/>
<circle cx="261.8" cy="2222.5" r="3.7" fill="#6fd7c7"/>
<text x="146.3" y="2187.6" font-size="21" text-anchor="middle">ns</text>
<text x="204.05" y="2187.6" font-size="21" text-anchor="middle">ns</text>
<text x="261.8" y="2187.6" font-size="21" text-anchor="middle">ns</text>
<line x1="316.1" y1="2464.3" x2="500.9" y2="2464.3" stroke="#000" stroke-width="1.7"/>
<line x1="350.75" y1="2464.3" x2="350.75" y2="2473.8" stroke="#000" stroke-width="1.7"/>
<text x="350.75" y="2494.9" font-size="20.5" text-anchor="middle">T1</text>
<line x1="408.5" y1="2464.3" x2="408.5" y2="2473.8" stroke="#000" stroke-width="1.7"/>
<text x="408.5" y="2494.9" font-size="20.5" text-anchor="middle">T2</text>
<line x1="466.25" y1="2464.3" x2="466.25" y2="2473.8" stroke="#000" stroke-width="1.7"/>
<text x="466.25" y="2494.9" font-size="20.5" text-anchor="middle">T3</text>
<text x="408.5" y="2111.5" font-size="21" text-anchor="middle">BA.5</text>
<polyline points="350.75,2289.4 408.5,2251.5 466.25,2236.7" fill="none" stroke="#e8686a" stroke-width="2.4" stroke-linejoin="round"/>
<line x1="350.75" y1="2275.1" x2="350.75" y2="2304.7" stroke="#e8686a" stroke-width="2"/>
<line x1="348.95" y1="2275.1" x2="352.55" y2="2275.1" stroke="#e8686a" stroke-width="1.6"/>
<line x1="348.95" y1="2304.7" x2="352.55" y2="2304.7" stroke="#e8686a" stroke-width="1.6"/>
<line x1="408.5" y1="2237.6" x2="408.5" y2="2263" stroke="#e8686a" stroke-width="2"/>
<line x1="406.7" y1="2237.6" x2="410.3" y2="2237.6" stroke="#e8686a" stroke-width="1.6"/>
<line x1="406.7" y1="2263" x2="410.3" y2="2263" stroke="#e8686a" stroke-width="1.6"/>
<line x1="466.25" y1="2224.2" x2="466.25" y2="2248.3" stroke="#e8686a" stroke-width="2"/>
<line x1="464.45" y1="2224.2" x2="468.05" y2="2224.2" stroke="#e8686a" stroke-width="1.6"/>
<line x1="464.45" y1="2248.3" x2="468.05" y2="2248.3" stroke="#e8686a" stroke-width="1.6"/>
<circle cx="350.75" cy="2289.4" r="3.7" fill="#e8686a"/>
<circle cx="408.5" cy="2251.5" r="3.7" fill="#e8686a"/>
<circle cx="466.25" cy="2236.7" r="3.7" fill="#e8686a"/>
<polyline points="350.75,2290 408.5,2284.6 466.25,2297.1" fill="none" stroke="#6fd7c7" stroke-width="2.4" stroke-linejoin="round"/>
<line x1="350.75" y1="2272.5" x2="350.75" y2="2307" stroke="#6fd7c7" stroke-width="2"/>
<line x1="348.95" y1="2272.5" x2="352.55" y2="2272.5" stroke="#6fd7c7" stroke-width="1.6"/>
<line x1="348.95" y1="2307" x2="352.55" y2="2307" stroke="#6fd7c7" stroke-width="1.6"/>
<line x1="408.5" y1="2264.4" x2="408.5" y2="2304.7" stroke="#6fd7c7" stroke-width="2"/>
<line x1="406.7" y1="2264.4" x2="410.3" y2="2264.4" stroke="#6fd7c7" stroke-width="1.6"/>
<line x1="406.7" y1="2304.7" x2="410.3" y2="2304.7" stroke="#6fd7c7" stroke-width="1.6"/>
<line x1="466.25" y1="2281" x2="466.25" y2="2313.1" stroke="#6fd7c7" stroke-width="2"/>
<line x1="464.45" y1="2281" x2="468.05" y2="2281" stroke="#6fd7c7" stroke-width="1.6"/>
<line x1="464.45" y1="2313.1" x2="468.05" y2="2313.1" stroke="#6fd7c7" stroke-width="1.6"/>
<circle cx="350.75" cy="2290" r="3.7" fill="#6fd7c7"/>
<circle cx="408.5" cy="2284.6" r="3.7" fill="#6fd7c7"/>
<circle cx="466.25" cy="2297.1" r="3.7" fill="#6fd7c7"/>
<text x="346.75" y="2220.9" font-size="21" text-anchor="middle">ns</text>
<text x="404.5" y="2220.9" font-size="21" text-anchor="middle">ns</text>
<text x="466.25" y="2220.9" font-size="21" text-anchor="middle">*</text>
<line x1="520.55" y1="2464.3" x2="705.35" y2="2464.3" stroke="#000" stroke-width="1.7"/>
<line x1="555.2" y1="2464.3" x2="555.2" y2="2473.8" stroke="#000" stroke-width="1.7"/>
<text x="555.2" y="2494.9" font-size="20.5" text-anchor="middle">T1</text>
<line x1="612.95" y1="2464.3" x2="612.95" y2="2473.8" stroke="#000" stroke-width="1.7"/>
<text x="612.95" y="2494.9" font-size="20.5" text-anchor="middle">T2</text>
<line x1="670.7" y1="2464.3" x2="670.7" y2="2473.8" stroke="#000" stroke-width="1.7"/>
<text x="670.7" y="2494.9" font-size="20.5" text-anchor="middle">T3</text>
<text x="612.95" y="2111.5" font-size="21" text-anchor="middle">XBB.1.5</text>
<polyline points="555.2,2412.4 612.95,2396.9 670.7,2326" fill="none" stroke="#e8686a" stroke-width="2.4" stroke-linejoin="round"/>
<line x1="555.2" y1="2402.9" x2="555.2" y2="2421.5" stroke="#e8686a" stroke-width="2"/>
<line x1="553.4" y1="2402.9" x2="557" y2="2402.9" stroke="#e8686a" stroke-width="1.6"/>
<line x1="553.4" y1="2421.5" x2="557" y2="2421.5" stroke="#e8686a" stroke-width="1.6"/>
<line x1="612.95" y1="2391.6" x2="612.95" y2="2401.8" stroke="#e8686a" stroke-width="2"/>
<line x1="611.15" y1="2391.6" x2="614.75" y2="2391.6" stroke="#e8686a" stroke-width="1.6"/>
<line x1="611.15" y1="2401.8" x2="614.75" y2="2401.8" stroke="#e8686a" stroke-width="1.6"/>
<line x1="670.7" y1="2316.7" x2="670.7" y2="2335.1" stroke="#e8686a" stroke-width="2"/>
<line x1="668.9" y1="2316.7" x2="672.5" y2="2316.7" stroke="#e8686a" stroke-width="1.6"/>
<line x1="668.9" y1="2335.1" x2="672.5" y2="2335.1" stroke="#e8686a" stroke-width="1.6"/>
<circle cx="555.2" cy="2412.4" r="3.7" fill="#e8686a"/>
<circle cx="612.95" cy="2396.9" r="3.7" fill="#e8686a"/>
<circle cx="670.7" cy="2326" r="3.7" fill="#e8686a"/>
<polyline points="555.2,2420.4 612.95,2411.1 670.7,2382.2" fill="none" stroke="#6fd7c7" stroke-width="2.4" stroke-linejoin="round"/>
<line x1="555.2" y1="2410.9" x2="555.2" y2="2429.8" stroke="#6fd7c7" stroke-width="2"/>
<line x1="553.4" y1="2410.9" x2="557" y2="2410.9" stroke="#6fd7c7" stroke-width="1.6"/>
<line x1="553.4" y1="2429.8" x2="557" y2="2429.8" stroke="#6fd7c7" stroke-width="1.6"/>
<line x1="612.95" y1="2401.8" x2="612.95" y2="2420.5" stroke="#6fd7c7" stroke-width="2"/>
<line x1="611.15" y1="2401.8" x2="614.75" y2="2401.8" stroke="#6fd7c7" stroke-width="1.6"/>
<line x1="611.15" y1="2420.5" x2="614.75" y2="2420.5" stroke="#6fd7c7" stroke-width="1.6"/>
<line x1="670.7" y1="2373.2" x2="670.7" y2="2391.6" stroke="#6fd7c7" stroke-width="2"/>
<line x1="668.9" y1="2373.2" x2="672.5" y2="2373.2" stroke="#6fd7c7" stroke-width="1.6"/>
<line x1="668.9" y1="2391.6" x2="672.5" y2="2391.6" stroke="#6fd7c7" stroke-width="1.6"/>
<circle cx="555.2" cy="2420.4" r="3.7" fill="#6fd7c7"/>
<circle cx="612.95" cy="2411.1" r="3.7" fill="#6fd7c7"/>
<circle cx="670.7" cy="2382.2" r="3.7" fill="#6fd7c7"/>
<text x="555.2" y="2314.9" font-size="21" text-anchor="middle">ns</text>
<text x="612.95" y="2314.9" font-size="21" text-anchor="middle">ns</text>
<text x="670.7" y="2314.9" font-size="21" text-anchor="middle">***</text>
<line x1="725" y1="2464.3" x2="909.8" y2="2464.3" stroke="#000" stroke-width="1.7"/>
<line x1="759.65" y1="2464.3" x2="759.65" y2="2473.8" stroke="#000" stroke-width="1.7"/>
<text x="759.65" y="2494.9" font-size="20.5" text-anchor="middle">T1</text>
<line x1="817.4" y1="2464.3" x2="817.4" y2="2473.8" stroke="#000" stroke-width="1.7"/>
<text x="817.4" y="2494.9" font-size="20.5" text-anchor="middle">T2</text>
<line x1="875.15" y1="2464.3" x2="875.15" y2="2473.8" stroke="#000" stroke-width="1.7"/>
<text x="875.15" y="2494.9" font-size="20.5" text-anchor="middle">T3</text>
<text x="817.4" y="2111.5" font-size="21" text-anchor="middle">JN.1</text>
<polyline points="759.65,2372.5 817.4,2386.3 875.15,2307.2" fill="none" stroke="#e8686a" stroke-width="2.4" stroke-linejoin="round"/>
<line x1="759.65" y1="2355.9" x2="759.65" y2="2389.2" stroke="#e8686a" stroke-width="2"/>
<line x1="757.85" y1="2355.9" x2="761.45" y2="2355.9" stroke="#e8686a" stroke-width="1.6"/>
<line x1="757.85" y1="2389.2" x2="761.45" y2="2389.2" stroke="#e8686a" stroke-width="1.6"/>
<line x1="817.4" y1="2373.1" x2="817.4" y2="2399.5" stroke="#e8686a" stroke-width="2"/>
<line x1="815.6" y1="2373.1" x2="819.2" y2="2373.1" stroke="#e8686a" stroke-width="1.6"/>
<line x1="815.6" y1="2399.5" x2="819.2" y2="2399.5" stroke="#e8686a" stroke-width="1.6"/>
<line x1="875.15" y1="2287.9" x2="875.15" y2="2327.3" stroke="#e8686a" stroke-width="2"/>
<line x1="873.35" y1="2287.9" x2="876.95" y2="2287.9" stroke="#e8686a" stroke-width="1.6"/>
<line x1="873.35" y1="2327.3" x2="876.95" y2="2327.3" stroke="#e8686a" stroke-width="1.6"/>
<circle cx="759.65" cy="2372.5" r="3.7" fill="#e8686a"/>
<circle cx="817.4" cy="2386.3" r="3.7" fill="#e8686a"/>
<circle cx="875.15" cy="2307.2" r="3.7" fill="#e8686a"/>
<polyline points="759.65,2375.8 817.4,2317.1 875.15,2353.4" fill="none" stroke="#6fd7c7" stroke-width="2.4" stroke-linejoin="round"/>
<line x1="759.65" y1="2357" x2="759.65" y2="2394" stroke="#6fd7c7" stroke-width="2"/>
<line x1="757.85" y1="2357" x2="761.45" y2="2357" stroke="#6fd7c7" stroke-width="1.6"/>
<line x1="757.85" y1="2394" x2="761.45" y2="2394" stroke="#6fd7c7" stroke-width="1.6"/>
<line x1="817.4" y1="2315.5" x2="817.4" y2="2318.7" stroke="#6fd7c7" stroke-width="2"/>
<line x1="815.6" y1="2315.5" x2="819.2" y2="2315.5" stroke="#6fd7c7" stroke-width="1.6"/>
<line x1="815.6" y1="2318.7" x2="819.2" y2="2318.7" stroke="#6fd7c7" stroke-width="1.6"/>
<line x1="875.15" y1="2336.2" x2="875.15" y2="2371.3" stroke="#6fd7c7" stroke-width="2"/>
<line x1="873.35" y1="2336.2" x2="876.95" y2="2336.2" stroke="#6fd7c7" stroke-width="1.6"/>
<line x1="873.35" y1="2371.3" x2="876.95" y2="2371.3" stroke="#6fd7c7" stroke-width="1.6"/>
<circle cx="759.65" cy="2375.8" r="3.7" fill="#6fd7c7"/>
<circle cx="817.4" cy="2317.1" r="3.7" fill="#6fd7c7"/>
<circle cx="875.15" cy="2353.4" r="3.7" fill="#6fd7c7"/>
<text x="759.65" y="2275.9" font-size="21" text-anchor="middle">ns</text>
<text x="817.4" y="2275.9" font-size="21" text-anchor="middle">ns</text>
<text x="875.15" y="2275.9" font-size="21" text-anchor="middle">ns</text>
<line x1="929.45" y1="2464.3" x2="1114.25" y2="2464.3" stroke="#000" stroke-width="1.7"/>
<line x1="964.1" y1="2464.3" x2="964.1" y2="2473.8" stroke="#000" stroke-width="1.7"/>
<text x="964.1" y="2494.9" font-size="20.5" text-anchor="middle">T1</text>
<line x1="1021.85" y1="2464.3" x2="1021.85" y2="2473.8" stroke="#000" stroke-width="1.7"/>
<text x="1021.85" y="2494.9" font-size="20.5" text-anchor="middle">T2</text>
<line x1="1079.6" y1="2464.3" x2="1079.6" y2="2473.8" stroke="#000" stroke-width="1.7"/>
<text x="1079.6" y="2494.9" font-size="20.5" text-anchor="middle">T3</text>
<text x="1021.85" y="2111.5" font-size="21" text-anchor="middle">KP.3</text>
<polyline points="964.1,2337.1 1021.85,2347.5 1079.6,2293.7" fill="none" stroke="#e8686a" stroke-width="2.4" stroke-linejoin="round"/>
<line x1="964.1" y1="2328.2" x2="964.1" y2="2345.8" stroke="#e8686a" stroke-width="2"/>
<line x1="962.3" y1="2328.2" x2="965.9" y2="2328.2" stroke="#e8686a" stroke-width="1.6"/>
<line x1="962.3" y1="2345.8" x2="965.9" y2="2345.8" stroke="#e8686a" stroke-width="1.6"/>
<line x1="1021.85" y1="2334.9" x2="1021.85" y2="2360.1" stroke="#e8686a" stroke-width="2"/>
<line x1="1020.05" y1="2334.9" x2="1023.65" y2="2334.9" stroke="#e8686a" stroke-width="1.6"/>
<line x1="1020.05" y1="2360.1" x2="1023.65" y2="2360.1" stroke="#e8686a" stroke-width="1.6"/>
<line x1="1079.6" y1="2283.3" x2="1079.6" y2="2303.8" stroke="#e8686a" stroke-width="2"/>
<line x1="1077.8" y1="2283.3" x2="1081.4" y2="2283.3" stroke="#e8686a" stroke-width="1.6"/>
<line x1="1077.8" y1="2303.8" x2="1081.4" y2="2303.8" stroke="#e8686a" stroke-width="1.6"/>
<circle cx="964.1" cy="2337.1" r="3.7" fill="#e8686a"/>
<circle cx="1021.85" cy="2347.5" r="3.7" fill="#e8686a"/>
<circle cx="1079.6" cy="2293.7" r="3.7" fill="#e8686a"/>
<polyline points="964.1,2340.8 1021.85,2319.3 1079.6,2310" fill="none" stroke="#6fd7c7" stroke-width="2.4" stroke-linejoin="round"/>
<line x1="964.1" y1="2329" x2="964.1" y2="2353.4" stroke="#6fd7c7" stroke-width="2"/>
<line x1="962.3" y1="2329" x2="965.9" y2="2329" stroke="#6fd7c7" stroke-width="1.6"/>
<line x1="962.3" y1="2353.4" x2="965.9" y2="2353.4" stroke="#6fd7c7" stroke-width="1.6"/>
<line x1="1021.85" y1="2298.8" x2="1021.85" y2="2340.8" stroke="#6fd7c7" stroke-width="2"/>
<line x1="1020.05" y1="2298.8" x2="1023.65" y2="2298.8" stroke="#6fd7c7" stroke-width="1.6"/>
<line x1="1020.05" y1="2340.8" x2="1023.65" y2="2340.8" stroke="#6fd7c7" stroke-width="1.6"/>
<line x1="1079.6" y1="2290.4" x2="1079.6" y2="2329.9" stroke="#6fd7c7" stroke-width="2"/>
<line x1="1077.8" y1="2290.4" x2="1081.4" y2="2290.4" stroke="#6fd7c7" stroke-width="1.6"/>
<line x1="1077.8" y1="2329.9" x2="1081.4" y2="2329.9" stroke="#6fd7c7" stroke-width="1.6"/>
<circle cx="964.1" cy="2340.8" r="3.7" fill="#6fd7c7"/>
<circle cx="1021.85" cy="2319.3" r="3.7" fill="#6fd7c7"/>
<circle cx="1079.6" cy="2310" r="3.7" fill="#6fd7c7"/>
<text x="964.1" y="2276.6" font-size="21" text-anchor="middle">ns</text>
<text x="1021.85" y="2276.6" font-size="21" text-anchor="middle">ns</text>
<text x="1079.6" y="2276.6" font-size="21" text-anchor="middle">ns</text>
<line x1="894.8" y1="2146.9" x2="943.7" y2="2146.9" stroke="#6fd7c7" stroke-width="3.9"/>
<circle cx="919.2" cy="2146.9" r="3.7" fill="#6fd7c7"/>
<text x="964" y="2154.3" font-size="21.25">Single infection</text>
<line x1="894.8" y1="2175.4" x2="943.7" y2="2175.4" stroke="#e8686a" stroke-width="3.9"/>
<circle cx="919.2" cy="2175.4" r="3.7" fill="#e8686a"/>
<text x="964" y="2182.4" font-size="21.25">Double infection</text>
</svg></body></html>
